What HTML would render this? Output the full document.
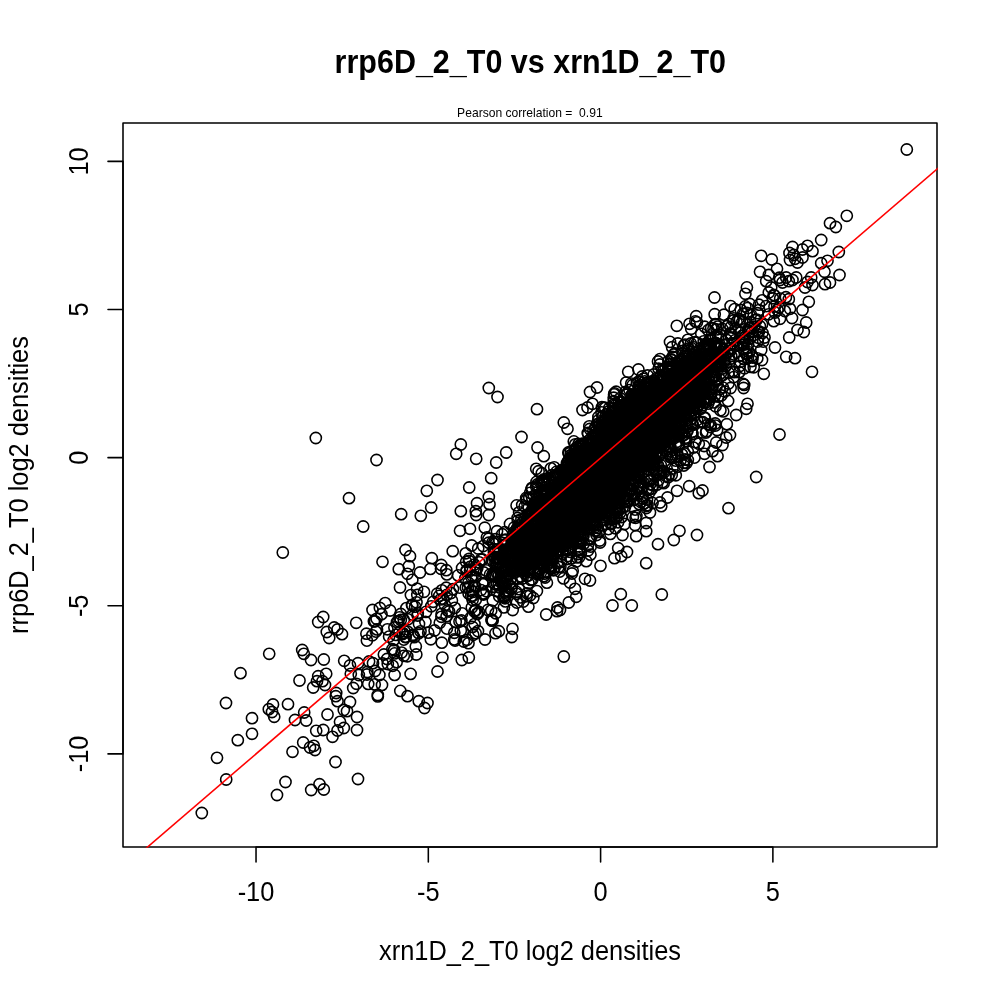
<!DOCTYPE html>
<html><head><meta charset="utf-8"><title>rrp6D_2_T0 vs xrn1D_2_T0</title>
<style>
html,body{margin:0;padding:0;background:#fff;overflow:hidden;}
svg{display:block;}
text{font-family:"Liberation Sans",Arial,Helvetica,sans-serif;fill:#000;}
</style></head><body>
<svg width="1000" height="1000" viewBox="0 0 1000 1000">
<rect width="1000" height="1000" fill="#fff"/>
<defs><clipPath id="clip"><rect x="122.2" y="122.2" width="815.6" height="725.6"/></clipPath></defs>
<g fill="none" stroke="#000" stroke-width="1.56" clip-path="url(#clip)"><circle cx="629.9" cy="475.2" r="5.6"/><circle cx="653.7" cy="374.5" r="5.6"/><circle cx="629.2" cy="420.5" r="5.6"/><circle cx="547.6" cy="498.9" r="5.6"/><circle cx="567.4" cy="485.5" r="5.6"/><circle cx="635.0" cy="406.3" r="5.6"/><circle cx="585.8" cy="465.6" r="5.6"/><circle cx="641.7" cy="453.8" r="5.6"/><circle cx="630.9" cy="458.1" r="5.6"/><circle cx="598.0" cy="500.9" r="5.6"/><circle cx="614.1" cy="474.0" r="5.6"/><circle cx="585.3" cy="469.3" r="5.6"/><circle cx="575.9" cy="500.2" r="5.6"/><circle cx="620.8" cy="449.5" r="5.6"/><circle cx="588.6" cy="481.4" r="5.6"/><circle cx="642.6" cy="402.6" r="5.6"/><circle cx="610.7" cy="449.0" r="5.6"/><circle cx="627.3" cy="404.6" r="5.6"/><circle cx="651.7" cy="397.1" r="5.6"/><circle cx="625.5" cy="457.6" r="5.6"/><circle cx="612.3" cy="476.5" r="5.6"/><circle cx="598.9" cy="480.7" r="5.6"/><circle cx="677.3" cy="389.1" r="5.6"/><circle cx="562.4" cy="517.3" r="5.6"/><circle cx="748.1" cy="344.2" r="5.6"/><circle cx="707.0" cy="349.6" r="5.6"/><circle cx="621.4" cy="451.6" r="5.6"/><circle cx="633.8" cy="400.7" r="5.6"/><circle cx="602.0" cy="473.2" r="5.6"/><circle cx="623.5" cy="414.7" r="5.6"/><circle cx="506.8" cy="571.4" r="5.6"/><circle cx="668.2" cy="433.7" r="5.6"/><circle cx="631.5" cy="450.1" r="5.6"/><circle cx="714.7" cy="314.2" r="5.6"/><circle cx="580.3" cy="468.0" r="5.6"/><circle cx="645.8" cy="409.4" r="5.6"/><circle cx="587.0" cy="478.8" r="5.6"/><circle cx="530.3" cy="551.4" r="5.6"/><circle cx="604.3" cy="431.2" r="5.6"/><circle cx="607.2" cy="461.7" r="5.6"/><circle cx="674.0" cy="393.7" r="5.6"/><circle cx="646.8" cy="432.4" r="5.6"/><circle cx="609.1" cy="462.1" r="5.6"/><circle cx="565.5" cy="499.5" r="5.6"/><circle cx="607.8" cy="449.3" r="5.6"/><circle cx="617.4" cy="438.0" r="5.6"/><circle cx="614.4" cy="452.6" r="5.6"/><circle cx="638.0" cy="422.1" r="5.6"/><circle cx="583.0" cy="513.8" r="5.6"/><circle cx="568.1" cy="499.3" r="5.6"/><circle cx="628.7" cy="455.1" r="5.6"/><circle cx="653.5" cy="422.4" r="5.6"/><circle cx="576.1" cy="459.8" r="5.6"/><circle cx="637.7" cy="438.9" r="5.6"/><circle cx="656.6" cy="426.9" r="5.6"/><circle cx="666.2" cy="393.6" r="5.6"/><circle cx="567.0" cy="522.8" r="5.6"/><circle cx="613.7" cy="483.6" r="5.6"/><circle cx="550.3" cy="509.3" r="5.6"/><circle cx="628.3" cy="439.7" r="5.6"/><circle cx="610.0" cy="474.5" r="5.6"/><circle cx="626.3" cy="462.7" r="5.6"/><circle cx="563.6" cy="527.4" r="5.6"/><circle cx="668.0" cy="413.7" r="5.6"/><circle cx="602.7" cy="416.3" r="5.6"/><circle cx="636.0" cy="447.5" r="5.6"/><circle cx="624.4" cy="463.3" r="5.6"/><circle cx="650.6" cy="417.8" r="5.6"/><circle cx="695.0" cy="352.7" r="5.6"/><circle cx="600.0" cy="512.1" r="5.6"/><circle cx="551.5" cy="535.2" r="5.6"/><circle cx="627.5" cy="432.2" r="5.6"/><circle cx="572.1" cy="507.8" r="5.6"/><circle cx="575.1" cy="485.5" r="5.6"/><circle cx="600.0" cy="479.1" r="5.6"/><circle cx="567.9" cy="501.5" r="5.6"/><circle cx="629.9" cy="458.5" r="5.6"/><circle cx="686.7" cy="390.5" r="5.6"/><circle cx="618.2" cy="449.2" r="5.6"/><circle cx="634.9" cy="437.6" r="5.6"/><circle cx="573.9" cy="460.4" r="5.6"/><circle cx="603.0" cy="464.2" r="5.6"/><circle cx="694.1" cy="390.6" r="5.6"/><circle cx="552.9" cy="535.1" r="5.6"/><circle cx="568.5" cy="527.1" r="5.6"/><circle cx="578.7" cy="488.8" r="5.6"/><circle cx="644.6" cy="417.9" r="5.6"/><circle cx="612.7" cy="444.7" r="5.6"/><circle cx="634.9" cy="474.9" r="5.6"/><circle cx="636.1" cy="466.6" r="5.6"/><circle cx="568.9" cy="482.9" r="5.6"/><circle cx="625.5" cy="391.9" r="5.6"/><circle cx="617.4" cy="433.2" r="5.6"/><circle cx="625.6" cy="428.3" r="5.6"/><circle cx="559.9" cy="518.2" r="5.6"/><circle cx="725.1" cy="355.3" r="5.6"/><circle cx="605.7" cy="456.2" r="5.6"/><circle cx="611.0" cy="474.7" r="5.6"/><circle cx="541.4" cy="554.5" r="5.6"/><circle cx="629.3" cy="436.3" r="5.6"/><circle cx="645.2" cy="446.5" r="5.6"/><circle cx="655.7" cy="434.2" r="5.6"/><circle cx="606.4" cy="510.4" r="5.6"/><circle cx="579.2" cy="479.5" r="5.6"/><circle cx="551.8" cy="507.0" r="5.6"/><circle cx="593.5" cy="475.2" r="5.6"/><circle cx="568.9" cy="518.1" r="5.6"/><circle cx="688.3" cy="395.4" r="5.6"/><circle cx="700.3" cy="376.9" r="5.6"/><circle cx="618.2" cy="449.8" r="5.6"/><circle cx="578.3" cy="499.4" r="5.6"/><circle cx="619.9" cy="461.8" r="5.6"/><circle cx="622.2" cy="456.2" r="5.6"/><circle cx="570.1" cy="519.0" r="5.6"/><circle cx="611.0" cy="480.8" r="5.6"/><circle cx="613.3" cy="453.8" r="5.6"/><circle cx="648.4" cy="434.1" r="5.6"/><circle cx="589.2" cy="479.3" r="5.6"/><circle cx="664.3" cy="394.8" r="5.6"/><circle cx="579.4" cy="506.2" r="5.6"/><circle cx="536.5" cy="525.9" r="5.6"/><circle cx="536.5" cy="525.3" r="5.6"/><circle cx="643.5" cy="429.0" r="5.6"/><circle cx="562.7" cy="470.1" r="5.6"/><circle cx="550.2" cy="524.8" r="5.6"/><circle cx="642.1" cy="395.1" r="5.6"/><circle cx="570.7" cy="477.9" r="5.6"/><circle cx="637.9" cy="432.0" r="5.6"/><circle cx="630.1" cy="423.3" r="5.6"/><circle cx="639.2" cy="432.8" r="5.6"/><circle cx="592.4" cy="443.5" r="5.6"/><circle cx="626.5" cy="432.1" r="5.6"/><circle cx="603.8" cy="429.1" r="5.6"/><circle cx="654.9" cy="428.1" r="5.6"/><circle cx="596.7" cy="485.1" r="5.6"/><circle cx="660.1" cy="359.1" r="5.6"/><circle cx="612.3" cy="453.9" r="5.6"/><circle cx="556.5" cy="519.9" r="5.6"/><circle cx="558.1" cy="530.8" r="5.6"/><circle cx="685.5" cy="378.7" r="5.6"/><circle cx="610.0" cy="441.2" r="5.6"/><circle cx="615.4" cy="431.8" r="5.6"/><circle cx="638.2" cy="428.3" r="5.6"/><circle cx="633.7" cy="451.7" r="5.6"/><circle cx="601.2" cy="461.3" r="5.6"/><circle cx="591.4" cy="483.9" r="5.6"/><circle cx="626.8" cy="474.0" r="5.6"/><circle cx="670.6" cy="388.3" r="5.6"/><circle cx="571.0" cy="513.0" r="5.6"/><circle cx="642.2" cy="439.9" r="5.6"/><circle cx="665.4" cy="393.6" r="5.6"/><circle cx="567.7" cy="503.7" r="5.6"/><circle cx="632.2" cy="450.8" r="5.6"/><circle cx="694.0" cy="400.5" r="5.6"/><circle cx="553.9" cy="478.0" r="5.6"/><circle cx="620.7" cy="479.8" r="5.6"/><circle cx="719.5" cy="344.5" r="5.6"/><circle cx="612.6" cy="457.4" r="5.6"/><circle cx="657.6" cy="431.8" r="5.6"/><circle cx="600.8" cy="472.5" r="5.6"/><circle cx="581.2" cy="489.9" r="5.6"/><circle cx="624.2" cy="436.7" r="5.6"/><circle cx="577.7" cy="486.0" r="5.6"/><circle cx="579.5" cy="462.9" r="5.6"/><circle cx="711.2" cy="347.7" r="5.6"/><circle cx="623.1" cy="465.3" r="5.6"/><circle cx="583.1" cy="460.0" r="5.6"/><circle cx="619.0" cy="445.9" r="5.6"/><circle cx="616.3" cy="485.7" r="5.6"/><circle cx="618.1" cy="422.3" r="5.6"/><circle cx="611.2" cy="473.4" r="5.6"/><circle cx="621.4" cy="454.0" r="5.6"/><circle cx="529.2" cy="531.7" r="5.6"/><circle cx="654.1" cy="401.1" r="5.6"/><circle cx="583.9" cy="480.1" r="5.6"/><circle cx="671.3" cy="366.7" r="5.6"/><circle cx="580.8" cy="506.5" r="5.6"/><circle cx="678.5" cy="399.2" r="5.6"/><circle cx="637.3" cy="437.3" r="5.6"/><circle cx="620.7" cy="413.3" r="5.6"/><circle cx="566.1" cy="470.7" r="5.6"/><circle cx="568.7" cy="523.8" r="5.6"/><circle cx="555.7" cy="491.5" r="5.6"/><circle cx="651.6" cy="421.6" r="5.6"/><circle cx="608.3" cy="511.9" r="5.6"/><circle cx="535.0" cy="515.5" r="5.6"/><circle cx="621.1" cy="483.3" r="5.6"/><circle cx="635.6" cy="471.9" r="5.6"/><circle cx="551.4" cy="502.0" r="5.6"/><circle cx="564.6" cy="490.5" r="5.6"/><circle cx="748.1" cy="330.2" r="5.6"/><circle cx="610.6" cy="480.7" r="5.6"/><circle cx="531.8" cy="535.3" r="5.6"/><circle cx="668.1" cy="417.0" r="5.6"/><circle cx="604.3" cy="470.2" r="5.6"/><circle cx="640.1" cy="439.9" r="5.6"/><circle cx="665.9" cy="408.0" r="5.6"/><circle cx="521.3" cy="568.8" r="5.6"/><circle cx="511.7" cy="569.8" r="5.6"/><circle cx="665.9" cy="395.0" r="5.6"/><circle cx="594.0" cy="505.7" r="5.6"/><circle cx="646.3" cy="414.4" r="5.6"/><circle cx="613.8" cy="453.7" r="5.6"/><circle cx="675.9" cy="411.9" r="5.6"/><circle cx="705.9" cy="383.6" r="5.6"/><circle cx="661.1" cy="426.5" r="5.6"/><circle cx="597.9" cy="480.1" r="5.6"/><circle cx="637.7" cy="447.7" r="5.6"/><circle cx="580.3" cy="471.9" r="5.6"/><circle cx="624.6" cy="463.3" r="5.6"/><circle cx="640.8" cy="424.2" r="5.6"/><circle cx="619.3" cy="462.1" r="5.6"/><circle cx="554.2" cy="503.9" r="5.6"/><circle cx="634.5" cy="423.1" r="5.6"/><circle cx="623.0" cy="467.4" r="5.6"/><circle cx="596.0" cy="483.5" r="5.6"/><circle cx="609.8" cy="457.7" r="5.6"/><circle cx="627.3" cy="425.5" r="5.6"/><circle cx="650.3" cy="418.9" r="5.6"/><circle cx="628.8" cy="428.7" r="5.6"/><circle cx="619.5" cy="456.3" r="5.6"/><circle cx="579.4" cy="494.7" r="5.6"/><circle cx="586.4" cy="506.8" r="5.6"/><circle cx="675.8" cy="427.1" r="5.6"/><circle cx="586.7" cy="501.0" r="5.6"/><circle cx="555.6" cy="501.2" r="5.6"/><circle cx="649.9" cy="412.9" r="5.6"/><circle cx="594.7" cy="483.4" r="5.6"/><circle cx="592.5" cy="456.9" r="5.6"/><circle cx="592.7" cy="467.0" r="5.6"/><circle cx="511.8" cy="587.1" r="5.6"/><circle cx="633.7" cy="421.2" r="5.6"/><circle cx="599.7" cy="470.2" r="5.6"/><circle cx="542.1" cy="533.2" r="5.6"/><circle cx="651.1" cy="431.5" r="5.6"/><circle cx="577.6" cy="485.9" r="5.6"/><circle cx="556.4" cy="498.5" r="5.6"/><circle cx="607.9" cy="474.3" r="5.6"/><circle cx="621.6" cy="442.0" r="5.6"/><circle cx="602.5" cy="495.4" r="5.6"/><circle cx="532.4" cy="544.1" r="5.6"/><circle cx="703.2" cy="353.8" r="5.6"/><circle cx="642.8" cy="409.2" r="5.6"/><circle cx="535.7" cy="541.9" r="5.6"/><circle cx="581.7" cy="470.1" r="5.6"/><circle cx="630.4" cy="446.6" r="5.6"/><circle cx="628.9" cy="441.2" r="5.6"/><circle cx="595.7" cy="486.3" r="5.6"/><circle cx="600.4" cy="471.9" r="5.6"/><circle cx="575.4" cy="497.8" r="5.6"/><circle cx="578.7" cy="500.1" r="5.6"/><circle cx="589.2" cy="456.3" r="5.6"/><circle cx="569.2" cy="459.8" r="5.6"/><circle cx="616.5" cy="470.4" r="5.6"/><circle cx="590.4" cy="474.8" r="5.6"/><circle cx="601.2" cy="476.7" r="5.6"/><circle cx="569.6" cy="493.1" r="5.6"/><circle cx="581.7" cy="495.0" r="5.6"/><circle cx="524.7" cy="506.5" r="5.6"/><circle cx="664.2" cy="413.5" r="5.6"/><circle cx="614.6" cy="435.4" r="5.6"/><circle cx="544.7" cy="501.7" r="5.6"/><circle cx="611.3" cy="465.6" r="5.6"/><circle cx="609.9" cy="432.2" r="5.6"/><circle cx="657.6" cy="412.9" r="5.6"/><circle cx="658.4" cy="420.7" r="5.6"/><circle cx="643.9" cy="442.6" r="5.6"/><circle cx="596.0" cy="465.7" r="5.6"/><circle cx="735.4" cy="328.5" r="5.6"/><circle cx="577.8" cy="492.1" r="5.6"/><circle cx="649.1" cy="446.6" r="5.6"/><circle cx="655.7" cy="448.5" r="5.6"/><circle cx="614.7" cy="427.5" r="5.6"/><circle cx="523.8" cy="569.1" r="5.6"/><circle cx="644.0" cy="450.7" r="5.6"/><circle cx="655.4" cy="410.6" r="5.6"/><circle cx="590.2" cy="494.3" r="5.6"/><circle cx="626.7" cy="450.0" r="5.6"/><circle cx="636.9" cy="441.4" r="5.6"/><circle cx="567.3" cy="509.9" r="5.6"/><circle cx="634.6" cy="420.8" r="5.6"/><circle cx="622.6" cy="433.3" r="5.6"/><circle cx="646.4" cy="414.5" r="5.6"/><circle cx="682.2" cy="360.2" r="5.6"/><circle cx="601.4" cy="485.5" r="5.6"/><circle cx="568.9" cy="498.4" r="5.6"/><circle cx="662.7" cy="377.6" r="5.6"/><circle cx="605.5" cy="466.3" r="5.6"/><circle cx="573.6" cy="460.3" r="5.6"/><circle cx="619.4" cy="441.3" r="5.6"/><circle cx="599.5" cy="497.2" r="5.6"/><circle cx="651.8" cy="427.5" r="5.6"/><circle cx="579.3" cy="482.1" r="5.6"/><circle cx="523.5" cy="538.7" r="5.6"/><circle cx="628.1" cy="436.3" r="5.6"/><circle cx="583.0" cy="480.0" r="5.6"/><circle cx="620.5" cy="472.1" r="5.6"/><circle cx="588.6" cy="479.6" r="5.6"/><circle cx="647.7" cy="414.9" r="5.6"/><circle cx="605.8" cy="459.2" r="5.6"/><circle cx="598.1" cy="445.9" r="5.6"/><circle cx="684.5" cy="395.8" r="5.6"/><circle cx="612.7" cy="419.7" r="5.6"/><circle cx="596.5" cy="448.8" r="5.6"/><circle cx="565.1" cy="486.2" r="5.6"/><circle cx="597.6" cy="480.2" r="5.6"/><circle cx="540.9" cy="517.9" r="5.6"/><circle cx="581.0" cy="459.9" r="5.6"/><circle cx="572.3" cy="477.6" r="5.6"/><circle cx="594.4" cy="435.5" r="5.6"/><circle cx="606.9" cy="495.4" r="5.6"/><circle cx="682.7" cy="399.3" r="5.6"/><circle cx="614.4" cy="501.0" r="5.6"/><circle cx="696.0" cy="377.3" r="5.6"/><circle cx="682.2" cy="380.3" r="5.6"/><circle cx="608.6" cy="462.8" r="5.6"/><circle cx="580.6" cy="466.8" r="5.6"/><circle cx="567.3" cy="478.2" r="5.6"/><circle cx="631.9" cy="467.4" r="5.6"/><circle cx="601.5" cy="467.6" r="5.6"/><circle cx="560.5" cy="506.5" r="5.6"/><circle cx="566.7" cy="538.7" r="5.6"/><circle cx="622.0" cy="430.3" r="5.6"/><circle cx="586.6" cy="492.1" r="5.6"/><circle cx="659.6" cy="443.5" r="5.6"/><circle cx="555.8" cy="516.8" r="5.6"/><circle cx="611.9" cy="450.0" r="5.6"/><circle cx="636.3" cy="437.1" r="5.6"/><circle cx="679.4" cy="386.3" r="5.6"/><circle cx="580.8" cy="481.7" r="5.6"/><circle cx="614.2" cy="474.0" r="5.6"/><circle cx="588.4" cy="467.9" r="5.6"/><circle cx="532.7" cy="562.8" r="5.6"/><circle cx="498.7" cy="584.5" r="5.6"/><circle cx="625.7" cy="472.5" r="5.6"/><circle cx="557.7" cy="491.5" r="5.6"/><circle cx="642.2" cy="376.5" r="5.6"/><circle cx="547.0" cy="531.8" r="5.6"/><circle cx="587.9" cy="457.6" r="5.6"/><circle cx="602.5" cy="469.6" r="5.6"/><circle cx="582.0" cy="500.3" r="5.6"/><circle cx="608.9" cy="469.6" r="5.6"/><circle cx="652.3" cy="430.3" r="5.6"/><circle cx="585.0" cy="490.8" r="5.6"/><circle cx="656.9" cy="429.5" r="5.6"/><circle cx="612.9" cy="467.3" r="5.6"/><circle cx="696.8" cy="382.3" r="5.6"/><circle cx="654.8" cy="392.9" r="5.6"/><circle cx="633.5" cy="422.3" r="5.6"/><circle cx="656.3" cy="386.0" r="5.6"/><circle cx="629.5" cy="390.1" r="5.6"/><circle cx="571.3" cy="541.5" r="5.6"/><circle cx="665.7" cy="450.1" r="5.6"/><circle cx="584.2" cy="473.4" r="5.6"/><circle cx="637.2" cy="424.4" r="5.6"/><circle cx="579.0" cy="503.5" r="5.6"/><circle cx="662.9" cy="409.9" r="5.6"/><circle cx="575.9" cy="523.3" r="5.6"/><circle cx="615.2" cy="456.8" r="5.6"/><circle cx="610.7" cy="475.9" r="5.6"/><circle cx="672.1" cy="347.2" r="5.6"/><circle cx="648.2" cy="422.6" r="5.6"/><circle cx="551.7" cy="503.4" r="5.6"/><circle cx="635.5" cy="394.3" r="5.6"/><circle cx="575.4" cy="487.7" r="5.6"/><circle cx="718.8" cy="358.8" r="5.6"/><circle cx="696.6" cy="373.4" r="5.6"/><circle cx="585.9" cy="500.4" r="5.6"/><circle cx="546.0" cy="495.8" r="5.6"/><circle cx="680.4" cy="416.8" r="5.6"/><circle cx="552.7" cy="537.2" r="5.6"/><circle cx="638.5" cy="407.9" r="5.6"/><circle cx="663.5" cy="426.2" r="5.6"/><circle cx="579.3" cy="516.4" r="5.6"/><circle cx="585.7" cy="491.1" r="5.6"/><circle cx="606.8" cy="468.8" r="5.6"/><circle cx="688.5" cy="374.4" r="5.6"/><circle cx="612.7" cy="454.2" r="5.6"/><circle cx="563.2" cy="496.5" r="5.6"/><circle cx="657.8" cy="388.7" r="5.6"/><circle cx="603.4" cy="487.4" r="5.6"/><circle cx="607.8" cy="448.3" r="5.6"/><circle cx="555.7" cy="475.6" r="5.6"/><circle cx="583.7" cy="474.7" r="5.6"/><circle cx="575.1" cy="482.0" r="5.6"/><circle cx="578.6" cy="489.7" r="5.6"/><circle cx="651.2" cy="422.7" r="5.6"/><circle cx="618.2" cy="468.7" r="5.6"/><circle cx="625.5" cy="468.0" r="5.6"/><circle cx="603.0" cy="447.2" r="5.6"/><circle cx="697.3" cy="371.6" r="5.6"/><circle cx="603.2" cy="454.2" r="5.6"/><circle cx="600.9" cy="481.2" r="5.6"/><circle cx="569.4" cy="492.4" r="5.6"/><circle cx="649.8" cy="407.2" r="5.6"/><circle cx="681.3" cy="388.9" r="5.6"/><circle cx="585.1" cy="471.7" r="5.6"/><circle cx="636.4" cy="463.1" r="5.6"/><circle cx="712.0" cy="356.8" r="5.6"/><circle cx="692.6" cy="406.9" r="5.6"/><circle cx="640.8" cy="437.9" r="5.6"/><circle cx="659.7" cy="404.3" r="5.6"/><circle cx="593.8" cy="453.4" r="5.6"/><circle cx="671.7" cy="374.1" r="5.6"/><circle cx="662.8" cy="410.9" r="5.6"/><circle cx="498.7" cy="576.0" r="5.6"/><circle cx="651.0" cy="412.6" r="5.6"/><circle cx="552.9" cy="492.7" r="5.6"/><circle cx="596.4" cy="458.0" r="5.6"/><circle cx="553.8" cy="508.7" r="5.6"/><circle cx="560.1" cy="513.5" r="5.6"/><circle cx="569.4" cy="516.3" r="5.6"/><circle cx="648.6" cy="432.3" r="5.6"/><circle cx="657.8" cy="408.4" r="5.6"/><circle cx="618.7" cy="440.3" r="5.6"/><circle cx="605.7" cy="508.4" r="5.6"/><circle cx="609.8" cy="453.4" r="5.6"/><circle cx="622.8" cy="450.7" r="5.6"/><circle cx="643.4" cy="413.0" r="5.6"/><circle cx="628.2" cy="444.6" r="5.6"/><circle cx="630.1" cy="419.9" r="5.6"/><circle cx="562.4" cy="514.9" r="5.6"/><circle cx="643.2" cy="439.4" r="5.6"/><circle cx="627.0" cy="429.1" r="5.6"/><circle cx="633.8" cy="441.4" r="5.6"/><circle cx="538.8" cy="539.3" r="5.6"/><circle cx="637.9" cy="474.5" r="5.6"/><circle cx="699.7" cy="388.1" r="5.6"/><circle cx="603.9" cy="420.5" r="5.6"/><circle cx="622.4" cy="444.2" r="5.6"/><circle cx="579.1" cy="488.0" r="5.6"/><circle cx="583.4" cy="502.6" r="5.6"/><circle cx="610.2" cy="458.7" r="5.6"/><circle cx="667.8" cy="406.4" r="5.6"/><circle cx="669.0" cy="389.0" r="5.6"/><circle cx="584.9" cy="471.7" r="5.6"/><circle cx="646.4" cy="439.8" r="5.6"/><circle cx="667.1" cy="420.9" r="5.6"/><circle cx="681.4" cy="399.7" r="5.6"/><circle cx="656.1" cy="397.4" r="5.6"/><circle cx="594.8" cy="486.6" r="5.6"/><circle cx="634.1" cy="429.7" r="5.6"/><circle cx="615.4" cy="433.4" r="5.6"/><circle cx="656.9" cy="436.1" r="5.6"/><circle cx="506.2" cy="590.6" r="5.6"/><circle cx="658.3" cy="430.3" r="5.6"/><circle cx="626.7" cy="456.1" r="5.6"/><circle cx="614.6" cy="426.5" r="5.6"/><circle cx="636.8" cy="448.3" r="5.6"/><circle cx="573.6" cy="488.9" r="5.6"/><circle cx="603.5" cy="454.7" r="5.6"/><circle cx="622.4" cy="434.2" r="5.6"/><circle cx="704.4" cy="387.2" r="5.6"/><circle cx="615.3" cy="453.2" r="5.6"/><circle cx="680.5" cy="406.3" r="5.6"/><circle cx="701.0" cy="391.1" r="5.6"/><circle cx="616.6" cy="480.6" r="5.6"/><circle cx="532.3" cy="546.5" r="5.6"/><circle cx="576.9" cy="498.0" r="5.6"/><circle cx="591.8" cy="440.6" r="5.6"/><circle cx="625.9" cy="415.7" r="5.6"/><circle cx="613.8" cy="495.4" r="5.6"/><circle cx="601.1" cy="475.7" r="5.6"/><circle cx="602.7" cy="455.1" r="5.6"/><circle cx="619.9" cy="430.2" r="5.6"/><circle cx="634.4" cy="396.8" r="5.6"/><circle cx="568.4" cy="497.9" r="5.6"/><circle cx="612.2" cy="442.5" r="5.6"/><circle cx="536.6" cy="522.0" r="5.6"/><circle cx="625.7" cy="425.5" r="5.6"/><circle cx="643.8" cy="442.0" r="5.6"/><circle cx="604.5" cy="492.3" r="5.6"/><circle cx="626.9" cy="411.2" r="5.6"/><circle cx="642.1" cy="450.6" r="5.6"/><circle cx="645.9" cy="422.3" r="5.6"/><circle cx="624.6" cy="462.0" r="5.6"/><circle cx="638.2" cy="429.0" r="5.6"/><circle cx="662.7" cy="416.8" r="5.6"/><circle cx="632.4" cy="415.8" r="5.6"/><circle cx="617.2" cy="466.9" r="5.6"/><circle cx="562.7" cy="516.3" r="5.6"/><circle cx="675.9" cy="399.1" r="5.6"/><circle cx="619.3" cy="468.3" r="5.6"/><circle cx="571.7" cy="512.1" r="5.6"/><circle cx="671.7" cy="394.1" r="5.6"/><circle cx="620.8" cy="437.4" r="5.6"/><circle cx="668.1" cy="370.1" r="5.6"/><circle cx="626.2" cy="460.4" r="5.6"/><circle cx="604.0" cy="441.3" r="5.6"/><circle cx="593.7" cy="464.8" r="5.6"/><circle cx="584.6" cy="468.1" r="5.6"/><circle cx="505.9" cy="544.2" r="5.6"/><circle cx="601.0" cy="458.2" r="5.6"/><circle cx="614.1" cy="444.6" r="5.6"/><circle cx="544.2" cy="490.2" r="5.6"/><circle cx="721.4" cy="351.6" r="5.6"/><circle cx="543.3" cy="521.6" r="5.6"/><circle cx="666.5" cy="406.2" r="5.6"/><circle cx="552.7" cy="499.5" r="5.6"/><circle cx="668.1" cy="369.5" r="5.6"/><circle cx="657.0" cy="443.6" r="5.6"/><circle cx="646.1" cy="397.6" r="5.6"/><circle cx="642.0" cy="414.6" r="5.6"/><circle cx="625.6" cy="403.1" r="5.6"/><circle cx="547.3" cy="519.2" r="5.6"/><circle cx="643.2" cy="448.9" r="5.6"/><circle cx="529.1" cy="516.1" r="5.6"/><circle cx="548.2" cy="522.5" r="5.6"/><circle cx="654.2" cy="407.4" r="5.6"/><circle cx="620.8" cy="434.1" r="5.6"/><circle cx="572.2" cy="461.5" r="5.6"/><circle cx="625.2" cy="457.4" r="5.6"/><circle cx="649.7" cy="461.6" r="5.6"/><circle cx="666.0" cy="383.4" r="5.6"/><circle cx="659.9" cy="418.8" r="5.6"/><circle cx="641.1" cy="434.6" r="5.6"/><circle cx="692.3" cy="379.6" r="5.6"/><circle cx="535.7" cy="549.2" r="5.6"/><circle cx="498.1" cy="562.3" r="5.6"/><circle cx="574.3" cy="494.5" r="5.6"/><circle cx="609.9" cy="453.3" r="5.6"/><circle cx="542.8" cy="567.1" r="5.6"/><circle cx="538.7" cy="552.8" r="5.6"/><circle cx="677.5" cy="417.4" r="5.6"/><circle cx="584.3" cy="458.3" r="5.6"/><circle cx="641.6" cy="408.3" r="5.6"/><circle cx="643.0" cy="437.3" r="5.6"/><circle cx="599.2" cy="469.6" r="5.6"/><circle cx="674.9" cy="399.6" r="5.6"/><circle cx="584.3" cy="522.9" r="5.6"/><circle cx="706.3" cy="399.4" r="5.6"/><circle cx="672.5" cy="382.2" r="5.6"/><circle cx="563.1" cy="514.6" r="5.6"/><circle cx="613.7" cy="472.5" r="5.6"/><circle cx="563.5" cy="522.9" r="5.6"/><circle cx="564.4" cy="491.6" r="5.6"/><circle cx="650.2" cy="418.0" r="5.6"/><circle cx="608.3" cy="460.3" r="5.6"/><circle cx="556.2" cy="512.8" r="5.6"/><circle cx="589.4" cy="481.9" r="5.6"/><circle cx="558.2" cy="531.8" r="5.6"/><circle cx="606.3" cy="458.6" r="5.6"/><circle cx="673.5" cy="374.7" r="5.6"/><circle cx="556.2" cy="525.0" r="5.6"/><circle cx="584.7" cy="482.5" r="5.6"/><circle cx="651.1" cy="422.7" r="5.6"/><circle cx="687.4" cy="385.4" r="5.6"/><circle cx="564.6" cy="491.8" r="5.6"/><circle cx="547.2" cy="526.8" r="5.6"/><circle cx="652.6" cy="442.1" r="5.6"/><circle cx="600.5" cy="452.4" r="5.6"/><circle cx="610.1" cy="485.8" r="5.6"/><circle cx="600.7" cy="482.9" r="5.6"/><circle cx="576.1" cy="497.9" r="5.6"/><circle cx="657.3" cy="406.3" r="5.6"/><circle cx="560.4" cy="514.9" r="5.6"/><circle cx="566.1" cy="493.9" r="5.6"/><circle cx="639.2" cy="418.9" r="5.6"/><circle cx="616.6" cy="462.1" r="5.6"/><circle cx="620.9" cy="465.6" r="5.6"/><circle cx="702.0" cy="375.2" r="5.6"/><circle cx="603.7" cy="481.4" r="5.6"/><circle cx="706.7" cy="368.9" r="5.6"/><circle cx="632.6" cy="395.2" r="5.6"/><circle cx="706.7" cy="367.4" r="5.6"/><circle cx="646.9" cy="441.7" r="5.6"/><circle cx="656.6" cy="392.8" r="5.6"/><circle cx="614.5" cy="442.9" r="5.6"/><circle cx="711.2" cy="340.7" r="5.6"/><circle cx="522.2" cy="571.6" r="5.6"/><circle cx="550.4" cy="522.6" r="5.6"/><circle cx="619.0" cy="458.7" r="5.6"/><circle cx="628.1" cy="427.6" r="5.6"/><circle cx="647.1" cy="449.9" r="5.6"/><circle cx="629.7" cy="419.8" r="5.6"/><circle cx="660.5" cy="424.7" r="5.6"/><circle cx="626.6" cy="409.1" r="5.6"/><circle cx="647.9" cy="428.6" r="5.6"/><circle cx="570.1" cy="479.8" r="5.6"/><circle cx="567.0" cy="490.9" r="5.6"/><circle cx="559.7" cy="521.8" r="5.6"/><circle cx="608.0" cy="484.9" r="5.6"/><circle cx="594.8" cy="474.1" r="5.6"/><circle cx="629.3" cy="438.1" r="5.6"/><circle cx="541.4" cy="546.6" r="5.6"/><circle cx="538.6" cy="547.5" r="5.6"/><circle cx="589.6" cy="511.7" r="5.6"/><circle cx="640.0" cy="431.0" r="5.6"/><circle cx="549.7" cy="496.2" r="5.6"/><circle cx="593.9" cy="470.8" r="5.6"/><circle cx="691.6" cy="395.4" r="5.6"/><circle cx="655.4" cy="421.9" r="5.6"/><circle cx="577.4" cy="482.8" r="5.6"/><circle cx="517.9" cy="520.7" r="5.6"/><circle cx="632.0" cy="461.7" r="5.6"/><circle cx="628.2" cy="429.5" r="5.6"/><circle cx="705.6" cy="368.9" r="5.6"/><circle cx="613.8" cy="465.8" r="5.6"/><circle cx="628.1" cy="424.1" r="5.6"/><circle cx="542.1" cy="520.0" r="5.6"/><circle cx="587.0" cy="494.5" r="5.6"/><circle cx="721.5" cy="362.4" r="5.6"/><circle cx="683.7" cy="345.5" r="5.6"/><circle cx="613.2" cy="472.2" r="5.6"/><circle cx="542.3" cy="534.3" r="5.6"/><circle cx="619.1" cy="401.8" r="5.6"/><circle cx="657.0" cy="417.1" r="5.6"/><circle cx="600.5" cy="460.2" r="5.6"/><circle cx="649.2" cy="409.0" r="5.6"/><circle cx="576.6" cy="483.4" r="5.6"/><circle cx="590.3" cy="480.6" r="5.6"/><circle cx="526.9" cy="499.3" r="5.6"/><circle cx="573.7" cy="513.0" r="5.6"/><circle cx="597.4" cy="511.2" r="5.6"/><circle cx="578.6" cy="443.8" r="5.6"/><circle cx="654.9" cy="426.8" r="5.6"/><circle cx="636.4" cy="453.8" r="5.6"/><circle cx="596.5" cy="449.6" r="5.6"/><circle cx="704.7" cy="346.0" r="5.6"/><circle cx="623.4" cy="434.9" r="5.6"/><circle cx="596.2" cy="468.1" r="5.6"/><circle cx="697.1" cy="386.2" r="5.6"/><circle cx="706.8" cy="348.2" r="5.6"/><circle cx="635.2" cy="427.0" r="5.6"/><circle cx="660.2" cy="428.6" r="5.6"/><circle cx="567.1" cy="508.0" r="5.6"/><circle cx="588.8" cy="486.5" r="5.6"/><circle cx="595.1" cy="484.3" r="5.6"/><circle cx="645.7" cy="458.4" r="5.6"/><circle cx="619.5" cy="486.4" r="5.6"/><circle cx="632.7" cy="439.4" r="5.6"/><circle cx="582.9" cy="479.5" r="5.6"/><circle cx="614.2" cy="463.7" r="5.6"/><circle cx="557.2" cy="490.4" r="5.6"/><circle cx="576.2" cy="527.5" r="5.6"/><circle cx="684.4" cy="390.6" r="5.6"/><circle cx="701.4" cy="357.5" r="5.6"/><circle cx="531.7" cy="540.7" r="5.6"/><circle cx="640.2" cy="453.1" r="5.6"/><circle cx="664.1" cy="390.8" r="5.6"/><circle cx="621.4" cy="445.0" r="5.6"/><circle cx="582.8" cy="490.7" r="5.6"/><circle cx="666.1" cy="374.7" r="5.6"/><circle cx="639.1" cy="460.3" r="5.6"/><circle cx="592.5" cy="490.4" r="5.6"/><circle cx="584.4" cy="491.0" r="5.6"/><circle cx="684.2" cy="371.7" r="5.6"/><circle cx="636.4" cy="448.8" r="5.6"/><circle cx="663.5" cy="407.5" r="5.6"/><circle cx="504.0" cy="597.0" r="5.6"/><circle cx="624.7" cy="445.8" r="5.6"/><circle cx="506.7" cy="576.1" r="5.6"/><circle cx="621.8" cy="475.7" r="5.6"/><circle cx="650.0" cy="422.4" r="5.6"/><circle cx="508.5" cy="574.0" r="5.6"/><circle cx="607.6" cy="471.3" r="5.6"/><circle cx="703.5" cy="373.5" r="5.6"/><circle cx="607.2" cy="458.4" r="5.6"/><circle cx="554.6" cy="516.7" r="5.6"/><circle cx="616.2" cy="472.8" r="5.6"/><circle cx="720.5" cy="356.5" r="5.6"/><circle cx="588.2" cy="510.6" r="5.6"/><circle cx="591.8" cy="497.1" r="5.6"/><circle cx="539.6" cy="540.0" r="5.6"/><circle cx="651.9" cy="411.1" r="5.6"/><circle cx="598.3" cy="443.2" r="5.6"/><circle cx="638.9" cy="387.0" r="5.6"/><circle cx="656.0" cy="418.1" r="5.6"/><circle cx="569.1" cy="536.5" r="5.6"/><circle cx="580.5" cy="499.2" r="5.6"/><circle cx="565.7" cy="474.3" r="5.6"/><circle cx="586.0" cy="467.0" r="5.6"/><circle cx="667.7" cy="396.7" r="5.6"/><circle cx="538.3" cy="528.9" r="5.6"/><circle cx="600.0" cy="458.5" r="5.6"/><circle cx="684.3" cy="410.4" r="5.6"/><circle cx="653.8" cy="440.0" r="5.6"/><circle cx="636.4" cy="431.2" r="5.6"/><circle cx="570.7" cy="511.8" r="5.6"/><circle cx="749.7" cy="331.5" r="5.6"/><circle cx="559.4" cy="505.8" r="5.6"/><circle cx="561.0" cy="526.0" r="5.6"/><circle cx="589.4" cy="471.4" r="5.6"/><circle cx="661.6" cy="413.4" r="5.6"/><circle cx="597.2" cy="468.2" r="5.6"/><circle cx="640.8" cy="418.6" r="5.6"/><circle cx="649.2" cy="424.7" r="5.6"/><circle cx="544.1" cy="519.9" r="5.6"/><circle cx="697.3" cy="384.2" r="5.6"/><circle cx="640.2" cy="453.0" r="5.6"/><circle cx="585.2" cy="497.7" r="5.6"/><circle cx="644.1" cy="420.4" r="5.6"/><circle cx="712.5" cy="366.9" r="5.6"/><circle cx="639.3" cy="424.9" r="5.6"/><circle cx="598.3" cy="424.6" r="5.6"/><circle cx="641.6" cy="434.2" r="5.6"/><circle cx="656.5" cy="407.3" r="5.6"/><circle cx="497.3" cy="573.8" r="5.6"/><circle cx="713.7" cy="344.3" r="5.6"/><circle cx="557.6" cy="510.8" r="5.6"/><circle cx="696.8" cy="387.4" r="5.6"/><circle cx="690.6" cy="381.1" r="5.6"/><circle cx="599.0" cy="468.8" r="5.6"/><circle cx="584.1" cy="487.2" r="5.6"/><circle cx="619.3" cy="451.8" r="5.6"/><circle cx="670.3" cy="403.4" r="5.6"/><circle cx="599.6" cy="462.6" r="5.6"/><circle cx="612.5" cy="469.5" r="5.6"/><circle cx="639.2" cy="418.7" r="5.6"/><circle cx="660.1" cy="406.3" r="5.6"/><circle cx="699.2" cy="387.0" r="5.6"/><circle cx="632.1" cy="458.5" r="5.6"/><circle cx="664.8" cy="400.0" r="5.6"/><circle cx="652.2" cy="417.7" r="5.6"/><circle cx="657.4" cy="400.7" r="5.6"/><circle cx="581.8" cy="489.4" r="5.6"/><circle cx="563.6" cy="507.0" r="5.6"/><circle cx="661.6" cy="435.5" r="5.6"/><circle cx="658.8" cy="432.2" r="5.6"/><circle cx="676.2" cy="388.5" r="5.6"/><circle cx="611.4" cy="465.1" r="5.6"/><circle cx="626.4" cy="447.9" r="5.6"/><circle cx="641.6" cy="419.7" r="5.6"/><circle cx="670.2" cy="418.5" r="5.6"/><circle cx="635.0" cy="452.2" r="5.6"/><circle cx="626.1" cy="469.5" r="5.6"/><circle cx="668.0" cy="401.3" r="5.6"/><circle cx="583.4" cy="489.0" r="5.6"/><circle cx="699.7" cy="400.6" r="5.6"/><circle cx="603.7" cy="421.9" r="5.6"/><circle cx="581.2" cy="475.9" r="5.6"/><circle cx="639.1" cy="412.1" r="5.6"/><circle cx="558.5" cy="506.8" r="5.6"/><circle cx="660.2" cy="390.2" r="5.6"/><circle cx="640.9" cy="447.3" r="5.6"/><circle cx="671.8" cy="421.5" r="5.6"/><circle cx="606.1" cy="471.4" r="5.6"/><circle cx="547.8" cy="534.8" r="5.6"/><circle cx="631.6" cy="434.8" r="5.6"/><circle cx="672.2" cy="383.8" r="5.6"/><circle cx="590.3" cy="488.3" r="5.6"/><circle cx="672.6" cy="399.8" r="5.6"/><circle cx="596.9" cy="481.0" r="5.6"/><circle cx="643.3" cy="428.8" r="5.6"/><circle cx="593.5" cy="456.1" r="5.6"/><circle cx="603.1" cy="455.4" r="5.6"/><circle cx="685.6" cy="368.7" r="5.6"/><circle cx="605.9" cy="418.9" r="5.6"/><circle cx="603.5" cy="462.5" r="5.6"/><circle cx="584.7" cy="477.4" r="5.6"/><circle cx="634.3" cy="427.3" r="5.6"/><circle cx="620.3" cy="457.1" r="5.6"/><circle cx="570.8" cy="491.0" r="5.6"/><circle cx="570.7" cy="524.2" r="5.6"/><circle cx="650.6" cy="442.1" r="5.6"/><circle cx="602.5" cy="466.6" r="5.6"/><circle cx="695.5" cy="376.9" r="5.6"/><circle cx="663.0" cy="410.4" r="5.6"/><circle cx="522.7" cy="532.6" r="5.6"/><circle cx="566.8" cy="491.1" r="5.6"/><circle cx="659.3" cy="398.0" r="5.6"/><circle cx="574.6" cy="494.1" r="5.6"/><circle cx="687.2" cy="392.6" r="5.6"/><circle cx="616.3" cy="453.4" r="5.6"/><circle cx="701.5" cy="396.2" r="5.6"/><circle cx="594.2" cy="487.3" r="5.6"/><circle cx="502.2" cy="571.9" r="5.6"/><circle cx="626.0" cy="469.6" r="5.6"/><circle cx="720.1" cy="366.0" r="5.6"/><circle cx="599.2" cy="485.3" r="5.6"/><circle cx="686.8" cy="409.2" r="5.6"/><circle cx="597.6" cy="466.4" r="5.6"/><circle cx="649.4" cy="429.7" r="5.6"/><circle cx="646.5" cy="403.7" r="5.6"/><circle cx="659.0" cy="425.7" r="5.6"/><circle cx="536.0" cy="509.4" r="5.6"/><circle cx="662.7" cy="420.2" r="5.6"/><circle cx="607.8" cy="465.7" r="5.6"/><circle cx="533.6" cy="562.1" r="5.6"/><circle cx="673.6" cy="429.3" r="5.6"/><circle cx="625.9" cy="429.7" r="5.6"/><circle cx="610.9" cy="468.6" r="5.6"/><circle cx="544.3" cy="539.1" r="5.6"/><circle cx="523.9" cy="537.7" r="5.6"/><circle cx="578.0" cy="522.3" r="5.6"/><circle cx="671.6" cy="392.1" r="5.6"/><circle cx="523.5" cy="541.7" r="5.6"/><circle cx="677.0" cy="392.2" r="5.6"/><circle cx="605.9" cy="485.2" r="5.6"/><circle cx="577.8" cy="519.4" r="5.6"/><circle cx="607.6" cy="456.1" r="5.6"/><circle cx="743.0" cy="313.7" r="5.6"/><circle cx="523.9" cy="533.0" r="5.6"/><circle cx="656.8" cy="398.3" r="5.6"/><circle cx="595.5" cy="471.8" r="5.6"/><circle cx="607.8" cy="473.7" r="5.6"/><circle cx="665.3" cy="384.5" r="5.6"/><circle cx="639.4" cy="421.1" r="5.6"/><circle cx="526.4" cy="516.3" r="5.6"/><circle cx="676.5" cy="405.9" r="5.6"/><circle cx="614.6" cy="453.0" r="5.6"/><circle cx="588.3" cy="462.3" r="5.6"/><circle cx="628.0" cy="460.1" r="5.6"/><circle cx="614.6" cy="443.3" r="5.6"/><circle cx="602.6" cy="470.0" r="5.6"/><circle cx="565.9" cy="528.9" r="5.6"/><circle cx="616.1" cy="490.8" r="5.6"/><circle cx="646.0" cy="414.3" r="5.6"/><circle cx="622.7" cy="473.4" r="5.6"/><circle cx="618.5" cy="434.5" r="5.6"/><circle cx="642.7" cy="426.2" r="5.6"/><circle cx="644.5" cy="434.1" r="5.6"/><circle cx="593.8" cy="461.6" r="5.6"/><circle cx="663.5" cy="397.9" r="5.6"/><circle cx="599.1" cy="473.8" r="5.6"/><circle cx="596.9" cy="489.5" r="5.6"/><circle cx="653.1" cy="447.3" r="5.6"/><circle cx="601.7" cy="464.7" r="5.6"/><circle cx="614.5" cy="472.4" r="5.6"/><circle cx="604.4" cy="492.2" r="5.6"/><circle cx="548.1" cy="519.2" r="5.6"/><circle cx="592.3" cy="498.4" r="5.6"/><circle cx="676.3" cy="363.2" r="5.6"/><circle cx="639.1" cy="475.9" r="5.6"/><circle cx="532.4" cy="519.5" r="5.6"/><circle cx="624.4" cy="459.1" r="5.6"/><circle cx="565.1" cy="549.6" r="5.6"/><circle cx="626.3" cy="426.3" r="5.6"/><circle cx="608.5" cy="483.1" r="5.6"/><circle cx="550.9" cy="468.3" r="5.6"/><circle cx="548.1" cy="550.9" r="5.6"/><circle cx="618.2" cy="463.0" r="5.6"/><circle cx="575.2" cy="474.1" r="5.6"/><circle cx="642.3" cy="442.9" r="5.6"/><circle cx="677.8" cy="343.5" r="5.6"/><circle cx="555.1" cy="505.9" r="5.6"/><circle cx="688.3" cy="405.3" r="5.6"/><circle cx="612.9" cy="456.5" r="5.6"/><circle cx="721.2" cy="369.2" r="5.6"/><circle cx="588.5" cy="458.2" r="5.6"/><circle cx="578.8" cy="466.9" r="5.6"/><circle cx="568.8" cy="487.9" r="5.6"/><circle cx="550.0" cy="540.2" r="5.6"/><circle cx="592.1" cy="478.5" r="5.6"/><circle cx="598.4" cy="443.6" r="5.6"/><circle cx="615.8" cy="467.9" r="5.6"/><circle cx="551.0" cy="541.7" r="5.6"/><circle cx="690.4" cy="398.0" r="5.6"/><circle cx="632.2" cy="418.1" r="5.6"/><circle cx="614.5" cy="484.0" r="5.6"/><circle cx="592.7" cy="498.8" r="5.6"/><circle cx="584.3" cy="512.9" r="5.6"/><circle cx="576.3" cy="479.4" r="5.6"/><circle cx="638.4" cy="446.8" r="5.6"/><circle cx="578.7" cy="478.1" r="5.6"/><circle cx="540.5" cy="514.9" r="5.6"/><circle cx="611.4" cy="463.1" r="5.6"/><circle cx="688.1" cy="351.3" r="5.6"/><circle cx="544.4" cy="536.4" r="5.6"/><circle cx="547.8" cy="501.7" r="5.6"/><circle cx="662.8" cy="418.8" r="5.6"/><circle cx="663.8" cy="417.1" r="5.6"/><circle cx="624.0" cy="461.0" r="5.6"/><circle cx="611.1" cy="434.9" r="5.6"/><circle cx="600.3" cy="453.6" r="5.6"/><circle cx="571.1" cy="484.5" r="5.6"/><circle cx="633.0" cy="427.7" r="5.6"/><circle cx="681.9" cy="393.5" r="5.6"/><circle cx="545.0" cy="499.5" r="5.6"/><circle cx="623.3" cy="430.1" r="5.6"/><circle cx="624.2" cy="442.4" r="5.6"/><circle cx="605.3" cy="407.9" r="5.6"/><circle cx="623.4" cy="442.0" r="5.6"/><circle cx="700.2" cy="388.3" r="5.6"/><circle cx="676.0" cy="405.9" r="5.6"/><circle cx="571.0" cy="479.2" r="5.6"/><circle cx="651.5" cy="391.7" r="5.6"/><circle cx="723.9" cy="314.7" r="5.6"/><circle cx="595.4" cy="451.0" r="5.6"/><circle cx="583.0" cy="497.6" r="5.6"/><circle cx="595.1" cy="473.1" r="5.6"/><circle cx="587.5" cy="452.1" r="5.6"/><circle cx="717.9" cy="357.4" r="5.6"/><circle cx="603.1" cy="443.2" r="5.6"/><circle cx="610.2" cy="428.0" r="5.6"/><circle cx="504.4" cy="540.2" r="5.6"/><circle cx="648.8" cy="391.7" r="5.6"/><circle cx="666.2" cy="399.2" r="5.6"/><circle cx="669.8" cy="383.8" r="5.6"/><circle cx="582.7" cy="534.1" r="5.6"/><circle cx="656.4" cy="393.8" r="5.6"/><circle cx="653.8" cy="392.6" r="5.6"/><circle cx="668.1" cy="406.0" r="5.6"/><circle cx="702.7" cy="347.5" r="5.6"/><circle cx="605.2" cy="436.5" r="5.6"/><circle cx="533.4" cy="527.3" r="5.6"/><circle cx="616.4" cy="445.3" r="5.6"/><circle cx="567.7" cy="512.0" r="5.6"/><circle cx="543.9" cy="525.5" r="5.6"/><circle cx="702.1" cy="375.4" r="5.6"/><circle cx="628.9" cy="444.6" r="5.6"/><circle cx="552.8" cy="533.2" r="5.6"/><circle cx="619.6" cy="430.4" r="5.6"/><circle cx="651.5" cy="408.8" r="5.6"/><circle cx="682.3" cy="401.1" r="5.6"/><circle cx="613.4" cy="455.7" r="5.6"/><circle cx="682.1" cy="382.4" r="5.6"/><circle cx="553.3" cy="507.1" r="5.6"/><circle cx="605.8" cy="473.2" r="5.6"/><circle cx="634.8" cy="437.2" r="5.6"/><circle cx="561.8" cy="499.1" r="5.6"/><circle cx="547.4" cy="526.7" r="5.6"/><circle cx="633.2" cy="451.8" r="5.6"/><circle cx="521.4" cy="555.3" r="5.6"/><circle cx="605.5" cy="449.2" r="5.6"/><circle cx="545.8" cy="522.3" r="5.6"/><circle cx="621.4" cy="443.8" r="5.6"/><circle cx="576.7" cy="479.5" r="5.6"/><circle cx="626.0" cy="445.3" r="5.6"/><circle cx="615.5" cy="448.1" r="5.6"/><circle cx="591.2" cy="495.2" r="5.6"/><circle cx="654.9" cy="443.3" r="5.6"/><circle cx="572.6" cy="475.4" r="5.6"/><circle cx="687.8" cy="404.0" r="5.6"/><circle cx="617.1" cy="473.0" r="5.6"/><circle cx="631.3" cy="439.0" r="5.6"/><circle cx="576.3" cy="477.8" r="5.6"/><circle cx="521.3" cy="552.6" r="5.6"/><circle cx="573.5" cy="499.8" r="5.6"/><circle cx="610.7" cy="461.1" r="5.6"/><circle cx="685.1" cy="401.5" r="5.6"/><circle cx="608.9" cy="439.0" r="5.6"/><circle cx="652.3" cy="385.7" r="5.6"/><circle cx="637.7" cy="430.1" r="5.6"/><circle cx="577.5" cy="493.7" r="5.6"/><circle cx="566.5" cy="493.9" r="5.6"/><circle cx="569.0" cy="496.2" r="5.6"/><circle cx="609.8" cy="471.8" r="5.6"/><circle cx="507.5" cy="560.9" r="5.6"/><circle cx="573.6" cy="490.1" r="5.6"/><circle cx="595.9" cy="461.1" r="5.6"/><circle cx="588.1" cy="514.4" r="5.6"/><circle cx="645.9" cy="435.8" r="5.6"/><circle cx="651.5" cy="420.8" r="5.6"/><circle cx="614.0" cy="468.5" r="5.6"/><circle cx="519.8" cy="530.6" r="5.6"/><circle cx="662.4" cy="403.3" r="5.6"/><circle cx="567.1" cy="526.8" r="5.6"/><circle cx="588.0" cy="462.0" r="5.6"/><circle cx="652.7" cy="437.5" r="5.6"/><circle cx="641.1" cy="427.2" r="5.6"/><circle cx="580.9" cy="484.7" r="5.6"/><circle cx="654.6" cy="405.3" r="5.6"/><circle cx="671.9" cy="408.7" r="5.6"/><circle cx="613.4" cy="468.1" r="5.6"/><circle cx="569.5" cy="493.7" r="5.6"/><circle cx="625.4" cy="460.5" r="5.6"/><circle cx="632.2" cy="451.7" r="5.6"/><circle cx="670.0" cy="391.0" r="5.6"/><circle cx="580.9" cy="528.5" r="5.6"/><circle cx="549.5" cy="497.0" r="5.6"/><circle cx="562.7" cy="526.2" r="5.6"/><circle cx="656.3" cy="397.8" r="5.6"/><circle cx="660.4" cy="415.9" r="5.6"/><circle cx="580.2" cy="498.9" r="5.6"/><circle cx="596.6" cy="504.2" r="5.6"/><circle cx="499.7" cy="551.6" r="5.6"/><circle cx="551.3" cy="551.0" r="5.6"/><circle cx="650.7" cy="437.5" r="5.6"/><circle cx="562.1" cy="520.4" r="5.6"/><circle cx="656.7" cy="455.3" r="5.6"/><circle cx="599.1" cy="458.0" r="5.6"/><circle cx="667.3" cy="383.8" r="5.6"/><circle cx="564.9" cy="499.2" r="5.6"/><circle cx="624.7" cy="457.9" r="5.6"/><circle cx="654.4" cy="384.9" r="5.6"/><circle cx="562.3" cy="504.2" r="5.6"/><circle cx="503.0" cy="560.6" r="5.6"/><circle cx="660.2" cy="406.4" r="5.6"/><circle cx="641.5" cy="438.7" r="5.6"/><circle cx="630.4" cy="438.7" r="5.6"/><circle cx="623.3" cy="483.8" r="5.6"/><circle cx="630.6" cy="438.6" r="5.6"/><circle cx="629.6" cy="463.1" r="5.6"/><circle cx="733.5" cy="318.4" r="5.6"/><circle cx="616.5" cy="452.4" r="5.6"/><circle cx="592.8" cy="467.5" r="5.6"/><circle cx="598.9" cy="482.4" r="5.6"/><circle cx="622.4" cy="432.1" r="5.6"/><circle cx="570.8" cy="498.0" r="5.6"/><circle cx="611.3" cy="462.3" r="5.6"/><circle cx="651.8" cy="411.4" r="5.6"/><circle cx="741.3" cy="344.6" r="5.6"/><circle cx="556.9" cy="476.4" r="5.6"/><circle cx="527.2" cy="564.8" r="5.6"/><circle cx="674.3" cy="396.6" r="5.6"/><circle cx="598.0" cy="458.7" r="5.6"/><circle cx="578.1" cy="463.3" r="5.6"/><circle cx="657.5" cy="434.4" r="5.6"/><circle cx="577.3" cy="523.6" r="5.6"/><circle cx="540.6" cy="538.9" r="5.6"/><circle cx="709.0" cy="344.1" r="5.6"/><circle cx="679.8" cy="398.2" r="5.6"/><circle cx="696.0" cy="374.8" r="5.6"/><circle cx="611.1" cy="464.3" r="5.6"/><circle cx="596.1" cy="473.0" r="5.6"/><circle cx="628.4" cy="449.2" r="5.6"/><circle cx="665.1" cy="391.9" r="5.6"/><circle cx="607.2" cy="477.6" r="5.6"/><circle cx="609.7" cy="418.2" r="5.6"/><circle cx="634.7" cy="456.0" r="5.6"/><circle cx="599.8" cy="470.8" r="5.6"/><circle cx="580.4" cy="485.4" r="5.6"/><circle cx="609.1" cy="465.8" r="5.6"/><circle cx="567.5" cy="515.1" r="5.6"/><circle cx="580.1" cy="457.8" r="5.6"/><circle cx="566.3" cy="524.3" r="5.6"/><circle cx="583.8" cy="543.7" r="5.6"/><circle cx="573.3" cy="470.1" r="5.6"/><circle cx="513.2" cy="561.1" r="5.6"/><circle cx="600.1" cy="453.6" r="5.6"/><circle cx="635.9" cy="411.6" r="5.6"/><circle cx="648.9" cy="398.3" r="5.6"/><circle cx="683.0" cy="395.3" r="5.6"/><circle cx="680.8" cy="412.2" r="5.6"/><circle cx="588.1" cy="481.8" r="5.6"/><circle cx="590.4" cy="459.3" r="5.6"/><circle cx="597.0" cy="443.4" r="5.6"/><circle cx="607.3" cy="502.9" r="5.6"/><circle cx="627.0" cy="428.5" r="5.6"/><circle cx="639.0" cy="394.3" r="5.6"/><circle cx="583.3" cy="443.7" r="5.6"/><circle cx="552.0" cy="475.2" r="5.6"/><circle cx="565.4" cy="513.2" r="5.6"/><circle cx="656.3" cy="432.0" r="5.6"/><circle cx="674.5" cy="396.3" r="5.6"/><circle cx="563.2" cy="498.1" r="5.6"/><circle cx="569.8" cy="504.9" r="5.6"/><circle cx="620.8" cy="457.5" r="5.6"/><circle cx="653.4" cy="405.7" r="5.6"/><circle cx="718.1" cy="355.6" r="5.6"/><circle cx="640.1" cy="426.1" r="5.6"/><circle cx="568.0" cy="469.9" r="5.6"/><circle cx="622.5" cy="435.3" r="5.6"/><circle cx="637.7" cy="450.3" r="5.6"/><circle cx="687.8" cy="339.8" r="5.6"/><circle cx="565.3" cy="497.2" r="5.6"/><circle cx="534.3" cy="509.0" r="5.6"/><circle cx="603.2" cy="475.9" r="5.6"/><circle cx="544.6" cy="547.0" r="5.6"/><circle cx="706.6" cy="343.6" r="5.6"/><circle cx="587.1" cy="496.3" r="5.6"/><circle cx="656.7" cy="418.9" r="5.6"/><circle cx="643.0" cy="435.6" r="5.6"/><circle cx="636.7" cy="419.6" r="5.6"/><circle cx="554.2" cy="505.1" r="5.6"/><circle cx="612.7" cy="468.4" r="5.6"/><circle cx="606.3" cy="480.7" r="5.6"/><circle cx="542.2" cy="541.8" r="5.6"/><circle cx="620.2" cy="398.2" r="5.6"/><circle cx="644.9" cy="409.6" r="5.6"/><circle cx="573.0" cy="508.0" r="5.6"/><circle cx="638.0" cy="430.9" r="5.6"/><circle cx="691.6" cy="383.0" r="5.6"/><circle cx="621.6" cy="449.9" r="5.6"/><circle cx="598.2" cy="463.3" r="5.6"/><circle cx="669.5" cy="405.8" r="5.6"/><circle cx="643.6" cy="451.3" r="5.6"/><circle cx="625.2" cy="442.4" r="5.6"/><circle cx="544.3" cy="484.5" r="5.6"/><circle cx="582.2" cy="466.7" r="5.6"/><circle cx="523.0" cy="526.5" r="5.6"/><circle cx="659.1" cy="405.3" r="5.6"/><circle cx="594.8" cy="471.0" r="5.6"/><circle cx="654.8" cy="414.9" r="5.6"/><circle cx="624.7" cy="428.9" r="5.6"/><circle cx="654.1" cy="407.2" r="5.6"/><circle cx="619.2" cy="454.8" r="5.6"/><circle cx="590.2" cy="485.3" r="5.6"/><circle cx="698.4" cy="376.9" r="5.6"/><circle cx="600.2" cy="470.4" r="5.6"/><circle cx="607.2" cy="451.9" r="5.6"/><circle cx="632.8" cy="453.0" r="5.6"/><circle cx="649.4" cy="399.6" r="5.6"/><circle cx="641.1" cy="402.3" r="5.6"/><circle cx="630.9" cy="435.1" r="5.6"/><circle cx="610.8" cy="420.3" r="5.6"/><circle cx="649.1" cy="437.7" r="5.6"/><circle cx="601.6" cy="512.1" r="5.6"/><circle cx="536.9" cy="543.4" r="5.6"/><circle cx="567.3" cy="503.2" r="5.6"/><circle cx="676.9" cy="420.2" r="5.6"/><circle cx="655.5" cy="390.4" r="5.6"/><circle cx="604.5" cy="487.1" r="5.6"/><circle cx="594.5" cy="522.7" r="5.6"/><circle cx="510.0" cy="523.9" r="5.6"/><circle cx="657.4" cy="431.6" r="5.6"/><circle cx="632.9" cy="438.2" r="5.6"/><circle cx="547.8" cy="511.3" r="5.6"/><circle cx="602.0" cy="499.3" r="5.6"/><circle cx="573.1" cy="501.1" r="5.6"/><circle cx="590.2" cy="521.7" r="5.6"/><circle cx="617.4" cy="456.8" r="5.6"/><circle cx="660.3" cy="408.9" r="5.6"/><circle cx="585.2" cy="495.9" r="5.6"/><circle cx="631.7" cy="437.6" r="5.6"/><circle cx="644.4" cy="448.0" r="5.6"/><circle cx="626.6" cy="474.4" r="5.6"/><circle cx="614.1" cy="448.5" r="5.6"/><circle cx="647.5" cy="413.1" r="5.6"/><circle cx="567.5" cy="499.6" r="5.6"/><circle cx="605.8" cy="482.1" r="5.6"/><circle cx="587.9" cy="500.0" r="5.6"/><circle cx="595.1" cy="473.0" r="5.6"/><circle cx="613.3" cy="456.8" r="5.6"/><circle cx="664.5" cy="423.4" r="5.6"/><circle cx="616.9" cy="484.1" r="5.6"/><circle cx="650.9" cy="412.7" r="5.6"/><circle cx="617.3" cy="426.7" r="5.6"/><circle cx="569.7" cy="471.8" r="5.6"/><circle cx="597.0" cy="476.1" r="5.6"/><circle cx="544.5" cy="543.4" r="5.6"/><circle cx="603.2" cy="470.8" r="5.6"/><circle cx="530.8" cy="579.9" r="5.6"/><circle cx="591.1" cy="482.6" r="5.6"/><circle cx="604.4" cy="484.4" r="5.6"/><circle cx="564.0" cy="520.3" r="5.6"/><circle cx="580.1" cy="513.4" r="5.6"/><circle cx="625.9" cy="425.6" r="5.6"/><circle cx="634.9" cy="471.9" r="5.6"/><circle cx="629.3" cy="443.6" r="5.6"/><circle cx="622.5" cy="469.8" r="5.6"/><circle cx="625.4" cy="462.6" r="5.6"/><circle cx="524.0" cy="534.8" r="5.6"/><circle cx="646.8" cy="423.3" r="5.6"/><circle cx="613.2" cy="471.8" r="5.6"/><circle cx="594.5" cy="460.8" r="5.6"/><circle cx="526.5" cy="547.2" r="5.6"/><circle cx="532.6" cy="532.4" r="5.6"/><circle cx="720.9" cy="352.0" r="5.6"/><circle cx="524.4" cy="554.0" r="5.6"/><circle cx="583.9" cy="485.9" r="5.6"/><circle cx="570.3" cy="502.2" r="5.6"/><circle cx="650.8" cy="419.4" r="5.6"/><circle cx="513.6" cy="567.8" r="5.6"/><circle cx="567.7" cy="481.1" r="5.6"/><circle cx="573.5" cy="482.4" r="5.6"/><circle cx="543.3" cy="532.7" r="5.6"/><circle cx="642.4" cy="410.3" r="5.6"/><circle cx="597.0" cy="480.4" r="5.6"/><circle cx="511.8" cy="571.1" r="5.6"/><circle cx="589.0" cy="479.0" r="5.6"/><circle cx="549.5" cy="522.8" r="5.6"/><circle cx="657.1" cy="426.8" r="5.6"/><circle cx="627.0" cy="442.4" r="5.6"/><circle cx="695.7" cy="378.4" r="5.6"/><circle cx="688.1" cy="400.4" r="5.6"/><circle cx="544.5" cy="535.0" r="5.6"/><circle cx="636.3" cy="398.1" r="5.6"/><circle cx="656.8" cy="417.7" r="5.6"/><circle cx="668.4" cy="400.2" r="5.6"/><circle cx="570.4" cy="522.4" r="5.6"/><circle cx="614.3" cy="434.6" r="5.6"/><circle cx="599.7" cy="478.8" r="5.6"/><circle cx="553.6" cy="531.5" r="5.6"/><circle cx="704.1" cy="378.8" r="5.6"/><circle cx="658.4" cy="397.6" r="5.6"/><circle cx="613.4" cy="469.2" r="5.6"/><circle cx="557.3" cy="541.1" r="5.6"/><circle cx="513.1" cy="534.8" r="5.6"/><circle cx="604.3" cy="472.7" r="5.6"/><circle cx="649.5" cy="459.3" r="5.6"/><circle cx="637.6" cy="423.8" r="5.6"/><circle cx="583.9" cy="489.9" r="5.6"/><circle cx="603.3" cy="478.3" r="5.6"/><circle cx="604.8" cy="491.2" r="5.6"/><circle cx="645.4" cy="413.6" r="5.6"/><circle cx="689.6" cy="369.9" r="5.6"/><circle cx="647.7" cy="433.5" r="5.6"/><circle cx="673.9" cy="390.0" r="5.6"/><circle cx="531.5" cy="512.9" r="5.6"/><circle cx="574.9" cy="474.1" r="5.6"/><circle cx="560.0" cy="500.8" r="5.6"/><circle cx="629.4" cy="463.3" r="5.6"/><circle cx="646.0" cy="422.3" r="5.6"/><circle cx="605.8" cy="475.9" r="5.6"/><circle cx="683.4" cy="373.1" r="5.6"/><circle cx="555.7" cy="489.3" r="5.6"/><circle cx="587.2" cy="484.5" r="5.6"/><circle cx="627.8" cy="418.6" r="5.6"/><circle cx="635.3" cy="395.0" r="5.6"/><circle cx="596.8" cy="470.4" r="5.6"/><circle cx="583.4" cy="480.3" r="5.6"/><circle cx="646.9" cy="428.4" r="5.6"/><circle cx="589.7" cy="459.1" r="5.6"/><circle cx="582.6" cy="496.6" r="5.6"/><circle cx="609.7" cy="487.6" r="5.6"/><circle cx="672.3" cy="369.1" r="5.6"/><circle cx="627.8" cy="454.1" r="5.6"/><circle cx="645.0" cy="399.6" r="5.6"/><circle cx="706.1" cy="357.9" r="5.6"/><circle cx="669.7" cy="394.5" r="5.6"/><circle cx="629.6" cy="408.8" r="5.6"/><circle cx="625.6" cy="449.1" r="5.6"/><circle cx="571.4" cy="470.1" r="5.6"/><circle cx="590.2" cy="442.1" r="5.6"/><circle cx="686.2" cy="399.7" r="5.6"/><circle cx="638.6" cy="381.6" r="5.6"/><circle cx="585.4" cy="472.8" r="5.6"/><circle cx="585.8" cy="457.5" r="5.6"/><circle cx="632.9" cy="461.3" r="5.6"/><circle cx="632.4" cy="454.9" r="5.6"/><circle cx="696.4" cy="366.3" r="5.6"/><circle cx="554.0" cy="548.7" r="5.6"/><circle cx="630.2" cy="454.4" r="5.6"/><circle cx="546.2" cy="529.6" r="5.6"/><circle cx="649.8" cy="423.3" r="5.6"/><circle cx="585.1" cy="499.6" r="5.6"/><circle cx="664.5" cy="436.5" r="5.6"/><circle cx="694.8" cy="387.0" r="5.6"/><circle cx="661.5" cy="417.9" r="5.6"/><circle cx="554.3" cy="547.8" r="5.6"/><circle cx="580.1" cy="471.2" r="5.6"/><circle cx="623.7" cy="429.9" r="5.6"/><circle cx="620.7" cy="459.9" r="5.6"/><circle cx="609.3" cy="461.4" r="5.6"/><circle cx="601.5" cy="412.4" r="5.6"/><circle cx="605.7" cy="489.0" r="5.6"/><circle cx="621.3" cy="413.7" r="5.6"/><circle cx="517.9" cy="557.4" r="5.6"/><circle cx="545.6" cy="539.1" r="5.6"/><circle cx="582.1" cy="524.7" r="5.6"/><circle cx="577.5" cy="474.2" r="5.6"/><circle cx="639.9" cy="448.7" r="5.6"/><circle cx="550.9" cy="517.4" r="5.6"/><circle cx="594.9" cy="474.6" r="5.6"/><circle cx="598.5" cy="491.7" r="5.6"/><circle cx="508.9" cy="574.6" r="5.6"/><circle cx="647.4" cy="453.6" r="5.6"/><circle cx="704.7" cy="326.7" r="5.6"/><circle cx="689.3" cy="394.1" r="5.6"/><circle cx="650.3" cy="409.6" r="5.6"/><circle cx="607.1" cy="459.7" r="5.6"/><circle cx="654.7" cy="409.8" r="5.6"/><circle cx="668.2" cy="367.6" r="5.6"/><circle cx="588.4" cy="505.3" r="5.6"/><circle cx="636.1" cy="449.3" r="5.6"/><circle cx="603.9" cy="488.8" r="5.6"/><circle cx="570.3" cy="465.6" r="5.6"/><circle cx="582.5" cy="507.7" r="5.6"/><circle cx="557.2" cy="516.7" r="5.6"/><circle cx="614.7" cy="425.9" r="5.6"/><circle cx="614.5" cy="470.7" r="5.6"/><circle cx="612.6" cy="455.0" r="5.6"/><circle cx="617.6" cy="457.0" r="5.6"/><circle cx="693.2" cy="406.4" r="5.6"/><circle cx="621.5" cy="435.6" r="5.6"/><circle cx="550.5" cy="514.9" r="5.6"/><circle cx="648.5" cy="442.9" r="5.6"/><circle cx="597.6" cy="473.4" r="5.6"/><circle cx="699.6" cy="387.5" r="5.6"/><circle cx="666.0" cy="387.2" r="5.6"/><circle cx="677.9" cy="381.0" r="5.6"/><circle cx="641.0" cy="445.0" r="5.6"/><circle cx="685.3" cy="425.8" r="5.6"/><circle cx="731.5" cy="337.7" r="5.6"/><circle cx="568.5" cy="479.3" r="5.6"/><circle cx="650.7" cy="414.3" r="5.6"/><circle cx="649.2" cy="404.5" r="5.6"/><circle cx="637.0" cy="431.5" r="5.6"/><circle cx="621.8" cy="462.0" r="5.6"/><circle cx="564.4" cy="515.3" r="5.6"/><circle cx="699.3" cy="370.9" r="5.6"/><circle cx="573.1" cy="472.2" r="5.6"/><circle cx="575.6" cy="483.9" r="5.6"/><circle cx="515.2" cy="547.3" r="5.6"/><circle cx="572.3" cy="472.7" r="5.6"/><circle cx="538.0" cy="528.0" r="5.6"/><circle cx="551.9" cy="505.0" r="5.6"/><circle cx="573.2" cy="466.8" r="5.6"/><circle cx="612.6" cy="469.6" r="5.6"/><circle cx="629.7" cy="453.5" r="5.6"/><circle cx="582.6" cy="469.0" r="5.6"/><circle cx="631.8" cy="447.2" r="5.6"/><circle cx="600.9" cy="493.4" r="5.6"/><circle cx="597.2" cy="473.9" r="5.6"/><circle cx="528.7" cy="507.7" r="5.6"/><circle cx="671.0" cy="417.9" r="5.6"/><circle cx="613.8" cy="474.2" r="5.6"/><circle cx="583.7" cy="479.6" r="5.6"/><circle cx="664.2" cy="401.6" r="5.6"/><circle cx="684.1" cy="393.4" r="5.6"/><circle cx="674.8" cy="395.3" r="5.6"/><circle cx="650.4" cy="437.2" r="5.6"/><circle cx="682.7" cy="351.0" r="5.6"/><circle cx="508.7" cy="552.6" r="5.6"/><circle cx="638.5" cy="453.6" r="5.6"/><circle cx="607.2" cy="425.0" r="5.6"/><circle cx="611.6" cy="434.6" r="5.6"/><circle cx="629.6" cy="439.5" r="5.6"/><circle cx="591.5" cy="464.3" r="5.6"/><circle cx="628.2" cy="422.8" r="5.6"/><circle cx="630.7" cy="447.5" r="5.6"/><circle cx="741.1" cy="332.3" r="5.6"/><circle cx="610.9" cy="441.0" r="5.6"/><circle cx="636.5" cy="449.1" r="5.6"/><circle cx="586.4" cy="499.1" r="5.6"/><circle cx="620.3" cy="468.8" r="5.6"/><circle cx="635.3" cy="433.5" r="5.6"/><circle cx="561.3" cy="523.7" r="5.6"/><circle cx="589.2" cy="480.3" r="5.6"/><circle cx="685.9" cy="386.4" r="5.6"/><circle cx="710.3" cy="345.8" r="5.6"/><circle cx="549.7" cy="562.4" r="5.6"/><circle cx="657.9" cy="386.8" r="5.6"/><circle cx="562.7" cy="472.5" r="5.6"/><circle cx="675.0" cy="382.6" r="5.6"/><circle cx="550.6" cy="556.8" r="5.6"/><circle cx="617.5" cy="444.9" r="5.6"/><circle cx="526.7" cy="538.4" r="5.6"/><circle cx="600.7" cy="514.7" r="5.6"/><circle cx="587.8" cy="500.8" r="5.6"/><circle cx="624.7" cy="441.3" r="5.6"/><circle cx="619.5" cy="502.8" r="5.6"/><circle cx="575.9" cy="476.3" r="5.6"/><circle cx="537.6" cy="536.5" r="5.6"/><circle cx="662.6" cy="376.8" r="5.6"/><circle cx="589.7" cy="472.3" r="5.6"/><circle cx="569.9" cy="514.7" r="5.6"/><circle cx="535.7" cy="520.5" r="5.6"/><circle cx="591.7" cy="499.4" r="5.6"/><circle cx="608.8" cy="482.0" r="5.6"/><circle cx="567.6" cy="473.7" r="5.6"/><circle cx="551.8" cy="506.1" r="5.6"/><circle cx="529.4" cy="541.7" r="5.6"/><circle cx="588.5" cy="489.0" r="5.6"/><circle cx="586.4" cy="456.4" r="5.6"/><circle cx="551.8" cy="533.7" r="5.6"/><circle cx="617.8" cy="446.0" r="5.6"/><circle cx="554.8" cy="506.0" r="5.6"/><circle cx="574.3" cy="502.5" r="5.6"/><circle cx="639.0" cy="390.3" r="5.6"/><circle cx="633.9" cy="405.1" r="5.6"/><circle cx="641.8" cy="443.0" r="5.6"/><circle cx="598.3" cy="478.2" r="5.6"/><circle cx="654.3" cy="416.0" r="5.6"/><circle cx="579.3" cy="495.8" r="5.6"/><circle cx="645.9" cy="429.6" r="5.6"/><circle cx="729.9" cy="333.8" r="5.6"/><circle cx="744.1" cy="359.2" r="5.6"/><circle cx="648.8" cy="449.9" r="5.6"/><circle cx="623.2" cy="427.9" r="5.6"/><circle cx="651.6" cy="382.2" r="5.6"/><circle cx="656.0" cy="434.2" r="5.6"/><circle cx="615.3" cy="462.1" r="5.6"/><circle cx="561.9" cy="512.6" r="5.6"/><circle cx="542.9" cy="546.8" r="5.6"/><circle cx="519.0" cy="525.4" r="5.6"/><circle cx="673.7" cy="354.5" r="5.6"/><circle cx="602.2" cy="476.3" r="5.6"/><circle cx="639.7" cy="425.2" r="5.6"/><circle cx="626.5" cy="449.0" r="5.6"/><circle cx="545.7" cy="517.7" r="5.6"/><circle cx="597.4" cy="509.0" r="5.6"/><circle cx="678.5" cy="361.3" r="5.6"/><circle cx="555.8" cy="508.2" r="5.6"/><circle cx="534.4" cy="525.6" r="5.6"/><circle cx="544.5" cy="521.7" r="5.6"/><circle cx="650.8" cy="382.6" r="5.6"/><circle cx="517.1" cy="569.3" r="5.6"/><circle cx="674.1" cy="415.4" r="5.6"/><circle cx="660.9" cy="427.4" r="5.6"/><circle cx="613.0" cy="442.0" r="5.6"/><circle cx="561.1" cy="477.1" r="5.6"/><circle cx="537.2" cy="499.3" r="5.6"/><circle cx="599.4" cy="444.0" r="5.6"/><circle cx="516.5" cy="591.9" r="5.6"/><circle cx="647.8" cy="395.8" r="5.6"/><circle cx="635.9" cy="411.0" r="5.6"/><circle cx="608.7" cy="454.9" r="5.6"/><circle cx="745.5" cy="340.8" r="5.6"/><circle cx="707.5" cy="383.6" r="5.6"/><circle cx="667.4" cy="393.6" r="5.6"/><circle cx="676.7" cy="395.0" r="5.6"/><circle cx="583.1" cy="514.1" r="5.6"/><circle cx="617.5" cy="444.5" r="5.6"/><circle cx="650.8" cy="442.8" r="5.6"/><circle cx="518.3" cy="555.9" r="5.6"/><circle cx="677.5" cy="412.6" r="5.6"/><circle cx="654.6" cy="408.2" r="5.6"/><circle cx="624.8" cy="454.9" r="5.6"/><circle cx="611.5" cy="460.1" r="5.6"/><circle cx="607.8" cy="469.5" r="5.6"/><circle cx="604.2" cy="452.4" r="5.6"/><circle cx="626.0" cy="427.2" r="5.6"/><circle cx="632.0" cy="415.2" r="5.6"/><circle cx="655.3" cy="419.6" r="5.6"/><circle cx="591.3" cy="477.9" r="5.6"/><circle cx="650.1" cy="424.3" r="5.6"/><circle cx="665.8" cy="408.0" r="5.6"/><circle cx="583.0" cy="485.5" r="5.6"/><circle cx="615.0" cy="481.7" r="5.6"/><circle cx="640.3" cy="453.3" r="5.6"/><circle cx="639.5" cy="427.0" r="5.6"/><circle cx="528.4" cy="583.0" r="5.6"/><circle cx="623.0" cy="466.1" r="5.6"/><circle cx="650.3" cy="410.0" r="5.6"/><circle cx="552.6" cy="513.6" r="5.6"/><circle cx="666.6" cy="392.5" r="5.6"/><circle cx="597.1" cy="482.5" r="5.6"/><circle cx="673.5" cy="393.6" r="5.6"/><circle cx="647.1" cy="438.9" r="5.6"/><circle cx="679.3" cy="381.6" r="5.6"/><circle cx="616.1" cy="445.3" r="5.6"/><circle cx="667.9" cy="413.3" r="5.6"/><circle cx="595.7" cy="501.7" r="5.6"/><circle cx="625.6" cy="466.6" r="5.6"/><circle cx="523.1" cy="540.1" r="5.6"/><circle cx="618.1" cy="447.1" r="5.6"/><circle cx="661.4" cy="413.0" r="5.6"/><circle cx="580.3" cy="499.1" r="5.6"/><circle cx="645.6" cy="434.7" r="5.6"/><circle cx="583.3" cy="503.7" r="5.6"/><circle cx="671.9" cy="429.4" r="5.6"/><circle cx="581.2" cy="469.0" r="5.6"/><circle cx="540.6" cy="515.5" r="5.6"/><circle cx="638.9" cy="415.4" r="5.6"/><circle cx="527.8" cy="559.2" r="5.6"/><circle cx="602.7" cy="434.2" r="5.6"/><circle cx="648.0" cy="421.0" r="5.6"/><circle cx="619.6" cy="439.6" r="5.6"/><circle cx="720.8" cy="365.4" r="5.6"/><circle cx="653.7" cy="431.5" r="5.6"/><circle cx="640.2" cy="424.3" r="5.6"/><circle cx="592.6" cy="475.3" r="5.6"/><circle cx="559.6" cy="515.6" r="5.6"/><circle cx="659.7" cy="398.1" r="5.6"/><circle cx="654.9" cy="440.0" r="5.6"/><circle cx="592.3" cy="485.8" r="5.6"/><circle cx="578.4" cy="470.8" r="5.6"/><circle cx="599.7" cy="461.7" r="5.6"/><circle cx="517.1" cy="528.2" r="5.6"/><circle cx="650.5" cy="427.0" r="5.6"/><circle cx="570.3" cy="485.6" r="5.6"/><circle cx="614.8" cy="438.6" r="5.6"/><circle cx="604.4" cy="479.3" r="5.6"/><circle cx="531.7" cy="533.9" r="5.6"/><circle cx="666.8" cy="387.0" r="5.6"/><circle cx="658.3" cy="394.3" r="5.6"/><circle cx="558.0" cy="493.3" r="5.6"/><circle cx="633.9" cy="480.3" r="5.6"/><circle cx="663.2" cy="403.0" r="5.6"/><circle cx="614.5" cy="439.2" r="5.6"/><circle cx="645.2" cy="451.9" r="5.6"/><circle cx="685.1" cy="383.7" r="5.6"/><circle cx="690.1" cy="370.9" r="5.6"/><circle cx="673.2" cy="377.3" r="5.6"/><circle cx="616.1" cy="456.6" r="5.6"/><circle cx="624.0" cy="446.6" r="5.6"/><circle cx="611.3" cy="444.2" r="5.6"/><circle cx="608.5" cy="466.5" r="5.6"/><circle cx="574.9" cy="475.3" r="5.6"/><circle cx="640.8" cy="421.3" r="5.6"/><circle cx="642.1" cy="420.9" r="5.6"/><circle cx="571.5" cy="506.4" r="5.6"/><circle cx="558.4" cy="507.5" r="5.6"/><circle cx="675.2" cy="398.8" r="5.6"/><circle cx="682.7" cy="366.4" r="5.6"/><circle cx="658.5" cy="425.7" r="5.6"/><circle cx="713.5" cy="377.3" r="5.6"/><circle cx="654.8" cy="429.7" r="5.6"/><circle cx="652.0" cy="391.9" r="5.6"/><circle cx="629.1" cy="429.8" r="5.6"/><circle cx="568.4" cy="487.3" r="5.6"/><circle cx="639.4" cy="439.3" r="5.6"/><circle cx="593.2" cy="459.9" r="5.6"/><circle cx="549.4" cy="511.2" r="5.6"/><circle cx="720.9" cy="373.2" r="5.6"/><circle cx="680.2" cy="397.6" r="5.6"/><circle cx="554.7" cy="506.7" r="5.6"/><circle cx="632.9" cy="427.9" r="5.6"/><circle cx="625.0" cy="463.5" r="5.6"/><circle cx="716.0" cy="379.7" r="5.6"/><circle cx="578.9" cy="483.5" r="5.6"/><circle cx="552.5" cy="488.8" r="5.6"/><circle cx="604.0" cy="472.1" r="5.6"/><circle cx="583.2" cy="475.3" r="5.6"/><circle cx="576.8" cy="465.3" r="5.6"/><circle cx="589.9" cy="494.3" r="5.6"/><circle cx="651.5" cy="423.4" r="5.6"/><circle cx="559.2" cy="495.5" r="5.6"/><circle cx="620.6" cy="439.9" r="5.6"/><circle cx="561.8" cy="511.6" r="5.6"/><circle cx="530.3" cy="534.6" r="5.6"/><circle cx="616.0" cy="452.1" r="5.6"/><circle cx="612.6" cy="490.7" r="5.6"/><circle cx="628.1" cy="453.6" r="5.6"/><circle cx="581.7" cy="454.6" r="5.6"/><circle cx="620.5" cy="444.0" r="5.6"/><circle cx="592.1" cy="489.5" r="5.6"/><circle cx="628.2" cy="449.9" r="5.6"/><circle cx="574.0" cy="479.0" r="5.6"/><circle cx="689.4" cy="373.4" r="5.6"/><circle cx="659.5" cy="412.5" r="5.6"/><circle cx="596.2" cy="461.1" r="5.6"/><circle cx="671.8" cy="403.0" r="5.6"/><circle cx="580.3" cy="468.6" r="5.6"/><circle cx="530.6" cy="519.9" r="5.6"/><circle cx="668.9" cy="405.1" r="5.6"/><circle cx="647.3" cy="393.8" r="5.6"/><circle cx="582.5" cy="503.5" r="5.6"/><circle cx="645.1" cy="407.3" r="5.6"/><circle cx="694.0" cy="347.4" r="5.6"/><circle cx="583.4" cy="493.7" r="5.6"/><circle cx="616.7" cy="470.2" r="5.6"/><circle cx="681.8" cy="411.6" r="5.6"/><circle cx="654.0" cy="435.7" r="5.6"/><circle cx="677.8" cy="401.1" r="5.6"/><circle cx="571.8" cy="515.5" r="5.6"/><circle cx="600.8" cy="480.7" r="5.6"/><circle cx="597.9" cy="441.7" r="5.6"/><circle cx="608.2" cy="477.0" r="5.6"/><circle cx="604.7" cy="460.3" r="5.6"/><circle cx="608.9" cy="442.2" r="5.6"/><circle cx="663.5" cy="410.9" r="5.6"/><circle cx="569.4" cy="509.4" r="5.6"/><circle cx="576.7" cy="475.3" r="5.6"/><circle cx="677.1" cy="369.3" r="5.6"/><circle cx="681.9" cy="400.4" r="5.6"/><circle cx="545.5" cy="538.4" r="5.6"/><circle cx="548.4" cy="479.8" r="5.6"/><circle cx="547.8" cy="516.2" r="5.6"/><circle cx="639.3" cy="396.7" r="5.6"/><circle cx="560.8" cy="516.4" r="5.6"/><circle cx="686.0" cy="382.9" r="5.6"/><circle cx="639.6" cy="447.8" r="5.6"/><circle cx="681.5" cy="404.3" r="5.6"/><circle cx="630.6" cy="443.8" r="5.6"/><circle cx="624.5" cy="464.8" r="5.6"/><circle cx="673.3" cy="376.1" r="5.6"/><circle cx="600.0" cy="431.7" r="5.6"/><circle cx="662.3" cy="408.7" r="5.6"/><circle cx="632.6" cy="439.1" r="5.6"/><circle cx="617.4" cy="441.5" r="5.6"/><circle cx="594.7" cy="492.9" r="5.6"/><circle cx="542.0" cy="538.8" r="5.6"/><circle cx="622.5" cy="428.6" r="5.6"/><circle cx="631.8" cy="458.5" r="5.6"/><circle cx="667.3" cy="373.9" r="5.6"/><circle cx="549.4" cy="511.2" r="5.6"/><circle cx="550.4" cy="549.1" r="5.6"/><circle cx="543.2" cy="491.9" r="5.6"/><circle cx="620.5" cy="442.2" r="5.6"/><circle cx="593.0" cy="501.7" r="5.6"/><circle cx="608.1" cy="474.2" r="5.6"/><circle cx="640.1" cy="441.4" r="5.6"/><circle cx="571.2" cy="558.4" r="5.6"/><circle cx="587.8" cy="448.4" r="5.6"/><circle cx="572.3" cy="501.4" r="5.6"/><circle cx="626.1" cy="418.4" r="5.6"/><circle cx="550.3" cy="526.4" r="5.6"/><circle cx="560.4" cy="511.3" r="5.6"/><circle cx="600.0" cy="475.6" r="5.6"/><circle cx="633.5" cy="434.5" r="5.6"/><circle cx="603.7" cy="447.3" r="5.6"/><circle cx="558.9" cy="521.6" r="5.6"/><circle cx="680.1" cy="396.0" r="5.6"/><circle cx="740.4" cy="361.8" r="5.6"/><circle cx="659.9" cy="444.7" r="5.6"/><circle cx="577.1" cy="467.9" r="5.6"/><circle cx="615.6" cy="459.2" r="5.6"/><circle cx="646.5" cy="456.1" r="5.6"/><circle cx="595.5" cy="463.8" r="5.6"/><circle cx="643.5" cy="419.5" r="5.6"/><circle cx="643.4" cy="426.3" r="5.6"/><circle cx="630.6" cy="451.8" r="5.6"/><circle cx="616.9" cy="465.9" r="5.6"/><circle cx="589.8" cy="485.5" r="5.6"/><circle cx="613.7" cy="397.7" r="5.6"/><circle cx="599.6" cy="482.1" r="5.6"/><circle cx="636.5" cy="448.8" r="5.6"/><circle cx="563.0" cy="489.0" r="5.6"/><circle cx="629.9" cy="413.1" r="5.6"/><circle cx="623.4" cy="439.1" r="5.6"/><circle cx="524.3" cy="551.7" r="5.6"/><circle cx="502.6" cy="567.3" r="5.6"/><circle cx="588.9" cy="491.3" r="5.6"/><circle cx="565.0" cy="519.2" r="5.6"/><circle cx="662.7" cy="397.3" r="5.6"/><circle cx="505.7" cy="539.7" r="5.6"/><circle cx="583.5" cy="489.9" r="5.6"/><circle cx="578.2" cy="475.0" r="5.6"/><circle cx="613.2" cy="445.3" r="5.6"/><circle cx="578.9" cy="491.9" r="5.6"/><circle cx="555.9" cy="486.7" r="5.6"/><circle cx="550.4" cy="497.2" r="5.6"/><circle cx="563.1" cy="523.5" r="5.6"/><circle cx="579.6" cy="470.2" r="5.6"/><circle cx="585.7" cy="476.0" r="5.6"/><circle cx="566.9" cy="488.7" r="5.6"/><circle cx="655.5" cy="442.3" r="5.6"/><circle cx="552.7" cy="540.2" r="5.6"/><circle cx="717.1" cy="366.8" r="5.6"/><circle cx="627.7" cy="425.5" r="5.6"/><circle cx="631.1" cy="420.3" r="5.6"/><circle cx="638.8" cy="458.1" r="5.6"/><circle cx="593.4" cy="458.1" r="5.6"/><circle cx="670.6" cy="387.2" r="5.6"/><circle cx="653.0" cy="419.5" r="5.6"/><circle cx="695.4" cy="321.4" r="5.6"/><circle cx="590.2" cy="503.1" r="5.6"/><circle cx="677.9" cy="406.9" r="5.6"/><circle cx="574.8" cy="501.5" r="5.6"/><circle cx="619.0" cy="443.2" r="5.6"/><circle cx="609.5" cy="494.1" r="5.6"/><circle cx="677.1" cy="413.8" r="5.6"/><circle cx="663.4" cy="402.1" r="5.6"/><circle cx="630.3" cy="469.3" r="5.6"/><circle cx="638.0" cy="438.8" r="5.6"/><circle cx="544.5" cy="501.5" r="5.6"/><circle cx="739.0" cy="356.0" r="5.6"/><circle cx="597.5" cy="494.7" r="5.6"/><circle cx="696.3" cy="366.3" r="5.6"/><circle cx="586.2" cy="455.9" r="5.6"/><circle cx="532.7" cy="510.5" r="5.6"/><circle cx="549.2" cy="536.5" r="5.6"/><circle cx="533.8" cy="506.1" r="5.6"/><circle cx="565.0" cy="487.4" r="5.6"/><circle cx="624.7" cy="456.5" r="5.6"/><circle cx="555.2" cy="513.9" r="5.6"/><circle cx="647.6" cy="417.4" r="5.6"/><circle cx="589.5" cy="496.6" r="5.6"/><circle cx="633.8" cy="424.6" r="5.6"/><circle cx="648.7" cy="425.2" r="5.6"/><circle cx="611.0" cy="445.3" r="5.6"/><circle cx="605.8" cy="452.9" r="5.6"/><circle cx="625.5" cy="446.0" r="5.6"/><circle cx="631.2" cy="436.4" r="5.6"/><circle cx="618.5" cy="423.7" r="5.6"/><circle cx="516.5" cy="542.1" r="5.6"/><circle cx="668.4" cy="406.3" r="5.6"/><circle cx="571.4" cy="483.5" r="5.6"/><circle cx="527.9" cy="553.5" r="5.6"/><circle cx="634.0" cy="424.6" r="5.6"/><circle cx="646.4" cy="398.2" r="5.6"/><circle cx="685.8" cy="353.9" r="5.6"/><circle cx="629.3" cy="441.2" r="5.6"/><circle cx="632.3" cy="430.1" r="5.6"/><circle cx="627.3" cy="426.4" r="5.6"/><circle cx="663.7" cy="446.2" r="5.6"/><circle cx="597.3" cy="508.7" r="5.6"/><circle cx="669.0" cy="410.1" r="5.6"/><circle cx="584.2" cy="489.2" r="5.6"/><circle cx="574.1" cy="463.4" r="5.6"/><circle cx="648.5" cy="384.7" r="5.6"/><circle cx="512.5" cy="550.3" r="5.6"/><circle cx="644.3" cy="424.2" r="5.6"/><circle cx="604.8" cy="473.2" r="5.6"/><circle cx="577.4" cy="487.1" r="5.6"/><circle cx="675.0" cy="411.2" r="5.6"/><circle cx="638.8" cy="433.8" r="5.6"/><circle cx="602.2" cy="459.1" r="5.6"/><circle cx="561.2" cy="525.4" r="5.6"/><circle cx="655.0" cy="420.0" r="5.6"/><circle cx="623.6" cy="456.4" r="5.6"/><circle cx="592.9" cy="476.1" r="5.6"/><circle cx="694.3" cy="370.8" r="5.6"/><circle cx="678.8" cy="376.4" r="5.6"/><circle cx="563.4" cy="491.4" r="5.6"/><circle cx="635.4" cy="447.7" r="5.6"/><circle cx="551.7" cy="512.1" r="5.6"/><circle cx="509.3" cy="550.1" r="5.6"/><circle cx="540.1" cy="519.5" r="5.6"/><circle cx="583.1" cy="475.6" r="5.6"/><circle cx="529.1" cy="546.1" r="5.6"/><circle cx="636.7" cy="431.8" r="5.6"/><circle cx="659.8" cy="440.7" r="5.6"/><circle cx="542.7" cy="512.8" r="5.6"/><circle cx="676.8" cy="385.0" r="5.6"/><circle cx="606.8" cy="460.2" r="5.6"/><circle cx="677.7" cy="373.0" r="5.6"/><circle cx="588.3" cy="488.4" r="5.6"/><circle cx="519.6" cy="548.7" r="5.6"/><circle cx="624.6" cy="420.6" r="5.6"/><circle cx="651.5" cy="395.7" r="5.6"/><circle cx="518.1" cy="535.3" r="5.6"/><circle cx="615.2" cy="458.4" r="5.6"/><circle cx="598.1" cy="444.6" r="5.6"/><circle cx="550.2" cy="501.2" r="5.6"/><circle cx="543.8" cy="549.8" r="5.6"/><circle cx="652.7" cy="456.5" r="5.6"/><circle cx="647.0" cy="421.3" r="5.6"/><circle cx="594.3" cy="435.1" r="5.6"/><circle cx="552.5" cy="498.9" r="5.6"/><circle cx="642.9" cy="472.5" r="5.6"/><circle cx="610.5" cy="474.5" r="5.6"/><circle cx="534.7" cy="538.4" r="5.6"/><circle cx="619.0" cy="476.6" r="5.6"/><circle cx="544.0" cy="491.4" r="5.6"/><circle cx="597.9" cy="467.4" r="5.6"/><circle cx="580.7" cy="485.9" r="5.6"/><circle cx="622.2" cy="430.3" r="5.6"/><circle cx="554.6" cy="507.7" r="5.6"/><circle cx="548.6" cy="539.3" r="5.6"/><circle cx="645.2" cy="431.7" r="5.6"/><circle cx="587.5" cy="478.4" r="5.6"/><circle cx="607.4" cy="455.2" r="5.6"/><circle cx="552.6" cy="528.0" r="5.6"/><circle cx="593.8" cy="449.1" r="5.6"/><circle cx="621.7" cy="402.5" r="5.6"/><circle cx="573.4" cy="493.3" r="5.6"/><circle cx="582.7" cy="483.7" r="5.6"/><circle cx="656.6" cy="411.3" r="5.6"/><circle cx="704.5" cy="354.7" r="5.6"/><circle cx="656.6" cy="407.2" r="5.6"/><circle cx="583.4" cy="535.3" r="5.6"/><circle cx="576.1" cy="447.9" r="5.6"/><circle cx="597.4" cy="463.6" r="5.6"/><circle cx="566.9" cy="559.1" r="5.6"/><circle cx="610.4" cy="491.6" r="5.6"/><circle cx="577.4" cy="526.8" r="5.6"/><circle cx="633.5" cy="395.8" r="5.6"/><circle cx="630.8" cy="453.8" r="5.6"/><circle cx="577.6" cy="494.5" r="5.6"/><circle cx="589.3" cy="468.8" r="5.6"/><circle cx="649.4" cy="441.2" r="5.6"/><circle cx="632.5" cy="435.3" r="5.6"/><circle cx="606.6" cy="477.4" r="5.6"/><circle cx="607.3" cy="460.6" r="5.6"/><circle cx="698.7" cy="373.8" r="5.6"/><circle cx="646.2" cy="402.5" r="5.6"/><circle cx="619.6" cy="474.7" r="5.6"/><circle cx="527.4" cy="520.2" r="5.6"/><circle cx="644.6" cy="415.2" r="5.6"/><circle cx="668.4" cy="385.1" r="5.6"/><circle cx="681.2" cy="395.8" r="5.6"/><circle cx="555.2" cy="523.4" r="5.6"/><circle cx="656.4" cy="414.1" r="5.6"/><circle cx="578.5" cy="498.1" r="5.6"/><circle cx="597.6" cy="459.0" r="5.6"/><circle cx="507.5" cy="581.8" r="5.6"/><circle cx="616.7" cy="437.0" r="5.6"/><circle cx="536.9" cy="524.7" r="5.6"/><circle cx="546.0" cy="550.5" r="5.6"/><circle cx="635.7" cy="418.8" r="5.6"/><circle cx="629.0" cy="419.2" r="5.6"/><circle cx="687.1" cy="383.9" r="5.6"/><circle cx="613.0" cy="478.2" r="5.6"/><circle cx="569.7" cy="526.7" r="5.6"/><circle cx="552.0" cy="523.3" r="5.6"/><circle cx="611.5" cy="454.2" r="5.6"/><circle cx="683.5" cy="388.1" r="5.6"/><circle cx="605.7" cy="465.9" r="5.6"/><circle cx="681.7" cy="411.1" r="5.6"/><circle cx="623.2" cy="457.3" r="5.6"/><circle cx="544.5" cy="539.0" r="5.6"/><circle cx="641.5" cy="448.3" r="5.6"/><circle cx="605.3" cy="476.5" r="5.6"/><circle cx="626.4" cy="394.8" r="5.6"/><circle cx="637.7" cy="467.0" r="5.6"/><circle cx="558.6" cy="507.7" r="5.6"/><circle cx="663.2" cy="407.0" r="5.6"/><circle cx="613.1" cy="482.1" r="5.6"/><circle cx="663.0" cy="376.3" r="5.6"/><circle cx="637.3" cy="440.2" r="5.6"/><circle cx="642.0" cy="440.6" r="5.6"/><circle cx="586.2" cy="491.4" r="5.6"/><circle cx="590.8" cy="475.9" r="5.6"/><circle cx="618.6" cy="454.3" r="5.6"/><circle cx="614.5" cy="485.7" r="5.6"/><circle cx="682.0" cy="372.2" r="5.6"/><circle cx="575.6" cy="492.9" r="5.6"/><circle cx="628.6" cy="414.5" r="5.6"/><circle cx="604.3" cy="440.2" r="5.6"/><circle cx="616.4" cy="467.2" r="5.6"/><circle cx="578.6" cy="510.1" r="5.6"/><circle cx="640.7" cy="409.3" r="5.6"/><circle cx="558.4" cy="519.8" r="5.6"/><circle cx="641.1" cy="444.2" r="5.6"/><circle cx="662.0" cy="423.1" r="5.6"/><circle cx="717.9" cy="363.6" r="5.6"/><circle cx="680.1" cy="413.3" r="5.6"/><circle cx="525.8" cy="558.8" r="5.6"/><circle cx="570.5" cy="488.6" r="5.6"/><circle cx="585.2" cy="457.6" r="5.6"/><circle cx="581.9" cy="505.1" r="5.6"/><circle cx="690.4" cy="366.9" r="5.6"/><circle cx="654.1" cy="408.0" r="5.6"/><circle cx="561.7" cy="511.5" r="5.6"/><circle cx="680.8" cy="360.1" r="5.6"/><circle cx="669.7" cy="370.3" r="5.6"/><circle cx="628.6" cy="428.6" r="5.6"/><circle cx="539.8" cy="554.5" r="5.6"/><circle cx="668.3" cy="420.5" r="5.6"/><circle cx="565.7" cy="475.4" r="5.6"/><circle cx="596.7" cy="473.6" r="5.6"/><circle cx="683.9" cy="378.6" r="5.6"/><circle cx="575.1" cy="454.0" r="5.6"/><circle cx="551.4" cy="495.6" r="5.6"/><circle cx="627.1" cy="437.6" r="5.6"/><circle cx="631.8" cy="412.8" r="5.6"/><circle cx="610.3" cy="439.2" r="5.6"/><circle cx="600.0" cy="467.9" r="5.6"/><circle cx="581.0" cy="513.0" r="5.6"/><circle cx="619.4" cy="415.9" r="5.6"/><circle cx="580.1" cy="508.5" r="5.6"/><circle cx="613.3" cy="457.9" r="5.6"/><circle cx="623.1" cy="430.6" r="5.6"/><circle cx="600.5" cy="447.4" r="5.6"/><circle cx="614.6" cy="430.3" r="5.6"/><circle cx="705.3" cy="376.4" r="5.6"/><circle cx="601.6" cy="470.0" r="5.6"/><circle cx="661.0" cy="409.8" r="5.6"/><circle cx="621.0" cy="481.6" r="5.6"/><circle cx="683.2" cy="403.1" r="5.6"/><circle cx="563.6" cy="528.0" r="5.6"/><circle cx="597.8" cy="485.2" r="5.6"/><circle cx="548.2" cy="517.1" r="5.6"/><circle cx="627.5" cy="450.9" r="5.6"/><circle cx="647.6" cy="428.9" r="5.6"/><circle cx="705.7" cy="382.3" r="5.6"/><circle cx="585.1" cy="496.2" r="5.6"/><circle cx="649.4" cy="436.8" r="5.6"/><circle cx="627.0" cy="441.6" r="5.6"/><circle cx="614.1" cy="437.0" r="5.6"/><circle cx="675.6" cy="413.0" r="5.6"/><circle cx="633.7" cy="449.9" r="5.6"/><circle cx="583.8" cy="488.1" r="5.6"/><circle cx="560.0" cy="524.2" r="5.6"/><circle cx="655.5" cy="408.3" r="5.6"/><circle cx="504.7" cy="532.2" r="5.6"/><circle cx="647.8" cy="421.8" r="5.6"/><circle cx="614.0" cy="435.4" r="5.6"/><circle cx="601.1" cy="429.5" r="5.6"/><circle cx="568.4" cy="471.5" r="5.6"/><circle cx="625.3" cy="468.0" r="5.6"/><circle cx="664.2" cy="402.3" r="5.6"/><circle cx="618.2" cy="445.8" r="5.6"/><circle cx="596.7" cy="475.9" r="5.6"/><circle cx="574.5" cy="489.7" r="5.6"/><circle cx="645.1" cy="431.2" r="5.6"/><circle cx="541.6" cy="555.7" r="5.6"/><circle cx="614.1" cy="487.5" r="5.6"/><circle cx="549.9" cy="557.9" r="5.6"/><circle cx="517.8" cy="539.3" r="5.6"/><circle cx="510.5" cy="578.8" r="5.6"/><circle cx="566.9" cy="483.4" r="5.6"/><circle cx="514.4" cy="563.0" r="5.6"/><circle cx="579.6" cy="482.9" r="5.6"/><circle cx="582.1" cy="443.9" r="5.6"/><circle cx="594.8" cy="499.0" r="5.6"/><circle cx="571.3" cy="487.1" r="5.6"/><circle cx="622.5" cy="450.7" r="5.6"/><circle cx="589.3" cy="479.8" r="5.6"/><circle cx="631.1" cy="439.5" r="5.6"/><circle cx="572.8" cy="481.0" r="5.6"/><circle cx="609.7" cy="457.6" r="5.6"/><circle cx="687.3" cy="369.4" r="5.6"/><circle cx="620.1" cy="474.0" r="5.6"/><circle cx="647.5" cy="399.1" r="5.6"/><circle cx="624.1" cy="447.1" r="5.6"/><circle cx="664.2" cy="426.6" r="5.6"/><circle cx="549.4" cy="514.2" r="5.6"/><circle cx="711.0" cy="339.6" r="5.6"/><circle cx="560.4" cy="499.0" r="5.6"/><circle cx="648.3" cy="416.3" r="5.6"/><circle cx="579.6" cy="477.4" r="5.6"/><circle cx="562.2" cy="487.1" r="5.6"/><circle cx="604.4" cy="476.7" r="5.6"/><circle cx="539.0" cy="515.4" r="5.6"/><circle cx="567.2" cy="513.1" r="5.6"/><circle cx="528.6" cy="515.0" r="5.6"/><circle cx="668.0" cy="413.8" r="5.6"/><circle cx="578.4" cy="462.0" r="5.6"/><circle cx="595.1" cy="476.3" r="5.6"/><circle cx="592.0" cy="482.0" r="5.6"/><circle cx="608.5" cy="474.2" r="5.6"/><circle cx="596.2" cy="504.1" r="5.6"/><circle cx="630.3" cy="461.9" r="5.6"/><circle cx="640.2" cy="402.8" r="5.6"/><circle cx="587.4" cy="496.0" r="5.6"/><circle cx="695.3" cy="372.1" r="5.6"/><circle cx="588.9" cy="487.8" r="5.6"/><circle cx="681.5" cy="407.3" r="5.6"/><circle cx="582.9" cy="522.3" r="5.6"/><circle cx="680.4" cy="388.2" r="5.6"/><circle cx="590.9" cy="467.6" r="5.6"/><circle cx="630.3" cy="461.2" r="5.6"/><circle cx="644.5" cy="460.5" r="5.6"/><circle cx="570.9" cy="451.4" r="5.6"/><circle cx="545.7" cy="534.2" r="5.6"/><circle cx="635.2" cy="455.1" r="5.6"/><circle cx="625.1" cy="454.8" r="5.6"/><circle cx="614.2" cy="451.9" r="5.6"/><circle cx="544.0" cy="507.5" r="5.6"/><circle cx="644.3" cy="387.4" r="5.6"/><circle cx="621.1" cy="443.1" r="5.6"/><circle cx="677.7" cy="409.3" r="5.6"/><circle cx="550.2" cy="513.2" r="5.6"/><circle cx="542.5" cy="499.8" r="5.6"/><circle cx="548.7" cy="528.8" r="5.6"/><circle cx="582.2" cy="468.8" r="5.6"/><circle cx="548.3" cy="544.8" r="5.6"/><circle cx="656.5" cy="403.9" r="5.6"/><circle cx="565.4" cy="493.3" r="5.6"/><circle cx="544.6" cy="493.7" r="5.6"/><circle cx="608.6" cy="469.8" r="5.6"/><circle cx="635.7" cy="429.2" r="5.6"/><circle cx="613.9" cy="420.4" r="5.6"/><circle cx="609.2" cy="438.1" r="5.6"/><circle cx="640.6" cy="436.6" r="5.6"/><circle cx="639.1" cy="442.5" r="5.6"/><circle cx="619.2" cy="454.4" r="5.6"/><circle cx="617.6" cy="455.3" r="5.6"/><circle cx="574.4" cy="504.0" r="5.6"/><circle cx="596.8" cy="452.5" r="5.6"/><circle cx="600.3" cy="464.8" r="5.6"/><circle cx="656.8" cy="377.9" r="5.6"/><circle cx="640.4" cy="440.9" r="5.6"/><circle cx="613.9" cy="435.0" r="5.6"/><circle cx="570.5" cy="483.2" r="5.6"/><circle cx="508.9" cy="550.6" r="5.6"/><circle cx="602.2" cy="467.4" r="5.6"/><circle cx="573.4" cy="468.4" r="5.6"/><circle cx="562.7" cy="533.9" r="5.6"/><circle cx="619.7" cy="475.0" r="5.6"/><circle cx="691.4" cy="373.1" r="5.6"/><circle cx="614.5" cy="393.3" r="5.6"/><circle cx="643.3" cy="403.9" r="5.6"/><circle cx="601.2" cy="487.0" r="5.6"/><circle cx="604.6" cy="427.6" r="5.6"/><circle cx="601.8" cy="452.5" r="5.6"/><circle cx="595.2" cy="489.5" r="5.6"/><circle cx="512.3" cy="583.8" r="5.6"/><circle cx="570.3" cy="496.7" r="5.6"/><circle cx="593.1" cy="482.2" r="5.6"/><circle cx="585.3" cy="466.4" r="5.6"/><circle cx="675.7" cy="412.9" r="5.6"/><circle cx="599.8" cy="458.4" r="5.6"/><circle cx="678.9" cy="370.8" r="5.6"/><circle cx="622.1" cy="458.1" r="5.6"/><circle cx="612.6" cy="477.8" r="5.6"/><circle cx="540.8" cy="501.4" r="5.6"/><circle cx="674.3" cy="408.0" r="5.6"/><circle cx="640.8" cy="413.1" r="5.6"/><circle cx="591.4" cy="437.7" r="5.6"/><circle cx="617.5" cy="448.1" r="5.6"/><circle cx="592.9" cy="458.8" r="5.6"/><circle cx="550.4" cy="506.6" r="5.6"/><circle cx="661.0" cy="406.7" r="5.6"/><circle cx="627.2" cy="423.1" r="5.6"/><circle cx="595.8" cy="435.7" r="5.6"/><circle cx="643.1" cy="418.0" r="5.6"/><circle cx="605.8" cy="443.4" r="5.6"/><circle cx="609.2" cy="463.7" r="5.6"/><circle cx="695.8" cy="372.5" r="5.6"/><circle cx="652.4" cy="405.3" r="5.6"/><circle cx="583.9" cy="478.7" r="5.6"/><circle cx="558.5" cy="503.1" r="5.6"/><circle cx="623.4" cy="461.2" r="5.6"/><circle cx="568.2" cy="486.6" r="5.6"/><circle cx="617.5" cy="440.2" r="5.6"/><circle cx="633.9" cy="408.8" r="5.6"/><circle cx="579.8" cy="499.5" r="5.6"/><circle cx="590.7" cy="487.3" r="5.6"/><circle cx="604.3" cy="454.2" r="5.6"/><circle cx="643.9" cy="424.1" r="5.6"/><circle cx="569.5" cy="495.2" r="5.6"/><circle cx="615.3" cy="451.2" r="5.6"/><circle cx="654.6" cy="432.7" r="5.6"/><circle cx="628.4" cy="442.7" r="5.6"/><circle cx="674.8" cy="409.5" r="5.6"/><circle cx="669.0" cy="394.7" r="5.6"/><circle cx="533.4" cy="547.8" r="5.6"/><circle cx="521.1" cy="528.3" r="5.6"/><circle cx="688.6" cy="397.1" r="5.6"/><circle cx="618.1" cy="433.2" r="5.6"/><circle cx="706.0" cy="368.4" r="5.6"/><circle cx="668.0" cy="399.7" r="5.6"/><circle cx="545.3" cy="538.7" r="5.6"/><circle cx="636.0" cy="442.5" r="5.6"/><circle cx="651.2" cy="457.0" r="5.6"/><circle cx="612.5" cy="451.5" r="5.6"/><circle cx="590.3" cy="463.3" r="5.6"/><circle cx="626.7" cy="447.8" r="5.6"/><circle cx="611.6" cy="494.3" r="5.6"/><circle cx="592.3" cy="490.4" r="5.6"/><circle cx="541.6" cy="499.9" r="5.6"/><circle cx="655.9" cy="398.9" r="5.6"/><circle cx="682.3" cy="393.8" r="5.6"/><circle cx="615.7" cy="483.5" r="5.6"/><circle cx="624.7" cy="420.0" r="5.6"/><circle cx="540.4" cy="512.5" r="5.6"/><circle cx="650.3" cy="442.5" r="5.6"/><circle cx="642.0" cy="423.6" r="5.6"/><circle cx="582.5" cy="475.5" r="5.6"/><circle cx="555.1" cy="493.1" r="5.6"/><circle cx="628.8" cy="443.4" r="5.6"/><circle cx="597.5" cy="472.0" r="5.6"/><circle cx="577.0" cy="459.3" r="5.6"/><circle cx="596.7" cy="453.8" r="5.6"/><circle cx="704.1" cy="390.7" r="5.6"/><circle cx="680.9" cy="394.0" r="5.6"/><circle cx="675.3" cy="383.9" r="5.6"/><circle cx="597.7" cy="480.4" r="5.6"/><circle cx="598.6" cy="487.8" r="5.6"/><circle cx="627.7" cy="451.6" r="5.6"/><circle cx="600.1" cy="477.8" r="5.6"/><circle cx="542.3" cy="530.1" r="5.6"/><circle cx="584.8" cy="495.7" r="5.6"/><circle cx="609.7" cy="498.8" r="5.6"/><circle cx="609.2" cy="432.4" r="5.6"/><circle cx="667.7" cy="403.0" r="5.6"/><circle cx="669.1" cy="398.0" r="5.6"/><circle cx="681.0" cy="396.8" r="5.6"/><circle cx="518.8" cy="589.2" r="5.6"/><circle cx="636.7" cy="437.6" r="5.6"/><circle cx="537.2" cy="532.3" r="5.6"/><circle cx="600.6" cy="461.7" r="5.6"/><circle cx="610.6" cy="434.3" r="5.6"/><circle cx="617.5" cy="456.0" r="5.6"/><circle cx="641.3" cy="394.5" r="5.6"/><circle cx="655.7" cy="427.3" r="5.6"/><circle cx="653.8" cy="406.6" r="5.6"/><circle cx="562.8" cy="550.4" r="5.6"/><circle cx="558.2" cy="476.1" r="5.6"/><circle cx="641.0" cy="428.2" r="5.6"/><circle cx="619.7" cy="466.0" r="5.6"/><circle cx="630.6" cy="444.1" r="5.6"/><circle cx="577.1" cy="492.5" r="5.6"/><circle cx="613.8" cy="408.5" r="5.6"/><circle cx="639.0" cy="428.0" r="5.6"/><circle cx="608.5" cy="468.5" r="5.6"/><circle cx="514.2" cy="527.5" r="5.6"/><circle cx="584.3" cy="490.6" r="5.6"/><circle cx="633.4" cy="441.4" r="5.6"/><circle cx="681.3" cy="372.9" r="5.6"/><circle cx="622.6" cy="452.4" r="5.6"/><circle cx="627.2" cy="441.8" r="5.6"/><circle cx="641.8" cy="416.2" r="5.6"/><circle cx="605.1" cy="479.0" r="5.6"/><circle cx="647.2" cy="410.1" r="5.6"/><circle cx="666.4" cy="397.1" r="5.6"/><circle cx="575.5" cy="500.0" r="5.6"/><circle cx="595.0" cy="478.2" r="5.6"/><circle cx="560.2" cy="506.9" r="5.6"/><circle cx="611.8" cy="478.7" r="5.6"/><circle cx="650.6" cy="430.4" r="5.6"/><circle cx="574.9" cy="486.2" r="5.6"/><circle cx="628.3" cy="427.2" r="5.6"/><circle cx="561.5" cy="523.1" r="5.6"/><circle cx="511.7" cy="545.3" r="5.6"/><circle cx="584.5" cy="487.4" r="5.6"/><circle cx="631.8" cy="453.2" r="5.6"/><circle cx="622.1" cy="440.6" r="5.6"/><circle cx="644.7" cy="440.3" r="5.6"/><circle cx="631.8" cy="394.6" r="5.6"/><circle cx="677.4" cy="397.4" r="5.6"/><circle cx="530.7" cy="534.1" r="5.6"/><circle cx="608.8" cy="486.0" r="5.6"/><circle cx="618.5" cy="457.8" r="5.6"/><circle cx="622.7" cy="442.7" r="5.6"/><circle cx="549.6" cy="485.7" r="5.6"/><circle cx="574.2" cy="500.0" r="5.6"/><circle cx="554.0" cy="488.4" r="5.6"/><circle cx="571.5" cy="527.8" r="5.6"/><circle cx="620.3" cy="454.3" r="5.6"/><circle cx="599.9" cy="461.3" r="5.6"/><circle cx="649.7" cy="419.9" r="5.6"/><circle cx="515.9" cy="553.3" r="5.6"/><circle cx="624.5" cy="431.7" r="5.6"/><circle cx="559.1" cy="546.1" r="5.6"/><circle cx="690.6" cy="394.8" r="5.6"/><circle cx="671.2" cy="359.3" r="5.6"/><circle cx="585.2" cy="452.0" r="5.6"/><circle cx="715.6" cy="342.9" r="5.6"/><circle cx="527.6" cy="570.7" r="5.6"/><circle cx="673.0" cy="382.8" r="5.6"/><circle cx="573.7" cy="525.0" r="5.6"/><circle cx="564.9" cy="489.1" r="5.6"/><circle cx="619.4" cy="448.5" r="5.6"/><circle cx="622.4" cy="464.9" r="5.6"/><circle cx="708.2" cy="330.2" r="5.6"/><circle cx="562.8" cy="497.4" r="5.6"/><circle cx="673.7" cy="386.4" r="5.6"/><circle cx="633.6" cy="434.3" r="5.6"/><circle cx="619.9" cy="469.4" r="5.6"/><circle cx="578.4" cy="507.6" r="5.6"/><circle cx="537.3" cy="524.9" r="5.6"/><circle cx="656.0" cy="401.2" r="5.6"/><circle cx="593.7" cy="450.2" r="5.6"/><circle cx="574.5" cy="474.3" r="5.6"/><circle cx="696.8" cy="376.6" r="5.6"/><circle cx="544.5" cy="555.0" r="5.6"/><circle cx="623.7" cy="440.5" r="5.6"/><circle cx="560.3" cy="515.9" r="5.6"/><circle cx="595.8" cy="481.8" r="5.6"/><circle cx="633.2" cy="425.1" r="5.6"/><circle cx="650.1" cy="412.3" r="5.6"/><circle cx="679.2" cy="367.7" r="5.6"/><circle cx="608.0" cy="459.3" r="5.6"/><circle cx="649.0" cy="406.5" r="5.6"/><circle cx="643.2" cy="391.1" r="5.6"/><circle cx="580.9" cy="454.7" r="5.6"/><circle cx="622.0" cy="457.1" r="5.6"/><circle cx="605.2" cy="467.4" r="5.6"/><circle cx="527.1" cy="564.1" r="5.6"/><circle cx="604.6" cy="469.0" r="5.6"/><circle cx="592.7" cy="515.1" r="5.6"/><circle cx="664.6" cy="437.6" r="5.6"/><circle cx="651.8" cy="414.9" r="5.6"/><circle cx="602.2" cy="451.4" r="5.6"/><circle cx="555.6" cy="490.6" r="5.6"/><circle cx="651.1" cy="424.3" r="5.6"/><circle cx="567.0" cy="501.3" r="5.6"/><circle cx="647.7" cy="406.5" r="5.6"/><circle cx="561.4" cy="470.2" r="5.6"/><circle cx="549.0" cy="542.2" r="5.6"/><circle cx="559.6" cy="537.0" r="5.6"/><circle cx="590.6" cy="486.4" r="5.6"/><circle cx="618.3" cy="493.0" r="5.6"/><circle cx="511.4" cy="559.0" r="5.6"/><circle cx="570.8" cy="493.9" r="5.6"/><circle cx="638.2" cy="438.8" r="5.6"/><circle cx="633.0" cy="447.9" r="5.6"/><circle cx="658.5" cy="421.8" r="5.6"/><circle cx="605.1" cy="464.0" r="5.6"/><circle cx="602.4" cy="459.1" r="5.6"/><circle cx="605.2" cy="473.2" r="5.6"/><circle cx="597.3" cy="474.8" r="5.6"/><circle cx="658.0" cy="409.8" r="5.6"/><circle cx="520.1" cy="527.6" r="5.6"/><circle cx="630.8" cy="445.7" r="5.6"/><circle cx="568.1" cy="501.5" r="5.6"/><circle cx="647.6" cy="375.5" r="5.6"/><circle cx="719.4" cy="362.5" r="5.6"/><circle cx="670.8" cy="414.7" r="5.6"/><circle cx="603.9" cy="459.4" r="5.6"/><circle cx="684.3" cy="357.1" r="5.6"/><circle cx="677.5" cy="400.2" r="5.6"/><circle cx="630.7" cy="421.7" r="5.6"/><circle cx="666.1" cy="405.4" r="5.6"/><circle cx="627.1" cy="433.4" r="5.6"/><circle cx="619.4" cy="488.4" r="5.6"/><circle cx="599.9" cy="456.1" r="5.6"/><circle cx="559.4" cy="472.3" r="5.6"/><circle cx="706.6" cy="350.3" r="5.6"/><circle cx="620.5" cy="457.9" r="5.6"/><circle cx="632.9" cy="413.9" r="5.6"/><circle cx="565.2" cy="514.6" r="5.6"/><circle cx="632.5" cy="445.0" r="5.6"/><circle cx="667.7" cy="394.7" r="5.6"/><circle cx="641.7" cy="417.7" r="5.6"/><circle cx="688.8" cy="384.0" r="5.6"/><circle cx="622.3" cy="415.9" r="5.6"/><circle cx="622.3" cy="439.7" r="5.6"/><circle cx="587.1" cy="510.5" r="5.6"/><circle cx="564.2" cy="470.1" r="5.6"/><circle cx="669.6" cy="385.9" r="5.6"/><circle cx="536.4" cy="542.2" r="5.6"/><circle cx="603.6" cy="494.6" r="5.6"/><circle cx="525.4" cy="531.8" r="5.6"/><circle cx="590.7" cy="458.6" r="5.6"/><circle cx="539.6" cy="497.4" r="5.6"/><circle cx="652.9" cy="399.6" r="5.6"/><circle cx="674.4" cy="409.7" r="5.6"/><circle cx="635.2" cy="452.9" r="5.6"/><circle cx="708.8" cy="353.4" r="5.6"/><circle cx="645.9" cy="400.0" r="5.6"/><circle cx="605.6" cy="465.7" r="5.6"/><circle cx="598.8" cy="459.3" r="5.6"/><circle cx="746.9" cy="287.4" r="5.6"/><circle cx="635.5" cy="448.6" r="5.6"/><circle cx="569.3" cy="500.6" r="5.6"/><circle cx="568.4" cy="452.4" r="5.6"/><circle cx="703.8" cy="359.1" r="5.6"/><circle cx="519.5" cy="541.0" r="5.6"/><circle cx="590.2" cy="482.8" r="5.6"/><circle cx="694.9" cy="393.1" r="5.6"/><circle cx="693.4" cy="401.4" r="5.6"/><circle cx="582.3" cy="506.3" r="5.6"/><circle cx="662.6" cy="400.9" r="5.6"/><circle cx="583.7" cy="468.1" r="5.6"/><circle cx="625.7" cy="457.6" r="5.6"/><circle cx="595.0" cy="469.4" r="5.6"/><circle cx="648.9" cy="418.7" r="5.6"/><circle cx="652.6" cy="433.5" r="5.6"/><circle cx="559.7" cy="515.9" r="5.6"/><circle cx="747.6" cy="308.1" r="5.6"/><circle cx="658.4" cy="414.2" r="5.6"/><circle cx="673.0" cy="410.9" r="5.6"/><circle cx="596.2" cy="460.4" r="5.6"/><circle cx="615.9" cy="460.0" r="5.6"/><circle cx="519.5" cy="557.2" r="5.6"/><circle cx="619.9" cy="451.4" r="5.6"/><circle cx="630.8" cy="433.2" r="5.6"/><circle cx="615.4" cy="474.8" r="5.6"/><circle cx="619.0" cy="423.2" r="5.6"/><circle cx="566.9" cy="502.8" r="5.6"/><circle cx="539.7" cy="541.5" r="5.6"/><circle cx="578.8" cy="483.9" r="5.6"/><circle cx="668.4" cy="361.1" r="5.6"/><circle cx="656.0" cy="423.5" r="5.6"/><circle cx="646.0" cy="413.1" r="5.6"/><circle cx="609.6" cy="450.4" r="5.6"/><circle cx="634.2" cy="450.5" r="5.6"/><circle cx="630.4" cy="447.9" r="5.6"/><circle cx="659.0" cy="413.3" r="5.6"/><circle cx="659.9" cy="420.7" r="5.6"/><circle cx="655.0" cy="425.6" r="5.6"/><circle cx="565.2" cy="491.2" r="5.6"/><circle cx="616.9" cy="432.2" r="5.6"/><circle cx="635.2" cy="464.4" r="5.6"/><circle cx="658.4" cy="417.2" r="5.6"/><circle cx="663.4" cy="371.0" r="5.6"/><circle cx="585.3" cy="493.1" r="5.6"/><circle cx="641.7" cy="430.3" r="5.6"/><circle cx="605.0" cy="472.0" r="5.6"/><circle cx="555.4" cy="492.1" r="5.6"/><circle cx="617.2" cy="430.7" r="5.6"/><circle cx="633.6" cy="425.5" r="5.6"/><circle cx="604.6" cy="445.6" r="5.6"/><circle cx="646.1" cy="400.2" r="5.6"/><circle cx="615.8" cy="444.4" r="5.6"/><circle cx="591.5" cy="478.5" r="5.6"/><circle cx="629.0" cy="458.6" r="5.6"/><circle cx="617.2" cy="473.8" r="5.6"/><circle cx="650.2" cy="444.7" r="5.6"/><circle cx="521.6" cy="537.4" r="5.6"/><circle cx="534.9" cy="540.3" r="5.6"/><circle cx="644.0" cy="419.0" r="5.6"/><circle cx="592.6" cy="469.2" r="5.6"/><circle cx="597.2" cy="424.1" r="5.6"/><circle cx="599.3" cy="473.4" r="5.6"/><circle cx="670.2" cy="412.3" r="5.6"/><circle cx="750.8" cy="314.4" r="5.6"/><circle cx="599.8" cy="474.8" r="5.6"/><circle cx="513.1" cy="550.0" r="5.6"/><circle cx="612.5" cy="470.2" r="5.6"/><circle cx="546.5" cy="492.3" r="5.6"/><circle cx="567.1" cy="492.6" r="5.6"/><circle cx="726.7" cy="340.0" r="5.6"/><circle cx="547.9" cy="514.8" r="5.6"/><circle cx="687.9" cy="390.1" r="5.6"/><circle cx="637.6" cy="453.4" r="5.6"/><circle cx="549.9" cy="535.3" r="5.6"/><circle cx="572.6" cy="503.0" r="5.6"/><circle cx="671.2" cy="378.4" r="5.6"/><circle cx="527.7" cy="519.0" r="5.6"/><circle cx="644.6" cy="451.3" r="5.6"/><circle cx="626.7" cy="419.3" r="5.6"/><circle cx="548.5" cy="477.9" r="5.6"/><circle cx="556.1" cy="518.8" r="5.6"/><circle cx="575.2" cy="485.1" r="5.6"/><circle cx="544.7" cy="510.7" r="5.6"/><circle cx="575.5" cy="480.0" r="5.6"/><circle cx="620.6" cy="464.3" r="5.6"/><circle cx="677.8" cy="397.0" r="5.6"/><circle cx="566.4" cy="496.7" r="5.6"/><circle cx="575.4" cy="501.7" r="5.6"/><circle cx="638.0" cy="444.1" r="5.6"/><circle cx="571.0" cy="491.2" r="5.6"/><circle cx="557.3" cy="489.3" r="5.6"/><circle cx="606.3" cy="513.1" r="5.6"/><circle cx="697.3" cy="384.0" r="5.6"/><circle cx="527.5" cy="542.3" r="5.6"/><circle cx="590.5" cy="470.1" r="5.6"/><circle cx="608.6" cy="471.5" r="5.6"/><circle cx="616.9" cy="478.5" r="5.6"/><circle cx="583.1" cy="472.0" r="5.6"/><circle cx="595.2" cy="470.1" r="5.6"/><circle cx="568.4" cy="499.1" r="5.6"/><circle cx="609.0" cy="455.6" r="5.6"/><circle cx="616.0" cy="458.5" r="5.6"/><circle cx="586.7" cy="451.1" r="5.6"/><circle cx="606.4" cy="456.4" r="5.6"/><circle cx="594.4" cy="500.4" r="5.6"/><circle cx="580.2" cy="472.9" r="5.6"/><circle cx="596.0" cy="495.0" r="5.6"/><circle cx="624.4" cy="446.5" r="5.6"/><circle cx="509.6" cy="556.9" r="5.6"/><circle cx="653.5" cy="443.5" r="5.6"/><circle cx="638.7" cy="451.3" r="5.6"/><circle cx="539.6" cy="509.4" r="5.6"/><circle cx="533.2" cy="536.7" r="5.6"/><circle cx="629.3" cy="411.1" r="5.6"/><circle cx="619.6" cy="485.4" r="5.6"/><circle cx="548.8" cy="502.7" r="5.6"/><circle cx="563.3" cy="509.9" r="5.6"/><circle cx="687.2" cy="370.3" r="5.6"/><circle cx="640.4" cy="429.6" r="5.6"/><circle cx="624.0" cy="465.2" r="5.6"/><circle cx="643.6" cy="446.9" r="5.6"/><circle cx="605.0" cy="442.8" r="5.6"/><circle cx="575.9" cy="525.3" r="5.6"/><circle cx="598.1" cy="500.1" r="5.6"/><circle cx="605.7" cy="442.2" r="5.6"/><circle cx="553.9" cy="488.2" r="5.6"/><circle cx="535.5" cy="535.4" r="5.6"/><circle cx="591.0" cy="507.2" r="5.6"/><circle cx="564.9" cy="473.5" r="5.6"/><circle cx="619.8" cy="476.8" r="5.6"/><circle cx="591.2" cy="464.0" r="5.6"/><circle cx="620.1" cy="423.1" r="5.6"/><circle cx="588.2" cy="509.4" r="5.6"/><circle cx="636.1" cy="457.1" r="5.6"/><circle cx="530.5" cy="552.3" r="5.6"/><circle cx="614.5" cy="466.3" r="5.6"/><circle cx="628.1" cy="411.7" r="5.6"/><circle cx="642.5" cy="435.9" r="5.6"/><circle cx="645.5" cy="413.9" r="5.6"/><circle cx="644.9" cy="387.5" r="5.6"/><circle cx="528.8" cy="569.8" r="5.6"/><circle cx="603.3" cy="493.7" r="5.6"/><circle cx="593.3" cy="491.0" r="5.6"/><circle cx="627.7" cy="454.2" r="5.6"/><circle cx="587.7" cy="473.4" r="5.6"/><circle cx="656.6" cy="431.2" r="5.6"/><circle cx="689.7" cy="375.1" r="5.6"/><circle cx="697.6" cy="363.5" r="5.6"/><circle cx="597.7" cy="481.8" r="5.6"/><circle cx="611.5" cy="459.6" r="5.6"/><circle cx="625.4" cy="449.0" r="5.6"/><circle cx="534.4" cy="559.7" r="5.6"/><circle cx="551.0" cy="498.1" r="5.6"/><circle cx="563.6" cy="476.3" r="5.6"/><circle cx="578.0" cy="470.6" r="5.6"/><circle cx="568.7" cy="509.9" r="5.6"/><circle cx="579.2" cy="502.2" r="5.6"/><circle cx="641.6" cy="427.5" r="5.6"/><circle cx="650.7" cy="437.1" r="5.6"/><circle cx="673.1" cy="401.9" r="5.6"/><circle cx="589.0" cy="493.3" r="5.6"/><circle cx="646.6" cy="423.6" r="5.6"/><circle cx="675.7" cy="414.4" r="5.6"/><circle cx="695.8" cy="361.5" r="5.6"/><circle cx="640.6" cy="434.6" r="5.6"/><circle cx="609.4" cy="479.2" r="5.6"/><circle cx="561.4" cy="486.2" r="5.6"/><circle cx="630.9" cy="443.3" r="5.6"/><circle cx="576.0" cy="502.1" r="5.6"/><circle cx="600.5" cy="482.2" r="5.6"/><circle cx="669.6" cy="391.3" r="5.6"/><circle cx="553.1" cy="537.5" r="5.6"/><circle cx="531.1" cy="519.8" r="5.6"/><circle cx="590.1" cy="455.3" r="5.6"/><circle cx="600.8" cy="452.2" r="5.6"/><circle cx="590.8" cy="479.8" r="5.6"/><circle cx="561.7" cy="526.4" r="5.6"/><circle cx="561.0" cy="495.9" r="5.6"/><circle cx="564.5" cy="508.5" r="5.6"/><circle cx="620.6" cy="470.8" r="5.6"/><circle cx="597.0" cy="446.9" r="5.6"/><circle cx="604.8" cy="475.6" r="5.6"/><circle cx="644.8" cy="425.5" r="5.6"/><circle cx="571.6" cy="494.4" r="5.6"/><circle cx="640.4" cy="392.4" r="5.6"/><circle cx="592.4" cy="479.2" r="5.6"/><circle cx="542.2" cy="554.7" r="5.6"/><circle cx="618.5" cy="463.1" r="5.6"/><circle cx="620.7" cy="461.5" r="5.6"/><circle cx="673.5" cy="429.1" r="5.6"/><circle cx="615.5" cy="434.2" r="5.6"/><circle cx="587.8" cy="432.9" r="5.6"/><circle cx="544.7" cy="504.9" r="5.6"/><circle cx="617.1" cy="467.2" r="5.6"/><circle cx="583.5" cy="471.0" r="5.6"/><circle cx="557.6" cy="534.4" r="5.6"/><circle cx="606.6" cy="438.1" r="5.6"/><circle cx="559.9" cy="523.1" r="5.6"/><circle cx="608.0" cy="475.8" r="5.6"/><circle cx="665.1" cy="393.6" r="5.6"/><circle cx="596.3" cy="465.1" r="5.6"/><circle cx="557.8" cy="497.3" r="5.6"/><circle cx="691.5" cy="365.2" r="5.6"/><circle cx="637.4" cy="408.7" r="5.6"/><circle cx="640.2" cy="430.6" r="5.6"/><circle cx="668.3" cy="420.4" r="5.6"/><circle cx="628.2" cy="470.5" r="5.6"/><circle cx="572.4" cy="490.3" r="5.6"/><circle cx="623.6" cy="405.1" r="5.6"/><circle cx="547.9" cy="499.8" r="5.6"/><circle cx="622.1" cy="444.0" r="5.6"/><circle cx="559.6" cy="491.0" r="5.6"/><circle cx="579.6" cy="465.4" r="5.6"/><circle cx="572.0" cy="512.4" r="5.6"/><circle cx="671.7" cy="377.4" r="5.6"/><circle cx="677.2" cy="382.2" r="5.6"/><circle cx="633.8" cy="447.0" r="5.6"/><circle cx="668.1" cy="412.1" r="5.6"/><circle cx="630.7" cy="450.8" r="5.6"/><circle cx="573.4" cy="483.7" r="5.6"/><circle cx="658.0" cy="361.5" r="5.6"/><circle cx="528.5" cy="563.5" r="5.6"/><circle cx="603.3" cy="474.1" r="5.6"/><circle cx="630.1" cy="467.9" r="5.6"/><circle cx="633.7" cy="444.5" r="5.6"/><circle cx="607.8" cy="491.0" r="5.6"/><circle cx="597.6" cy="456.0" r="5.6"/><circle cx="677.4" cy="393.6" r="5.6"/><circle cx="634.1" cy="447.0" r="5.6"/><circle cx="601.8" cy="471.1" r="5.6"/><circle cx="563.6" cy="484.1" r="5.6"/><circle cx="620.6" cy="439.8" r="5.6"/><circle cx="646.3" cy="441.1" r="5.6"/><circle cx="574.8" cy="497.4" r="5.6"/><circle cx="623.6" cy="485.4" r="5.6"/><circle cx="590.3" cy="486.7" r="5.6"/><circle cx="594.1" cy="507.4" r="5.6"/><circle cx="572.5" cy="511.7" r="5.6"/><circle cx="687.2" cy="372.1" r="5.6"/><circle cx="662.8" cy="417.6" r="5.6"/><circle cx="723.9" cy="361.9" r="5.6"/><circle cx="625.0" cy="446.7" r="5.6"/><circle cx="577.2" cy="495.9" r="5.6"/><circle cx="645.2" cy="429.2" r="5.6"/><circle cx="601.2" cy="496.1" r="5.6"/><circle cx="573.6" cy="471.9" r="5.6"/><circle cx="657.4" cy="402.1" r="5.6"/><circle cx="564.1" cy="511.9" r="5.6"/><circle cx="709.4" cy="384.8" r="5.6"/><circle cx="603.2" cy="433.2" r="5.6"/><circle cx="547.7" cy="514.2" r="5.6"/><circle cx="553.1" cy="556.9" r="5.6"/><circle cx="579.3" cy="482.6" r="5.6"/><circle cx="625.1" cy="468.9" r="5.6"/><circle cx="574.4" cy="489.2" r="5.6"/><circle cx="673.5" cy="438.6" r="5.6"/><circle cx="643.8" cy="436.6" r="5.6"/><circle cx="570.5" cy="520.3" r="5.6"/><circle cx="676.6" cy="383.7" r="5.6"/><circle cx="581.2" cy="472.9" r="5.6"/><circle cx="558.6" cy="519.2" r="5.6"/><circle cx="675.2" cy="372.2" r="5.6"/><circle cx="531.9" cy="524.7" r="5.6"/><circle cx="573.9" cy="469.2" r="5.6"/><circle cx="594.7" cy="499.6" r="5.6"/><circle cx="681.7" cy="398.1" r="5.6"/><circle cx="601.7" cy="502.7" r="5.6"/><circle cx="650.8" cy="428.2" r="5.6"/><circle cx="678.7" cy="383.3" r="5.6"/><circle cx="631.1" cy="431.4" r="5.6"/><circle cx="611.9" cy="437.9" r="5.6"/><circle cx="630.3" cy="419.9" r="5.6"/><circle cx="592.0" cy="488.9" r="5.6"/><circle cx="694.2" cy="370.2" r="5.6"/><circle cx="531.2" cy="528.5" r="5.6"/><circle cx="620.1" cy="419.9" r="5.6"/><circle cx="685.3" cy="391.5" r="5.6"/><circle cx="666.7" cy="421.1" r="5.6"/><circle cx="616.3" cy="460.0" r="5.6"/><circle cx="648.8" cy="436.6" r="5.6"/><circle cx="621.9" cy="447.1" r="5.6"/><circle cx="651.3" cy="414.1" r="5.6"/><circle cx="575.3" cy="444.3" r="5.6"/><circle cx="594.9" cy="477.5" r="5.6"/><circle cx="573.3" cy="488.9" r="5.6"/><circle cx="587.5" cy="519.4" r="5.6"/><circle cx="645.7" cy="410.3" r="5.6"/><circle cx="673.6" cy="402.3" r="5.6"/><circle cx="597.4" cy="483.8" r="5.6"/><circle cx="663.8" cy="434.3" r="5.6"/><circle cx="556.2" cy="504.5" r="5.6"/><circle cx="628.5" cy="475.5" r="5.6"/><circle cx="615.2" cy="455.7" r="5.6"/><circle cx="592.3" cy="470.5" r="5.6"/><circle cx="554.0" cy="528.3" r="5.6"/><circle cx="688.9" cy="348.5" r="5.6"/><circle cx="545.4" cy="517.2" r="5.6"/><circle cx="611.6" cy="484.2" r="5.6"/><circle cx="587.0" cy="450.4" r="5.6"/><circle cx="532.0" cy="487.8" r="5.6"/><circle cx="663.1" cy="433.0" r="5.6"/><circle cx="617.6" cy="452.9" r="5.6"/><circle cx="664.9" cy="398.0" r="5.6"/><circle cx="605.3" cy="463.0" r="5.6"/><circle cx="632.8" cy="416.7" r="5.6"/><circle cx="519.4" cy="542.6" r="5.6"/><circle cx="557.4" cy="504.2" r="5.6"/><circle cx="623.9" cy="429.6" r="5.6"/><circle cx="575.5" cy="518.8" r="5.6"/><circle cx="551.0" cy="519.3" r="5.6"/><circle cx="609.5" cy="504.2" r="5.6"/><circle cx="594.6" cy="493.3" r="5.6"/><circle cx="516.0" cy="571.7" r="5.6"/><circle cx="601.0" cy="477.7" r="5.6"/><circle cx="550.0" cy="505.0" r="5.6"/><circle cx="602.1" cy="477.9" r="5.6"/><circle cx="730.7" cy="333.5" r="5.6"/><circle cx="648.1" cy="432.3" r="5.6"/><circle cx="664.8" cy="441.7" r="5.6"/><circle cx="716.4" cy="372.3" r="5.6"/><circle cx="590.0" cy="494.3" r="5.6"/><circle cx="678.2" cy="399.5" r="5.6"/><circle cx="598.0" cy="457.0" r="5.6"/><circle cx="541.1" cy="526.6" r="5.6"/><circle cx="582.9" cy="480.2" r="5.6"/><circle cx="586.7" cy="510.0" r="5.6"/><circle cx="702.9" cy="353.5" r="5.6"/><circle cx="593.9" cy="442.9" r="5.6"/><circle cx="629.6" cy="444.1" r="5.6"/><circle cx="624.5" cy="429.8" r="5.6"/><circle cx="595.1" cy="474.3" r="5.6"/><circle cx="690.8" cy="383.7" r="5.6"/><circle cx="680.8" cy="392.3" r="5.6"/><circle cx="594.5" cy="463.2" r="5.6"/><circle cx="614.2" cy="477.9" r="5.6"/><circle cx="650.4" cy="413.9" r="5.6"/><circle cx="599.6" cy="480.8" r="5.6"/><circle cx="679.8" cy="369.7" r="5.6"/><circle cx="602.6" cy="478.7" r="5.6"/><circle cx="655.5" cy="417.9" r="5.6"/><circle cx="650.1" cy="437.8" r="5.6"/><circle cx="619.7" cy="441.2" r="5.6"/><circle cx="587.3" cy="456.7" r="5.6"/><circle cx="572.2" cy="543.7" r="5.6"/><circle cx="586.4" cy="475.7" r="5.6"/><circle cx="616.7" cy="457.9" r="5.6"/><circle cx="550.5" cy="516.3" r="5.6"/><circle cx="568.1" cy="509.1" r="5.6"/><circle cx="664.3" cy="420.4" r="5.6"/><circle cx="591.0" cy="454.5" r="5.6"/><circle cx="561.2" cy="506.4" r="5.6"/><circle cx="529.3" cy="558.6" r="5.6"/><circle cx="627.4" cy="457.3" r="5.6"/><circle cx="640.7" cy="454.9" r="5.6"/><circle cx="648.1" cy="403.8" r="5.6"/><circle cx="706.4" cy="356.2" r="5.6"/><circle cx="613.9" cy="492.1" r="5.6"/><circle cx="585.6" cy="500.9" r="5.6"/><circle cx="656.5" cy="416.7" r="5.6"/><circle cx="602.7" cy="464.2" r="5.6"/><circle cx="557.9" cy="514.0" r="5.6"/><circle cx="586.7" cy="498.6" r="5.6"/><circle cx="609.8" cy="458.4" r="5.6"/><circle cx="702.6" cy="370.5" r="5.6"/><circle cx="674.3" cy="409.0" r="5.6"/><circle cx="614.4" cy="445.5" r="5.6"/><circle cx="614.4" cy="473.8" r="5.6"/><circle cx="613.6" cy="486.1" r="5.6"/><circle cx="633.9" cy="454.1" r="5.6"/><circle cx="574.9" cy="460.0" r="5.6"/><circle cx="564.4" cy="516.7" r="5.6"/><circle cx="673.6" cy="402.1" r="5.6"/><circle cx="641.6" cy="446.8" r="5.6"/><circle cx="558.0" cy="506.1" r="5.6"/><circle cx="589.2" cy="505.0" r="5.6"/><circle cx="618.4" cy="477.5" r="5.6"/><circle cx="583.0" cy="502.9" r="5.6"/><circle cx="599.9" cy="507.7" r="5.6"/><circle cx="612.1" cy="485.5" r="5.6"/><circle cx="639.3" cy="411.4" r="5.6"/><circle cx="640.1" cy="422.9" r="5.6"/><circle cx="619.1" cy="442.1" r="5.6"/><circle cx="680.3" cy="399.4" r="5.6"/><circle cx="602.8" cy="461.7" r="5.6"/><circle cx="520.6" cy="576.4" r="5.6"/><circle cx="613.9" cy="452.7" r="5.6"/><circle cx="593.3" cy="473.9" r="5.6"/><circle cx="504.9" cy="583.3" r="5.6"/><circle cx="680.0" cy="402.4" r="5.6"/><circle cx="608.2" cy="476.5" r="5.6"/><circle cx="562.4" cy="480.3" r="5.6"/><circle cx="629.6" cy="457.7" r="5.6"/><circle cx="667.2" cy="422.9" r="5.6"/><circle cx="494.2" cy="549.2" r="5.6"/><circle cx="554.8" cy="500.3" r="5.6"/><circle cx="590.8" cy="498.6" r="5.6"/><circle cx="517.3" cy="535.4" r="5.6"/><circle cx="578.7" cy="479.5" r="5.6"/><circle cx="564.9" cy="484.9" r="5.6"/><circle cx="644.8" cy="437.9" r="5.6"/><circle cx="571.3" cy="490.8" r="5.6"/><circle cx="696.6" cy="381.6" r="5.6"/><circle cx="603.6" cy="431.9" r="5.6"/><circle cx="609.1" cy="488.6" r="5.6"/><circle cx="571.9" cy="516.9" r="5.6"/><circle cx="634.3" cy="439.3" r="5.6"/><circle cx="599.9" cy="483.2" r="5.6"/><circle cx="583.3" cy="492.9" r="5.6"/><circle cx="581.6" cy="467.6" r="5.6"/><circle cx="537.3" cy="529.9" r="5.6"/><circle cx="628.1" cy="436.8" r="5.6"/><circle cx="571.5" cy="461.4" r="5.6"/><circle cx="611.4" cy="480.8" r="5.6"/><circle cx="601.8" cy="425.9" r="5.6"/><circle cx="582.0" cy="509.3" r="5.6"/><circle cx="636.3" cy="444.0" r="5.6"/><circle cx="681.1" cy="379.0" r="5.6"/><circle cx="557.7" cy="488.7" r="5.6"/><circle cx="585.7" cy="482.4" r="5.6"/><circle cx="586.3" cy="443.6" r="5.6"/><circle cx="619.1" cy="508.2" r="5.6"/><circle cx="574.3" cy="482.6" r="5.6"/><circle cx="559.0" cy="489.3" r="5.6"/><circle cx="626.7" cy="404.5" r="5.6"/><circle cx="638.1" cy="410.6" r="5.6"/><circle cx="680.6" cy="375.4" r="5.6"/><circle cx="616.1" cy="425.7" r="5.6"/><circle cx="625.0" cy="458.4" r="5.6"/><circle cx="606.4" cy="479.7" r="5.6"/><circle cx="553.7" cy="513.1" r="5.6"/><circle cx="640.4" cy="434.5" r="5.6"/><circle cx="682.2" cy="419.3" r="5.6"/><circle cx="575.4" cy="494.5" r="5.6"/><circle cx="597.5" cy="460.6" r="5.6"/><circle cx="728.9" cy="324.0" r="5.6"/><circle cx="594.2" cy="456.1" r="5.6"/><circle cx="588.6" cy="483.0" r="5.6"/><circle cx="708.8" cy="365.1" r="5.6"/><circle cx="596.3" cy="488.5" r="5.6"/><circle cx="681.2" cy="388.0" r="5.6"/><circle cx="612.2" cy="500.9" r="5.6"/><circle cx="655.2" cy="398.3" r="5.6"/><circle cx="529.8" cy="545.7" r="5.6"/><circle cx="529.4" cy="532.7" r="5.6"/><circle cx="608.0" cy="454.0" r="5.6"/><circle cx="566.2" cy="486.1" r="5.6"/><circle cx="650.1" cy="414.4" r="5.6"/><circle cx="648.6" cy="382.0" r="5.6"/><circle cx="617.6" cy="471.3" r="5.6"/><circle cx="630.1" cy="456.3" r="5.6"/><circle cx="564.1" cy="509.3" r="5.6"/><circle cx="590.8" cy="479.1" r="5.6"/><circle cx="595.3" cy="479.2" r="5.6"/><circle cx="695.8" cy="375.1" r="5.6"/><circle cx="638.9" cy="448.5" r="5.6"/><circle cx="589.3" cy="426.3" r="5.6"/><circle cx="573.8" cy="476.8" r="5.6"/><circle cx="592.1" cy="492.3" r="5.6"/><circle cx="685.6" cy="389.0" r="5.6"/><circle cx="636.0" cy="433.1" r="5.6"/><circle cx="659.2" cy="428.5" r="5.6"/><circle cx="622.0" cy="435.1" r="5.6"/><circle cx="599.0" cy="502.7" r="5.6"/><circle cx="624.2" cy="426.2" r="5.6"/><circle cx="630.7" cy="440.2" r="5.6"/><circle cx="609.9" cy="465.1" r="5.6"/><circle cx="609.9" cy="434.8" r="5.6"/><circle cx="686.9" cy="402.0" r="5.6"/><circle cx="707.5" cy="344.0" r="5.6"/><circle cx="549.6" cy="521.8" r="5.6"/><circle cx="584.0" cy="466.9" r="5.6"/><circle cx="538.8" cy="523.4" r="5.6"/><circle cx="708.0" cy="356.3" r="5.6"/><circle cx="648.4" cy="417.2" r="5.6"/><circle cx="638.2" cy="407.9" r="5.6"/><circle cx="591.4" cy="494.7" r="5.6"/><circle cx="618.1" cy="456.3" r="5.6"/><circle cx="582.3" cy="468.8" r="5.6"/><circle cx="544.0" cy="513.7" r="5.6"/><circle cx="614.5" cy="453.4" r="5.6"/><circle cx="625.4" cy="455.9" r="5.6"/><circle cx="608.3" cy="466.8" r="5.6"/><circle cx="626.4" cy="472.4" r="5.6"/><circle cx="580.6" cy="485.2" r="5.6"/><circle cx="576.1" cy="473.5" r="5.6"/><circle cx="568.5" cy="501.1" r="5.6"/><circle cx="655.0" cy="407.3" r="5.6"/><circle cx="594.6" cy="471.4" r="5.6"/><circle cx="630.1" cy="430.7" r="5.6"/><circle cx="617.6" cy="436.2" r="5.6"/><circle cx="633.8" cy="460.2" r="5.6"/><circle cx="639.7" cy="445.9" r="5.6"/><circle cx="639.2" cy="418.2" r="5.6"/><circle cx="595.9" cy="496.0" r="5.6"/><circle cx="707.9" cy="346.0" r="5.6"/><circle cx="666.2" cy="420.4" r="5.6"/><circle cx="627.8" cy="429.6" r="5.6"/><circle cx="651.0" cy="404.7" r="5.6"/><circle cx="513.5" cy="565.9" r="5.6"/><circle cx="682.7" cy="390.6" r="5.6"/><circle cx="613.0" cy="494.7" r="5.6"/><circle cx="566.2" cy="481.2" r="5.6"/><circle cx="656.0" cy="425.6" r="5.6"/><circle cx="619.5" cy="475.9" r="5.6"/><circle cx="648.2" cy="396.6" r="5.6"/><circle cx="679.6" cy="400.4" r="5.6"/><circle cx="609.1" cy="443.9" r="5.6"/><circle cx="637.3" cy="437.2" r="5.6"/><circle cx="632.6" cy="438.4" r="5.6"/><circle cx="620.8" cy="448.4" r="5.6"/><circle cx="646.7" cy="464.6" r="5.6"/><circle cx="553.1" cy="520.2" r="5.6"/><circle cx="674.3" cy="381.4" r="5.6"/><circle cx="643.2" cy="458.5" r="5.6"/><circle cx="581.6" cy="485.5" r="5.6"/><circle cx="518.5" cy="548.2" r="5.6"/><circle cx="573.8" cy="522.1" r="5.6"/><circle cx="644.6" cy="456.4" r="5.6"/><circle cx="597.4" cy="462.5" r="5.6"/><circle cx="557.9" cy="512.9" r="5.6"/><circle cx="532.5" cy="512.1" r="5.6"/><circle cx="632.7" cy="442.1" r="5.6"/><circle cx="609.2" cy="461.3" r="5.6"/><circle cx="585.6" cy="476.4" r="5.6"/><circle cx="633.5" cy="418.4" r="5.6"/><circle cx="632.0" cy="426.6" r="5.6"/><circle cx="669.2" cy="366.9" r="5.6"/><circle cx="628.3" cy="426.3" r="5.6"/><circle cx="582.0" cy="462.4" r="5.6"/><circle cx="627.9" cy="432.8" r="5.6"/><circle cx="539.0" cy="535.9" r="5.6"/><circle cx="638.9" cy="430.7" r="5.6"/><circle cx="562.3" cy="486.1" r="5.6"/><circle cx="618.0" cy="493.3" r="5.6"/><circle cx="612.0" cy="427.4" r="5.6"/><circle cx="573.7" cy="515.3" r="5.6"/><circle cx="657.0" cy="412.7" r="5.6"/><circle cx="541.5" cy="563.1" r="5.6"/><circle cx="686.9" cy="376.6" r="5.6"/><circle cx="583.2" cy="470.1" r="5.6"/><circle cx="660.6" cy="410.4" r="5.6"/><circle cx="548.3" cy="533.0" r="5.6"/><circle cx="569.7" cy="499.4" r="5.6"/><circle cx="649.3" cy="429.8" r="5.6"/><circle cx="659.4" cy="415.9" r="5.6"/><circle cx="603.4" cy="454.2" r="5.6"/><circle cx="608.6" cy="455.8" r="5.6"/><circle cx="703.7" cy="341.3" r="5.6"/><circle cx="694.4" cy="374.9" r="5.6"/><circle cx="639.4" cy="428.5" r="5.6"/><circle cx="541.3" cy="540.7" r="5.6"/><circle cx="577.4" cy="495.4" r="5.6"/><circle cx="655.7" cy="407.2" r="5.6"/><circle cx="602.3" cy="498.6" r="5.6"/><circle cx="589.6" cy="457.5" r="5.6"/><circle cx="584.7" cy="490.5" r="5.6"/><circle cx="634.5" cy="413.4" r="5.6"/><circle cx="516.0" cy="540.3" r="5.6"/><circle cx="540.2" cy="503.8" r="5.6"/><circle cx="588.0" cy="498.5" r="5.6"/><circle cx="550.2" cy="501.9" r="5.6"/><circle cx="711.5" cy="359.4" r="5.6"/><circle cx="594.2" cy="515.2" r="5.6"/><circle cx="637.5" cy="457.6" r="5.6"/><circle cx="666.6" cy="398.2" r="5.6"/><circle cx="564.5" cy="517.2" r="5.6"/><circle cx="676.8" cy="396.1" r="5.6"/><circle cx="641.8" cy="464.0" r="5.6"/><circle cx="580.5" cy="464.7" r="5.6"/><circle cx="559.3" cy="499.5" r="5.6"/><circle cx="643.3" cy="408.9" r="5.6"/><circle cx="600.5" cy="479.5" r="5.6"/><circle cx="629.9" cy="441.1" r="5.6"/><circle cx="644.4" cy="425.5" r="5.6"/><circle cx="552.8" cy="499.7" r="5.6"/><circle cx="660.7" cy="403.5" r="5.6"/><circle cx="660.6" cy="425.0" r="5.6"/><circle cx="601.9" cy="407.2" r="5.6"/><circle cx="671.4" cy="378.2" r="5.6"/><circle cx="730.6" cy="306.1" r="5.6"/><circle cx="609.5" cy="455.9" r="5.6"/><circle cx="648.2" cy="414.9" r="5.6"/><circle cx="607.6" cy="479.4" r="5.6"/><circle cx="665.0" cy="425.7" r="5.6"/><circle cx="612.5" cy="458.0" r="5.6"/><circle cx="615.7" cy="475.2" r="5.6"/><circle cx="612.1" cy="428.7" r="5.6"/><circle cx="598.5" cy="455.7" r="5.6"/><circle cx="627.1" cy="440.0" r="5.6"/><circle cx="564.6" cy="479.5" r="5.6"/><circle cx="651.4" cy="420.8" r="5.6"/><circle cx="648.3" cy="452.7" r="5.6"/><circle cx="620.6" cy="429.0" r="5.6"/><circle cx="592.0" cy="447.7" r="5.6"/><circle cx="661.9" cy="409.8" r="5.6"/><circle cx="684.9" cy="393.5" r="5.6"/><circle cx="624.6" cy="465.2" r="5.6"/><circle cx="638.1" cy="395.3" r="5.6"/><circle cx="609.0" cy="480.1" r="5.6"/><circle cx="612.3" cy="431.1" r="5.6"/><circle cx="638.4" cy="457.9" r="5.6"/><circle cx="544.6" cy="541.7" r="5.6"/><circle cx="620.4" cy="457.3" r="5.6"/><circle cx="604.7" cy="451.0" r="5.6"/><circle cx="598.9" cy="449.3" r="5.6"/><circle cx="563.8" cy="494.3" r="5.6"/><circle cx="677.4" cy="413.3" r="5.6"/><circle cx="659.7" cy="436.6" r="5.6"/><circle cx="620.8" cy="438.4" r="5.6"/><circle cx="571.3" cy="476.5" r="5.6"/><circle cx="582.3" cy="493.6" r="5.6"/><circle cx="576.5" cy="511.7" r="5.6"/><circle cx="721.1" cy="347.3" r="5.6"/><circle cx="588.0" cy="515.6" r="5.6"/><circle cx="633.5" cy="462.1" r="5.6"/><circle cx="578.7" cy="509.7" r="5.6"/><circle cx="646.4" cy="455.0" r="5.6"/><circle cx="638.1" cy="452.1" r="5.6"/><circle cx="662.4" cy="402.5" r="5.6"/><circle cx="533.1" cy="519.1" r="5.6"/><circle cx="599.9" cy="465.6" r="5.6"/><circle cx="678.0" cy="402.7" r="5.6"/><circle cx="615.7" cy="449.2" r="5.6"/><circle cx="644.8" cy="442.2" r="5.6"/><circle cx="587.0" cy="481.6" r="5.6"/><circle cx="517.8" cy="538.3" r="5.6"/><circle cx="622.2" cy="423.7" r="5.6"/><circle cx="662.5" cy="404.8" r="5.6"/><circle cx="643.7" cy="441.4" r="5.6"/><circle cx="645.5" cy="411.5" r="5.6"/><circle cx="573.5" cy="492.0" r="5.6"/><circle cx="663.7" cy="389.8" r="5.6"/><circle cx="571.8" cy="504.1" r="5.6"/><circle cx="552.5" cy="538.2" r="5.6"/><circle cx="600.5" cy="477.2" r="5.6"/><circle cx="596.5" cy="472.4" r="5.6"/><circle cx="655.1" cy="416.2" r="5.6"/><circle cx="647.1" cy="455.9" r="5.6"/><circle cx="660.3" cy="385.6" r="5.6"/><circle cx="654.2" cy="423.3" r="5.6"/><circle cx="625.2" cy="454.8" r="5.6"/><circle cx="713.9" cy="375.1" r="5.6"/><circle cx="670.7" cy="413.4" r="5.6"/><circle cx="626.1" cy="426.4" r="5.6"/><circle cx="588.1" cy="434.1" r="5.6"/><circle cx="626.2" cy="454.7" r="5.6"/><circle cx="661.3" cy="384.9" r="5.6"/><circle cx="625.5" cy="458.7" r="5.6"/><circle cx="702.4" cy="359.3" r="5.6"/><circle cx="640.8" cy="432.6" r="5.6"/><circle cx="619.4" cy="415.6" r="5.6"/><circle cx="613.3" cy="479.0" r="5.6"/><circle cx="581.2" cy="525.7" r="5.6"/><circle cx="571.0" cy="491.7" r="5.6"/><circle cx="726.9" cy="326.2" r="5.6"/><circle cx="570.6" cy="498.3" r="5.6"/><circle cx="583.3" cy="503.1" r="5.6"/><circle cx="578.8" cy="490.7" r="5.6"/><circle cx="539.6" cy="515.4" r="5.6"/><circle cx="590.7" cy="498.5" r="5.6"/><circle cx="575.9" cy="483.8" r="5.6"/><circle cx="668.5" cy="395.5" r="5.6"/><circle cx="616.0" cy="419.8" r="5.6"/><circle cx="582.6" cy="479.3" r="5.6"/><circle cx="641.7" cy="400.4" r="5.6"/><circle cx="584.5" cy="504.0" r="5.6"/><circle cx="649.2" cy="415.8" r="5.6"/><circle cx="619.2" cy="429.8" r="5.6"/><circle cx="577.0" cy="484.7" r="5.6"/><circle cx="654.3" cy="386.7" r="5.6"/><circle cx="646.5" cy="383.2" r="5.6"/><circle cx="701.4" cy="380.6" r="5.6"/><circle cx="652.1" cy="396.3" r="5.6"/><circle cx="577.1" cy="506.8" r="5.6"/><circle cx="679.0" cy="390.7" r="5.6"/><circle cx="577.1" cy="475.4" r="5.6"/><circle cx="532.1" cy="515.8" r="5.6"/><circle cx="618.0" cy="443.2" r="5.6"/><circle cx="583.5" cy="476.0" r="5.6"/><circle cx="627.8" cy="461.9" r="5.6"/><circle cx="664.8" cy="416.1" r="5.6"/><circle cx="663.8" cy="392.5" r="5.6"/><circle cx="578.9" cy="485.2" r="5.6"/><circle cx="593.7" cy="474.4" r="5.6"/><circle cx="598.4" cy="498.5" r="5.6"/><circle cx="614.9" cy="438.7" r="5.6"/><circle cx="605.0" cy="491.4" r="5.6"/><circle cx="648.1" cy="388.6" r="5.6"/><circle cx="602.5" cy="425.3" r="5.6"/><circle cx="656.9" cy="428.9" r="5.6"/><circle cx="688.2" cy="385.7" r="5.6"/><circle cx="575.6" cy="485.6" r="5.6"/><circle cx="594.8" cy="503.6" r="5.6"/><circle cx="693.7" cy="358.7" r="5.6"/><circle cx="678.7" cy="425.3" r="5.6"/><circle cx="586.0" cy="481.8" r="5.6"/><circle cx="588.8" cy="488.7" r="5.6"/><circle cx="597.4" cy="457.0" r="5.6"/><circle cx="581.8" cy="504.9" r="5.6"/><circle cx="683.8" cy="392.8" r="5.6"/><circle cx="618.9" cy="406.7" r="5.6"/><circle cx="638.0" cy="435.2" r="5.6"/><circle cx="496.9" cy="558.3" r="5.6"/><circle cx="541.6" cy="549.9" r="5.6"/><circle cx="594.6" cy="483.8" r="5.6"/><circle cx="655.5" cy="425.1" r="5.6"/><circle cx="586.0" cy="491.9" r="5.6"/><circle cx="554.8" cy="504.2" r="5.6"/><circle cx="572.8" cy="495.0" r="5.6"/><circle cx="656.0" cy="413.0" r="5.6"/><circle cx="617.4" cy="429.9" r="5.6"/><circle cx="553.9" cy="502.9" r="5.6"/><circle cx="585.5" cy="478.9" r="5.6"/><circle cx="593.5" cy="470.6" r="5.6"/><circle cx="634.8" cy="410.4" r="5.6"/><circle cx="583.4" cy="493.8" r="5.6"/><circle cx="513.8" cy="567.7" r="5.6"/><circle cx="693.8" cy="363.4" r="5.6"/><circle cx="598.5" cy="449.7" r="5.6"/><circle cx="658.9" cy="397.8" r="5.6"/><circle cx="671.7" cy="390.2" r="5.6"/><circle cx="605.3" cy="452.8" r="5.6"/><circle cx="687.7" cy="355.3" r="5.6"/><circle cx="614.8" cy="474.4" r="5.6"/><circle cx="496.9" cy="583.3" r="5.6"/><circle cx="615.9" cy="451.2" r="5.6"/><circle cx="637.5" cy="422.0" r="5.6"/><circle cx="652.5" cy="394.3" r="5.6"/><circle cx="638.7" cy="430.0" r="5.6"/><circle cx="684.4" cy="384.5" r="5.6"/><circle cx="601.2" cy="469.8" r="5.6"/><circle cx="617.0" cy="436.8" r="5.6"/><circle cx="503.4" cy="545.7" r="5.6"/><circle cx="610.0" cy="443.8" r="5.6"/><circle cx="629.1" cy="418.7" r="5.6"/><circle cx="639.0" cy="403.3" r="5.6"/><circle cx="670.8" cy="402.5" r="5.6"/><circle cx="573.3" cy="472.4" r="5.6"/><circle cx="685.7" cy="415.7" r="5.6"/><circle cx="595.3" cy="482.3" r="5.6"/><circle cx="576.4" cy="484.2" r="5.6"/><circle cx="596.1" cy="446.2" r="5.6"/><circle cx="633.6" cy="431.0" r="5.6"/><circle cx="589.0" cy="468.0" r="5.6"/><circle cx="682.9" cy="393.5" r="5.6"/><circle cx="575.2" cy="464.4" r="5.6"/><circle cx="565.4" cy="514.8" r="5.6"/><circle cx="518.8" cy="565.6" r="5.6"/><circle cx="611.6" cy="471.9" r="5.6"/><circle cx="596.3" cy="495.8" r="5.6"/><circle cx="567.2" cy="479.4" r="5.6"/><circle cx="615.8" cy="420.0" r="5.6"/><circle cx="596.7" cy="453.0" r="5.6"/><circle cx="585.2" cy="483.0" r="5.6"/><circle cx="742.9" cy="342.9" r="5.6"/><circle cx="528.5" cy="528.5" r="5.6"/><circle cx="635.9" cy="421.0" r="5.6"/><circle cx="665.1" cy="438.1" r="5.6"/><circle cx="607.1" cy="442.4" r="5.6"/><circle cx="641.1" cy="439.6" r="5.6"/><circle cx="609.9" cy="469.0" r="5.6"/><circle cx="534.2" cy="507.2" r="5.6"/><circle cx="629.5" cy="418.8" r="5.6"/><circle cx="600.9" cy="472.3" r="5.6"/><circle cx="669.0" cy="408.8" r="5.6"/><circle cx="583.3" cy="449.6" r="5.6"/><circle cx="617.2" cy="478.2" r="5.6"/><circle cx="621.7" cy="452.2" r="5.6"/><circle cx="666.0" cy="428.8" r="5.6"/><circle cx="574.9" cy="473.8" r="5.6"/><circle cx="557.4" cy="543.7" r="5.6"/><circle cx="501.1" cy="556.5" r="5.6"/><circle cx="639.6" cy="409.6" r="5.6"/><circle cx="645.4" cy="461.1" r="5.6"/><circle cx="614.0" cy="450.6" r="5.6"/><circle cx="549.7" cy="509.3" r="5.6"/><circle cx="617.4" cy="439.8" r="5.6"/><circle cx="644.8" cy="424.3" r="5.6"/><circle cx="696.8" cy="363.2" r="5.6"/><circle cx="648.6" cy="437.0" r="5.6"/><circle cx="620.9" cy="413.5" r="5.6"/><circle cx="556.3" cy="506.9" r="5.6"/><circle cx="640.0" cy="434.5" r="5.6"/><circle cx="742.4" cy="336.1" r="5.6"/><circle cx="647.8" cy="415.3" r="5.6"/><circle cx="638.5" cy="431.8" r="5.6"/><circle cx="591.7" cy="449.3" r="5.6"/><circle cx="668.0" cy="412.5" r="5.6"/><circle cx="620.7" cy="455.4" r="5.6"/><circle cx="567.0" cy="483.0" r="5.6"/><circle cx="661.8" cy="399.6" r="5.6"/><circle cx="653.5" cy="398.8" r="5.6"/><circle cx="618.0" cy="440.9" r="5.6"/><circle cx="630.0" cy="452.2" r="5.6"/><circle cx="653.3" cy="442.8" r="5.6"/><circle cx="619.7" cy="434.3" r="5.6"/><circle cx="601.7" cy="458.8" r="5.6"/><circle cx="643.5" cy="407.9" r="5.6"/><circle cx="539.6" cy="539.3" r="5.6"/><circle cx="651.0" cy="403.8" r="5.6"/><circle cx="699.1" cy="364.3" r="5.6"/><circle cx="632.3" cy="443.3" r="5.6"/><circle cx="608.5" cy="452.6" r="5.6"/><circle cx="592.8" cy="506.4" r="5.6"/><circle cx="537.9" cy="487.5" r="5.6"/><circle cx="666.4" cy="421.6" r="5.6"/><circle cx="631.2" cy="456.7" r="5.6"/><circle cx="579.1" cy="458.3" r="5.6"/><circle cx="713.9" cy="353.4" r="5.6"/><circle cx="687.5" cy="363.2" r="5.6"/><circle cx="709.7" cy="368.4" r="5.6"/><circle cx="632.2" cy="447.4" r="5.6"/><circle cx="552.2" cy="489.7" r="5.6"/><circle cx="681.6" cy="389.2" r="5.6"/><circle cx="591.4" cy="466.2" r="5.6"/><circle cx="586.9" cy="478.4" r="5.6"/><circle cx="541.8" cy="473.2" r="5.6"/><circle cx="579.6" cy="472.6" r="5.6"/><circle cx="581.0" cy="444.9" r="5.6"/><circle cx="674.3" cy="374.9" r="5.6"/><circle cx="623.3" cy="462.4" r="5.6"/><circle cx="638.1" cy="419.1" r="5.6"/><circle cx="604.7" cy="450.2" r="5.6"/><circle cx="566.9" cy="463.3" r="5.6"/><circle cx="633.7" cy="411.6" r="5.6"/><circle cx="639.5" cy="416.9" r="5.6"/><circle cx="583.8" cy="495.7" r="5.6"/><circle cx="647.5" cy="418.5" r="5.6"/><circle cx="627.0" cy="420.5" r="5.6"/><circle cx="579.7" cy="494.0" r="5.6"/><circle cx="647.0" cy="427.7" r="5.6"/><circle cx="685.7" cy="398.0" r="5.6"/><circle cx="534.3" cy="547.2" r="5.6"/><circle cx="687.2" cy="383.0" r="5.6"/><circle cx="581.3" cy="491.3" r="5.6"/><circle cx="662.9" cy="406.1" r="5.6"/><circle cx="588.9" cy="472.3" r="5.6"/><circle cx="637.8" cy="441.1" r="5.6"/><circle cx="726.0" cy="366.1" r="5.6"/><circle cx="646.8" cy="427.5" r="5.6"/><circle cx="649.3" cy="410.4" r="5.6"/><circle cx="592.7" cy="489.7" r="5.6"/><circle cx="601.6" cy="458.2" r="5.6"/><circle cx="588.1" cy="512.3" r="5.6"/><circle cx="686.6" cy="379.5" r="5.6"/><circle cx="590.7" cy="498.9" r="5.6"/><circle cx="709.9" cy="365.4" r="5.6"/><circle cx="702.3" cy="372.3" r="5.6"/><circle cx="584.2" cy="456.4" r="5.6"/><circle cx="650.8" cy="432.3" r="5.6"/><circle cx="620.1" cy="433.7" r="5.6"/><circle cx="602.6" cy="462.1" r="5.6"/><circle cx="730.6" cy="327.2" r="5.6"/><circle cx="553.0" cy="518.4" r="5.6"/><circle cx="629.1" cy="418.1" r="5.6"/><circle cx="602.1" cy="494.2" r="5.6"/><circle cx="673.7" cy="385.8" r="5.6"/><circle cx="495.4" cy="562.7" r="5.6"/><circle cx="609.0" cy="458.1" r="5.6"/><circle cx="583.2" cy="461.2" r="5.6"/><circle cx="577.0" cy="500.6" r="5.6"/><circle cx="642.8" cy="404.6" r="5.6"/><circle cx="511.0" cy="550.5" r="5.6"/><circle cx="598.7" cy="488.1" r="5.6"/><circle cx="562.0" cy="499.5" r="5.6"/><circle cx="574.3" cy="472.1" r="5.6"/><circle cx="538.5" cy="498.2" r="5.6"/><circle cx="651.2" cy="391.9" r="5.6"/><circle cx="716.6" cy="345.6" r="5.6"/><circle cx="626.3" cy="453.7" r="5.6"/><circle cx="609.3" cy="461.0" r="5.6"/><circle cx="546.8" cy="552.4" r="5.6"/><circle cx="629.9" cy="408.8" r="5.6"/><circle cx="678.3" cy="361.9" r="5.6"/><circle cx="643.1" cy="408.3" r="5.6"/><circle cx="585.0" cy="487.3" r="5.6"/><circle cx="571.1" cy="479.6" r="5.6"/><circle cx="581.9" cy="512.0" r="5.6"/><circle cx="679.5" cy="366.8" r="5.6"/><circle cx="636.1" cy="430.7" r="5.6"/><circle cx="638.4" cy="421.3" r="5.6"/><circle cx="662.3" cy="428.8" r="5.6"/><circle cx="585.1" cy="469.8" r="5.6"/><circle cx="593.1" cy="506.5" r="5.6"/><circle cx="715.5" cy="375.7" r="5.6"/><circle cx="649.3" cy="403.1" r="5.6"/><circle cx="623.0" cy="436.8" r="5.6"/><circle cx="612.4" cy="487.5" r="5.6"/><circle cx="558.2" cy="511.0" r="5.6"/><circle cx="581.7" cy="507.7" r="5.6"/><circle cx="643.9" cy="430.9" r="5.6"/><circle cx="603.6" cy="458.8" r="5.6"/><circle cx="533.2" cy="505.0" r="5.6"/><circle cx="654.8" cy="424.9" r="5.6"/><circle cx="610.9" cy="473.5" r="5.6"/><circle cx="570.8" cy="485.9" r="5.6"/><circle cx="593.4" cy="475.6" r="5.6"/><circle cx="562.4" cy="491.6" r="5.6"/><circle cx="574.9" cy="516.5" r="5.6"/><circle cx="603.6" cy="466.0" r="5.6"/><circle cx="578.4" cy="465.0" r="5.6"/><circle cx="561.2" cy="519.3" r="5.6"/><circle cx="657.5" cy="438.3" r="5.6"/><circle cx="612.3" cy="437.9" r="5.6"/><circle cx="659.3" cy="421.0" r="5.6"/><circle cx="633.1" cy="417.9" r="5.6"/><circle cx="601.0" cy="486.9" r="5.6"/><circle cx="622.2" cy="460.6" r="5.6"/><circle cx="550.5" cy="499.1" r="5.6"/><circle cx="598.4" cy="478.3" r="5.6"/><circle cx="576.5" cy="525.7" r="5.6"/><circle cx="506.9" cy="593.6" r="5.6"/><circle cx="559.7" cy="517.8" r="5.6"/><circle cx="619.4" cy="471.1" r="5.6"/><circle cx="600.8" cy="481.1" r="5.6"/><circle cx="637.5" cy="426.2" r="5.6"/><circle cx="683.6" cy="372.4" r="5.6"/><circle cx="587.5" cy="466.0" r="5.6"/><circle cx="549.1" cy="537.4" r="5.6"/><circle cx="587.5" cy="489.4" r="5.6"/><circle cx="615.2" cy="463.7" r="5.6"/><circle cx="630.7" cy="451.0" r="5.6"/><circle cx="511.2" cy="589.3" r="5.6"/><circle cx="599.8" cy="476.8" r="5.6"/><circle cx="600.4" cy="439.0" r="5.6"/><circle cx="615.6" cy="477.2" r="5.6"/><circle cx="627.2" cy="462.0" r="5.6"/><circle cx="582.9" cy="485.6" r="5.6"/><circle cx="521.8" cy="546.6" r="5.6"/><circle cx="686.7" cy="409.5" r="5.6"/><circle cx="578.9" cy="469.1" r="5.6"/><circle cx="621.3" cy="427.0" r="5.6"/><circle cx="554.5" cy="514.3" r="5.6"/><circle cx="565.0" cy="481.9" r="5.6"/><circle cx="577.7" cy="511.0" r="5.6"/><circle cx="606.3" cy="451.0" r="5.6"/><circle cx="573.0" cy="538.8" r="5.6"/><circle cx="573.7" cy="504.6" r="5.6"/><circle cx="581.1" cy="501.7" r="5.6"/><circle cx="620.9" cy="469.9" r="5.6"/><circle cx="575.1" cy="487.7" r="5.6"/><circle cx="679.1" cy="392.4" r="5.6"/><circle cx="641.8" cy="396.5" r="5.6"/><circle cx="659.4" cy="400.8" r="5.6"/><circle cx="606.2" cy="503.7" r="5.6"/><circle cx="528.6" cy="545.2" r="5.6"/><circle cx="615.8" cy="472.8" r="5.6"/><circle cx="555.1" cy="517.7" r="5.6"/><circle cx="611.8" cy="437.2" r="5.6"/><circle cx="593.0" cy="469.2" r="5.6"/><circle cx="561.4" cy="503.0" r="5.6"/><circle cx="640.4" cy="422.1" r="5.6"/><circle cx="684.2" cy="384.1" r="5.6"/><circle cx="661.9" cy="402.2" r="5.6"/><circle cx="652.7" cy="410.7" r="5.6"/><circle cx="605.3" cy="476.6" r="5.6"/><circle cx="554.4" cy="523.4" r="5.6"/><circle cx="542.7" cy="543.4" r="5.6"/><circle cx="686.2" cy="384.5" r="5.6"/><circle cx="581.1" cy="491.0" r="5.6"/><circle cx="603.1" cy="455.2" r="5.6"/><circle cx="613.3" cy="445.2" r="5.6"/><circle cx="715.2" cy="324.1" r="5.6"/><circle cx="552.5" cy="513.7" r="5.6"/><circle cx="612.8" cy="466.6" r="5.6"/><circle cx="550.8" cy="568.9" r="5.6"/><circle cx="563.3" cy="486.4" r="5.6"/><circle cx="616.3" cy="469.2" r="5.6"/><circle cx="591.4" cy="465.7" r="5.6"/><circle cx="676.6" cy="373.9" r="5.6"/><circle cx="555.2" cy="526.7" r="5.6"/><circle cx="658.9" cy="394.5" r="5.6"/><circle cx="564.5" cy="544.8" r="5.6"/><circle cx="610.3" cy="443.7" r="5.6"/><circle cx="567.1" cy="501.1" r="5.6"/><circle cx="584.1" cy="505.3" r="5.6"/><circle cx="626.7" cy="426.0" r="5.6"/><circle cx="588.6" cy="463.5" r="5.6"/><circle cx="679.5" cy="361.7" r="5.6"/><circle cx="547.9" cy="534.6" r="5.6"/><circle cx="595.1" cy="447.5" r="5.6"/><circle cx="543.9" cy="558.7" r="5.6"/><circle cx="575.5" cy="487.7" r="5.6"/><circle cx="582.9" cy="484.7" r="5.6"/><circle cx="529.3" cy="548.2" r="5.6"/><circle cx="615.0" cy="438.9" r="5.6"/><circle cx="612.8" cy="437.5" r="5.6"/><circle cx="560.3" cy="532.7" r="5.6"/><circle cx="609.5" cy="454.5" r="5.6"/><circle cx="582.9" cy="497.0" r="5.6"/><circle cx="610.0" cy="443.4" r="5.6"/><circle cx="651.0" cy="426.4" r="5.6"/><circle cx="629.2" cy="412.7" r="5.6"/><circle cx="560.1" cy="531.1" r="5.6"/><circle cx="654.1" cy="388.1" r="5.6"/><circle cx="619.2" cy="421.0" r="5.6"/><circle cx="569.1" cy="496.8" r="5.6"/><circle cx="703.0" cy="364.6" r="5.6"/><circle cx="597.4" cy="499.5" r="5.6"/><circle cx="673.5" cy="387.1" r="5.6"/><circle cx="603.0" cy="468.6" r="5.6"/><circle cx="622.5" cy="457.2" r="5.6"/><circle cx="742.2" cy="322.2" r="5.6"/><circle cx="574.9" cy="475.2" r="5.6"/><circle cx="557.4" cy="514.7" r="5.6"/><circle cx="622.1" cy="434.6" r="5.6"/><circle cx="539.7" cy="529.3" r="5.6"/><circle cx="670.8" cy="375.4" r="5.6"/><circle cx="587.9" cy="502.6" r="5.6"/><circle cx="612.5" cy="455.3" r="5.6"/><circle cx="605.0" cy="502.6" r="5.6"/><circle cx="642.6" cy="416.4" r="5.6"/><circle cx="606.4" cy="453.5" r="5.6"/><circle cx="541.8" cy="495.8" r="5.6"/><circle cx="642.0" cy="441.8" r="5.6"/><circle cx="582.3" cy="495.5" r="5.6"/><circle cx="628.2" cy="457.9" r="5.6"/><circle cx="597.2" cy="446.5" r="5.6"/><circle cx="611.9" cy="416.2" r="5.6"/><circle cx="594.6" cy="487.2" r="5.6"/><circle cx="591.1" cy="479.4" r="5.6"/><circle cx="595.4" cy="477.7" r="5.6"/><circle cx="568.5" cy="511.3" r="5.6"/><circle cx="659.8" cy="394.3" r="5.6"/><circle cx="554.2" cy="505.5" r="5.6"/><circle cx="624.1" cy="442.6" r="5.6"/><circle cx="649.0" cy="402.8" r="5.6"/><circle cx="598.4" cy="454.2" r="5.6"/><circle cx="590.3" cy="503.9" r="5.6"/><circle cx="600.7" cy="443.2" r="5.6"/><circle cx="594.9" cy="503.0" r="5.6"/><circle cx="689.8" cy="361.9" r="5.6"/><circle cx="590.7" cy="486.8" r="5.6"/><circle cx="637.8" cy="417.3" r="5.6"/><circle cx="650.5" cy="435.6" r="5.6"/><circle cx="628.7" cy="427.0" r="5.6"/><circle cx="564.5" cy="483.1" r="5.6"/><circle cx="658.6" cy="386.4" r="5.6"/><circle cx="601.4" cy="479.5" r="5.6"/><circle cx="654.7" cy="414.6" r="5.6"/><circle cx="634.2" cy="444.8" r="5.6"/><circle cx="549.3" cy="513.2" r="5.6"/><circle cx="518.2" cy="545.6" r="5.6"/><circle cx="609.9" cy="484.7" r="5.6"/><circle cx="621.2" cy="429.2" r="5.6"/><circle cx="613.2" cy="441.5" r="5.6"/><circle cx="610.6" cy="470.2" r="5.6"/><circle cx="672.2" cy="401.2" r="5.6"/><circle cx="659.9" cy="418.7" r="5.6"/><circle cx="652.6" cy="436.9" r="5.6"/><circle cx="518.2" cy="540.4" r="5.6"/><circle cx="649.7" cy="420.5" r="5.6"/><circle cx="629.1" cy="442.0" r="5.6"/><circle cx="715.8" cy="335.6" r="5.6"/><circle cx="568.8" cy="495.9" r="5.6"/><circle cx="632.1" cy="419.8" r="5.6"/><circle cx="607.0" cy="467.0" r="5.6"/><circle cx="620.7" cy="422.2" r="5.6"/><circle cx="625.5" cy="477.7" r="5.6"/><circle cx="556.9" cy="524.2" r="5.6"/><circle cx="551.8" cy="501.6" r="5.6"/><circle cx="596.9" cy="466.6" r="5.6"/><circle cx="648.2" cy="427.7" r="5.6"/><circle cx="649.7" cy="426.4" r="5.6"/><circle cx="619.8" cy="461.5" r="5.6"/><circle cx="650.4" cy="405.9" r="5.6"/><circle cx="614.8" cy="457.0" r="5.6"/><circle cx="578.4" cy="510.4" r="5.6"/><circle cx="652.0" cy="409.6" r="5.6"/><circle cx="614.6" cy="439.1" r="5.6"/><circle cx="590.9" cy="463.2" r="5.6"/><circle cx="648.8" cy="402.6" r="5.6"/><circle cx="565.8" cy="484.1" r="5.6"/><circle cx="630.2" cy="438.4" r="5.6"/><circle cx="602.1" cy="471.3" r="5.6"/><circle cx="647.5" cy="397.3" r="5.6"/><circle cx="533.9" cy="495.9" r="5.6"/><circle cx="667.2" cy="405.7" r="5.6"/><circle cx="614.8" cy="440.5" r="5.6"/><circle cx="655.7" cy="443.5" r="5.6"/><circle cx="632.5" cy="457.5" r="5.6"/><circle cx="696.2" cy="384.9" r="5.6"/><circle cx="670.3" cy="413.3" r="5.6"/><circle cx="665.6" cy="367.7" r="5.6"/><circle cx="637.2" cy="439.1" r="5.6"/><circle cx="625.1" cy="431.5" r="5.6"/><circle cx="669.2" cy="394.6" r="5.6"/><circle cx="586.7" cy="453.1" r="5.6"/><circle cx="611.3" cy="478.1" r="5.6"/><circle cx="600.8" cy="441.0" r="5.6"/><circle cx="542.6" cy="539.1" r="5.6"/><circle cx="693.7" cy="387.0" r="5.6"/><circle cx="570.8" cy="490.6" r="5.6"/><circle cx="619.2" cy="423.9" r="5.6"/><circle cx="567.3" cy="506.0" r="5.6"/><circle cx="644.8" cy="402.2" r="5.6"/><circle cx="635.7" cy="427.8" r="5.6"/><circle cx="587.0" cy="492.0" r="5.6"/><circle cx="592.9" cy="485.3" r="5.6"/><circle cx="549.0" cy="522.1" r="5.6"/><circle cx="600.9" cy="437.8" r="5.6"/><circle cx="630.6" cy="429.3" r="5.6"/><circle cx="668.9" cy="410.8" r="5.6"/><circle cx="649.7" cy="433.3" r="5.6"/><circle cx="690.4" cy="382.6" r="5.6"/><circle cx="689.6" cy="370.6" r="5.6"/><circle cx="588.3" cy="517.5" r="5.6"/><circle cx="667.9" cy="388.5" r="5.6"/><circle cx="640.0" cy="419.1" r="5.6"/><circle cx="595.8" cy="442.9" r="5.6"/><circle cx="658.5" cy="440.9" r="5.6"/><circle cx="553.5" cy="489.5" r="5.6"/><circle cx="651.6" cy="430.5" r="5.6"/><circle cx="603.9" cy="490.6" r="5.6"/><circle cx="640.7" cy="416.5" r="5.6"/><circle cx="658.0" cy="407.6" r="5.6"/><circle cx="656.3" cy="444.8" r="5.6"/><circle cx="655.2" cy="455.8" r="5.6"/><circle cx="690.6" cy="403.6" r="5.6"/><circle cx="579.3" cy="495.2" r="5.6"/><circle cx="584.9" cy="459.4" r="5.6"/><circle cx="670.9" cy="387.2" r="5.6"/><circle cx="645.1" cy="430.9" r="5.6"/><circle cx="660.4" cy="419.7" r="5.6"/><circle cx="582.5" cy="480.5" r="5.6"/><circle cx="612.6" cy="471.4" r="5.6"/><circle cx="613.6" cy="463.5" r="5.6"/><circle cx="581.7" cy="470.6" r="5.6"/><circle cx="643.5" cy="438.9" r="5.6"/><circle cx="561.7" cy="483.3" r="5.6"/><circle cx="588.5" cy="483.1" r="5.6"/><circle cx="596.2" cy="443.2" r="5.6"/><circle cx="607.7" cy="448.4" r="5.6"/><circle cx="537.7" cy="515.2" r="5.6"/><circle cx="651.5" cy="422.9" r="5.6"/><circle cx="517.0" cy="565.7" r="5.6"/><circle cx="503.4" cy="577.7" r="5.6"/><circle cx="504.1" cy="549.6" r="5.6"/><circle cx="606.0" cy="459.2" r="5.6"/><circle cx="718.1" cy="336.7" r="5.6"/><circle cx="670.3" cy="391.1" r="5.6"/><circle cx="558.8" cy="504.2" r="5.6"/><circle cx="602.4" cy="480.6" r="5.6"/><circle cx="641.7" cy="445.5" r="5.6"/><circle cx="675.1" cy="396.9" r="5.6"/><circle cx="723.2" cy="354.6" r="5.6"/><circle cx="627.6" cy="430.0" r="5.6"/><circle cx="590.7" cy="477.0" r="5.6"/><circle cx="576.9" cy="498.3" r="5.6"/><circle cx="628.4" cy="472.7" r="5.6"/><circle cx="513.7" cy="570.3" r="5.6"/><circle cx="631.9" cy="395.3" r="5.6"/><circle cx="669.3" cy="392.0" r="5.6"/><circle cx="691.8" cy="378.3" r="5.6"/><circle cx="565.8" cy="496.1" r="5.6"/><circle cx="656.8" cy="421.1" r="5.6"/><circle cx="578.4" cy="486.2" r="5.6"/><circle cx="644.2" cy="449.8" r="5.6"/><circle cx="693.3" cy="371.6" r="5.6"/><circle cx="646.6" cy="399.3" r="5.6"/><circle cx="692.1" cy="371.7" r="5.6"/><circle cx="665.4" cy="428.8" r="5.6"/><circle cx="519.3" cy="531.0" r="5.6"/><circle cx="626.4" cy="435.1" r="5.6"/><circle cx="637.9" cy="428.7" r="5.6"/><circle cx="578.6" cy="483.3" r="5.6"/><circle cx="575.5" cy="514.1" r="5.6"/><circle cx="603.6" cy="440.4" r="5.6"/><circle cx="570.6" cy="514.1" r="5.6"/><circle cx="563.9" cy="494.2" r="5.6"/><circle cx="631.1" cy="429.2" r="5.6"/><circle cx="618.7" cy="471.8" r="5.6"/><circle cx="609.8" cy="455.7" r="5.6"/><circle cx="586.9" cy="509.6" r="5.6"/><circle cx="654.1" cy="442.0" r="5.6"/><circle cx="613.5" cy="463.2" r="5.6"/><circle cx="602.6" cy="433.1" r="5.6"/><circle cx="671.6" cy="387.2" r="5.6"/><circle cx="517.8" cy="570.4" r="5.6"/><circle cx="630.5" cy="433.2" r="5.6"/><circle cx="590.4" cy="444.2" r="5.6"/><circle cx="641.8" cy="449.8" r="5.6"/><circle cx="617.0" cy="450.7" r="5.6"/><circle cx="646.7" cy="429.9" r="5.6"/><circle cx="588.9" cy="476.3" r="5.6"/><circle cx="526.0" cy="535.8" r="5.6"/><circle cx="673.3" cy="402.0" r="5.6"/><circle cx="580.3" cy="490.2" r="5.6"/><circle cx="602.4" cy="460.4" r="5.6"/><circle cx="545.6" cy="507.4" r="5.6"/><circle cx="615.0" cy="437.3" r="5.6"/><circle cx="555.1" cy="506.6" r="5.6"/><circle cx="666.1" cy="394.3" r="5.6"/><circle cx="546.2" cy="491.9" r="5.6"/><circle cx="612.2" cy="442.8" r="5.6"/><circle cx="623.4" cy="456.5" r="5.6"/><circle cx="651.2" cy="435.2" r="5.6"/><circle cx="657.9" cy="416.7" r="5.6"/><circle cx="634.2" cy="416.0" r="5.6"/><circle cx="649.7" cy="408.7" r="5.6"/><circle cx="609.9" cy="460.1" r="5.6"/><circle cx="641.9" cy="431.1" r="5.6"/><circle cx="660.0" cy="411.8" r="5.6"/><circle cx="631.3" cy="452.2" r="5.6"/><circle cx="543.0" cy="546.3" r="5.6"/><circle cx="743.2" cy="338.0" r="5.6"/><circle cx="656.3" cy="446.8" r="5.6"/><circle cx="582.2" cy="495.9" r="5.6"/><circle cx="588.9" cy="488.0" r="5.6"/><circle cx="592.8" cy="474.5" r="5.6"/><circle cx="595.0" cy="472.9" r="5.6"/><circle cx="699.0" cy="361.9" r="5.6"/><circle cx="616.6" cy="437.8" r="5.6"/><circle cx="553.7" cy="530.5" r="5.6"/><circle cx="542.6" cy="538.2" r="5.6"/><circle cx="596.4" cy="472.2" r="5.6"/><circle cx="612.7" cy="467.8" r="5.6"/><circle cx="665.1" cy="391.9" r="5.6"/><circle cx="607.2" cy="443.0" r="5.6"/><circle cx="632.5" cy="460.3" r="5.6"/><circle cx="738.5" cy="319.0" r="5.6"/><circle cx="746.8" cy="347.8" r="5.6"/><circle cx="590.9" cy="486.8" r="5.6"/><circle cx="630.2" cy="431.1" r="5.6"/><circle cx="563.7" cy="482.9" r="5.6"/><circle cx="643.4" cy="403.6" r="5.6"/><circle cx="593.2" cy="502.3" r="5.6"/><circle cx="545.1" cy="535.2" r="5.6"/><circle cx="657.1" cy="397.7" r="5.6"/><circle cx="637.3" cy="426.2" r="5.6"/><circle cx="586.5" cy="470.2" r="5.6"/><circle cx="605.6" cy="473.5" r="5.6"/><circle cx="603.7" cy="438.4" r="5.6"/><circle cx="602.3" cy="438.3" r="5.6"/><circle cx="623.7" cy="445.8" r="5.6"/><circle cx="541.1" cy="501.0" r="5.6"/><circle cx="663.6" cy="406.4" r="5.6"/><circle cx="612.7" cy="473.2" r="5.6"/><circle cx="531.6" cy="534.1" r="5.6"/><circle cx="605.4" cy="461.0" r="5.6"/><circle cx="596.1" cy="459.8" r="5.6"/><circle cx="576.2" cy="493.5" r="5.6"/><circle cx="620.3" cy="455.4" r="5.6"/><circle cx="628.2" cy="429.3" r="5.6"/><circle cx="628.1" cy="448.8" r="5.6"/><circle cx="591.4" cy="480.8" r="5.6"/><circle cx="659.4" cy="417.9" r="5.6"/><circle cx="667.3" cy="414.1" r="5.6"/><circle cx="534.9" cy="532.3" r="5.6"/><circle cx="574.5" cy="521.3" r="5.6"/><circle cx="729.6" cy="348.4" r="5.6"/><circle cx="572.5" cy="471.5" r="5.6"/><circle cx="571.2" cy="504.6" r="5.6"/><circle cx="563.8" cy="497.3" r="5.6"/><circle cx="535.8" cy="555.3" r="5.6"/><circle cx="615.5" cy="445.4" r="5.6"/><circle cx="605.3" cy="446.0" r="5.6"/><circle cx="643.0" cy="415.0" r="5.6"/><circle cx="639.6" cy="458.5" r="5.6"/><circle cx="626.6" cy="461.6" r="5.6"/><circle cx="567.3" cy="491.7" r="5.6"/><circle cx="633.7" cy="439.7" r="5.6"/><circle cx="715.5" cy="343.4" r="5.6"/><circle cx="588.3" cy="496.7" r="5.6"/><circle cx="613.1" cy="435.5" r="5.6"/><circle cx="643.2" cy="430.7" r="5.6"/><circle cx="619.1" cy="480.0" r="5.6"/><circle cx="568.1" cy="484.6" r="5.6"/><circle cx="619.0" cy="481.4" r="5.6"/><circle cx="575.4" cy="492.1" r="5.6"/><circle cx="645.3" cy="450.6" r="5.6"/><circle cx="590.1" cy="475.1" r="5.6"/><circle cx="675.3" cy="403.3" r="5.6"/><circle cx="657.0" cy="414.1" r="5.6"/><circle cx="639.5" cy="385.3" r="5.6"/><circle cx="569.0" cy="494.2" r="5.6"/><circle cx="627.0" cy="454.8" r="5.6"/><circle cx="651.8" cy="417.9" r="5.6"/><circle cx="524.8" cy="566.8" r="5.6"/><circle cx="683.0" cy="398.8" r="5.6"/><circle cx="587.6" cy="473.8" r="5.6"/><circle cx="613.5" cy="438.6" r="5.6"/><circle cx="511.8" cy="568.7" r="5.6"/><circle cx="526.2" cy="497.9" r="5.6"/><circle cx="583.0" cy="496.2" r="5.6"/><circle cx="626.8" cy="430.8" r="5.6"/><circle cx="622.6" cy="449.8" r="5.6"/><circle cx="566.0" cy="492.2" r="5.6"/><circle cx="572.6" cy="496.8" r="5.6"/><circle cx="615.5" cy="448.9" r="5.6"/><circle cx="567.3" cy="491.8" r="5.6"/><circle cx="608.7" cy="459.0" r="5.6"/><circle cx="675.5" cy="389.8" r="5.6"/><circle cx="664.8" cy="408.0" r="5.6"/><circle cx="693.5" cy="380.5" r="5.6"/><circle cx="604.9" cy="465.4" r="5.6"/><circle cx="631.8" cy="433.7" r="5.6"/><circle cx="580.0" cy="484.6" r="5.6"/><circle cx="668.9" cy="390.1" r="5.6"/><circle cx="732.4" cy="343.4" r="5.6"/><circle cx="569.5" cy="458.8" r="5.6"/><circle cx="577.9" cy="489.4" r="5.6"/><circle cx="687.7" cy="386.1" r="5.6"/><circle cx="662.3" cy="424.0" r="5.6"/><circle cx="585.4" cy="499.8" r="5.6"/><circle cx="563.0" cy="510.1" r="5.6"/><circle cx="519.1" cy="512.3" r="5.6"/><circle cx="664.7" cy="410.8" r="5.6"/><circle cx="541.8" cy="530.5" r="5.6"/><circle cx="640.8" cy="406.8" r="5.6"/><circle cx="586.6" cy="480.1" r="5.6"/><circle cx="648.9" cy="391.1" r="5.6"/><circle cx="626.9" cy="469.1" r="5.6"/><circle cx="686.1" cy="370.7" r="5.6"/><circle cx="565.1" cy="488.7" r="5.6"/><circle cx="622.7" cy="464.6" r="5.6"/><circle cx="568.9" cy="492.5" r="5.6"/><circle cx="663.1" cy="421.2" r="5.6"/><circle cx="591.0" cy="468.5" r="5.6"/><circle cx="619.5" cy="430.8" r="5.6"/><circle cx="522.6" cy="551.8" r="5.6"/><circle cx="631.4" cy="464.8" r="5.6"/><circle cx="576.1" cy="541.7" r="5.6"/><circle cx="538.0" cy="557.1" r="5.6"/><circle cx="525.0" cy="547.1" r="5.6"/><circle cx="627.8" cy="439.3" r="5.6"/><circle cx="591.1" cy="509.9" r="5.6"/><circle cx="632.0" cy="430.9" r="5.6"/><circle cx="696.9" cy="322.3" r="5.6"/><circle cx="659.6" cy="381.4" r="5.6"/><circle cx="568.8" cy="453.5" r="5.6"/><circle cx="681.5" cy="366.8" r="5.6"/><circle cx="578.8" cy="451.1" r="5.6"/><circle cx="573.9" cy="498.2" r="5.6"/><circle cx="524.4" cy="518.2" r="5.6"/><circle cx="595.3" cy="481.0" r="5.6"/><circle cx="597.0" cy="506.0" r="5.6"/><circle cx="630.3" cy="439.3" r="5.6"/><circle cx="531.8" cy="540.3" r="5.6"/><circle cx="516.5" cy="548.0" r="5.6"/><circle cx="610.7" cy="451.1" r="5.6"/><circle cx="641.9" cy="431.5" r="5.6"/><circle cx="613.2" cy="454.8" r="5.6"/><circle cx="630.9" cy="469.2" r="5.6"/><circle cx="689.3" cy="388.2" r="5.6"/><circle cx="627.3" cy="457.5" r="5.6"/><circle cx="583.7" cy="491.6" r="5.6"/><circle cx="575.5" cy="476.5" r="5.6"/><circle cx="620.5" cy="470.9" r="5.6"/><circle cx="620.2" cy="429.5" r="5.6"/><circle cx="593.6" cy="456.5" r="5.6"/><circle cx="598.8" cy="503.4" r="5.6"/><circle cx="569.9" cy="502.7" r="5.6"/><circle cx="601.7" cy="446.5" r="5.6"/><circle cx="629.3" cy="439.4" r="5.6"/><circle cx="695.9" cy="379.3" r="5.6"/><circle cx="631.2" cy="453.3" r="5.6"/><circle cx="528.4" cy="555.4" r="5.6"/><circle cx="512.8" cy="542.1" r="5.6"/><circle cx="570.3" cy="495.9" r="5.6"/><circle cx="646.0" cy="419.1" r="5.6"/><circle cx="646.3" cy="424.0" r="5.6"/><circle cx="596.0" cy="491.1" r="5.6"/><circle cx="587.4" cy="448.2" r="5.6"/><circle cx="683.6" cy="395.9" r="5.6"/><circle cx="607.9" cy="442.1" r="5.6"/><circle cx="630.4" cy="441.6" r="5.6"/><circle cx="648.5" cy="392.8" r="5.6"/><circle cx="652.5" cy="415.5" r="5.6"/><circle cx="614.3" cy="479.9" r="5.6"/><circle cx="614.7" cy="452.7" r="5.6"/><circle cx="555.0" cy="514.1" r="5.6"/><circle cx="564.6" cy="475.9" r="5.6"/><circle cx="647.6" cy="450.1" r="5.6"/><circle cx="608.7" cy="486.4" r="5.6"/><circle cx="665.9" cy="428.2" r="5.6"/><circle cx="535.7" cy="512.5" r="5.6"/><circle cx="593.1" cy="497.2" r="5.6"/><circle cx="629.5" cy="428.6" r="5.6"/><circle cx="500.2" cy="562.7" r="5.6"/><circle cx="601.3" cy="506.4" r="5.6"/><circle cx="640.9" cy="420.5" r="5.6"/><circle cx="648.5" cy="407.8" r="5.6"/><circle cx="669.5" cy="434.1" r="5.6"/><circle cx="638.3" cy="455.0" r="5.6"/><circle cx="527.5" cy="537.9" r="5.6"/><circle cx="513.0" cy="560.1" r="5.6"/><circle cx="608.9" cy="469.3" r="5.6"/><circle cx="589.8" cy="481.2" r="5.6"/><circle cx="679.8" cy="383.9" r="5.6"/><circle cx="621.7" cy="471.7" r="5.6"/><circle cx="610.0" cy="482.7" r="5.6"/><circle cx="574.7" cy="471.7" r="5.6"/><circle cx="554.5" cy="507.2" r="5.6"/><circle cx="594.8" cy="503.2" r="5.6"/><circle cx="609.4" cy="407.9" r="5.6"/><circle cx="625.5" cy="431.8" r="5.6"/><circle cx="679.3" cy="416.4" r="5.6"/><circle cx="633.1" cy="463.4" r="5.6"/><circle cx="614.8" cy="443.9" r="5.6"/><circle cx="626.0" cy="416.8" r="5.6"/><circle cx="642.0" cy="438.8" r="5.6"/><circle cx="705.6" cy="371.1" r="5.6"/><circle cx="556.4" cy="517.8" r="5.6"/><circle cx="605.4" cy="505.2" r="5.6"/><circle cx="649.9" cy="405.7" r="5.6"/><circle cx="615.3" cy="436.7" r="5.6"/><circle cx="709.8" cy="339.6" r="5.6"/><circle cx="652.1" cy="427.0" r="5.6"/><circle cx="604.3" cy="482.9" r="5.6"/><circle cx="545.7" cy="515.3" r="5.6"/><circle cx="607.6" cy="428.8" r="5.6"/><circle cx="593.8" cy="475.5" r="5.6"/><circle cx="628.3" cy="436.2" r="5.6"/><circle cx="570.5" cy="494.8" r="5.6"/><circle cx="633.5" cy="471.2" r="5.6"/><circle cx="634.8" cy="423.3" r="5.6"/><circle cx="630.2" cy="419.8" r="5.6"/><circle cx="563.5" cy="521.0" r="5.6"/><circle cx="663.1" cy="443.9" r="5.6"/><circle cx="579.6" cy="495.8" r="5.6"/><circle cx="555.4" cy="500.5" r="5.6"/><circle cx="623.4" cy="426.5" r="5.6"/><circle cx="575.1" cy="514.5" r="5.6"/><circle cx="638.6" cy="419.3" r="5.6"/><circle cx="636.5" cy="442.8" r="5.6"/><circle cx="639.8" cy="443.7" r="5.6"/><circle cx="517.2" cy="578.4" r="5.6"/><circle cx="655.9" cy="387.5" r="5.6"/><circle cx="565.9" cy="512.6" r="5.6"/><circle cx="615.5" cy="457.8" r="5.6"/><circle cx="618.9" cy="483.3" r="5.6"/><circle cx="564.2" cy="487.8" r="5.6"/><circle cx="542.8" cy="520.5" r="5.6"/><circle cx="653.1" cy="420.4" r="5.6"/><circle cx="616.9" cy="434.5" r="5.6"/><circle cx="686.0" cy="393.1" r="5.6"/><circle cx="694.7" cy="378.7" r="5.6"/><circle cx="581.4" cy="501.3" r="5.6"/><circle cx="591.1" cy="486.8" r="5.6"/><circle cx="596.5" cy="464.1" r="5.6"/><circle cx="688.0" cy="395.6" r="5.6"/><circle cx="614.8" cy="405.9" r="5.6"/><circle cx="651.1" cy="423.4" r="5.6"/><circle cx="566.0" cy="535.9" r="5.6"/><circle cx="624.3" cy="436.9" r="5.6"/><circle cx="641.6" cy="439.5" r="5.6"/><circle cx="494.0" cy="575.7" r="5.6"/><circle cx="549.7" cy="508.6" r="5.6"/><circle cx="659.1" cy="402.7" r="5.6"/><circle cx="595.0" cy="511.7" r="5.6"/><circle cx="497.0" cy="531.2" r="5.6"/><circle cx="511.8" cy="542.0" r="5.6"/><circle cx="590.5" cy="475.3" r="5.6"/><circle cx="672.9" cy="407.5" r="5.6"/><circle cx="578.0" cy="506.2" r="5.6"/><circle cx="609.1" cy="442.3" r="5.6"/><circle cx="587.7" cy="488.4" r="5.6"/><circle cx="579.1" cy="506.8" r="5.6"/><circle cx="667.6" cy="419.5" r="5.6"/><circle cx="613.8" cy="470.4" r="5.6"/><circle cx="540.0" cy="535.4" r="5.6"/><circle cx="661.5" cy="394.0" r="5.6"/><circle cx="642.9" cy="428.0" r="5.6"/><circle cx="614.5" cy="469.2" r="5.6"/><circle cx="610.8" cy="465.7" r="5.6"/><circle cx="614.0" cy="481.2" r="5.6"/><circle cx="631.1" cy="463.7" r="5.6"/><circle cx="604.8" cy="501.2" r="5.6"/><circle cx="631.0" cy="453.2" r="5.6"/><circle cx="609.2" cy="460.1" r="5.6"/><circle cx="642.4" cy="425.8" r="5.6"/><circle cx="633.0" cy="430.3" r="5.6"/><circle cx="635.6" cy="415.4" r="5.6"/><circle cx="635.4" cy="453.0" r="5.6"/><circle cx="620.4" cy="434.7" r="5.6"/><circle cx="711.2" cy="327.8" r="5.6"/><circle cx="604.0" cy="439.8" r="5.6"/><circle cx="608.9" cy="452.5" r="5.6"/><circle cx="644.1" cy="402.4" r="5.6"/><circle cx="607.6" cy="429.6" r="5.6"/><circle cx="590.4" cy="486.3" r="5.6"/><circle cx="655.6" cy="415.1" r="5.6"/><circle cx="620.7" cy="453.4" r="5.6"/><circle cx="533.2" cy="568.4" r="5.6"/><circle cx="655.9" cy="431.8" r="5.6"/><circle cx="580.1" cy="471.5" r="5.6"/><circle cx="610.7" cy="455.8" r="5.6"/><circle cx="600.0" cy="471.2" r="5.6"/><circle cx="677.6" cy="405.9" r="5.6"/><circle cx="580.3" cy="506.1" r="5.6"/><circle cx="605.6" cy="423.4" r="5.6"/><circle cx="652.6" cy="414.9" r="5.6"/><circle cx="568.7" cy="506.4" r="5.6"/><circle cx="636.6" cy="417.5" r="5.6"/><circle cx="556.5" cy="493.0" r="5.6"/><circle cx="634.5" cy="454.7" r="5.6"/><circle cx="560.7" cy="539.0" r="5.6"/><circle cx="639.2" cy="432.8" r="5.6"/><circle cx="648.6" cy="416.3" r="5.6"/><circle cx="547.4" cy="510.4" r="5.6"/><circle cx="624.3" cy="445.5" r="5.6"/><circle cx="685.9" cy="401.3" r="5.6"/><circle cx="622.0" cy="438.1" r="5.6"/><circle cx="560.7" cy="502.9" r="5.6"/><circle cx="584.8" cy="475.9" r="5.6"/><circle cx="651.7" cy="433.1" r="5.6"/><circle cx="559.9" cy="492.2" r="5.6"/><circle cx="622.6" cy="461.8" r="5.6"/><circle cx="567.1" cy="485.6" r="5.6"/><circle cx="669.9" cy="405.0" r="5.6"/><circle cx="600.4" cy="464.4" r="5.6"/><circle cx="603.6" cy="477.1" r="5.6"/><circle cx="526.4" cy="531.3" r="5.6"/><circle cx="568.9" cy="479.6" r="5.6"/><circle cx="647.6" cy="448.0" r="5.6"/><circle cx="633.0" cy="428.7" r="5.6"/><circle cx="652.2" cy="437.9" r="5.6"/><circle cx="620.1" cy="440.7" r="5.6"/><circle cx="583.3" cy="495.4" r="5.6"/><circle cx="611.3" cy="479.7" r="5.6"/><circle cx="637.7" cy="440.1" r="5.6"/><circle cx="583.6" cy="484.9" r="5.6"/><circle cx="622.1" cy="435.5" r="5.6"/><circle cx="634.8" cy="458.9" r="5.6"/><circle cx="613.8" cy="470.5" r="5.6"/><circle cx="617.8" cy="419.7" r="5.6"/><circle cx="594.6" cy="477.9" r="5.6"/><circle cx="568.6" cy="487.0" r="5.6"/><circle cx="698.5" cy="397.0" r="5.6"/><circle cx="586.2" cy="446.7" r="5.6"/><circle cx="619.5" cy="470.0" r="5.6"/><circle cx="564.8" cy="516.8" r="5.6"/><circle cx="680.0" cy="373.8" r="5.6"/><circle cx="668.5" cy="376.9" r="5.6"/><circle cx="647.0" cy="428.9" r="5.6"/><circle cx="596.5" cy="455.6" r="5.6"/><circle cx="681.1" cy="400.2" r="5.6"/><circle cx="645.4" cy="418.2" r="5.6"/><circle cx="635.5" cy="430.5" r="5.6"/><circle cx="635.6" cy="444.8" r="5.6"/><circle cx="601.8" cy="474.1" r="5.6"/><circle cx="593.1" cy="474.6" r="5.6"/><circle cx="622.7" cy="468.4" r="5.6"/><circle cx="662.0" cy="430.2" r="5.6"/><circle cx="696.7" cy="355.7" r="5.6"/><circle cx="640.0" cy="407.0" r="5.6"/><circle cx="619.0" cy="446.8" r="5.6"/><circle cx="664.8" cy="402.0" r="5.6"/><circle cx="637.8" cy="428.4" r="5.6"/><circle cx="629.7" cy="430.0" r="5.6"/><circle cx="683.8" cy="406.7" r="5.6"/><circle cx="690.8" cy="392.4" r="5.6"/><circle cx="572.0" cy="483.6" r="5.6"/><circle cx="665.0" cy="406.8" r="5.6"/><circle cx="570.3" cy="486.7" r="5.6"/><circle cx="577.0" cy="461.1" r="5.6"/><circle cx="705.3" cy="398.8" r="5.6"/><circle cx="509.0" cy="569.7" r="5.6"/><circle cx="626.9" cy="474.8" r="5.6"/><circle cx="529.9" cy="537.6" r="5.6"/><circle cx="559.0" cy="487.2" r="5.6"/><circle cx="664.4" cy="413.0" r="5.6"/><circle cx="670.7" cy="402.5" r="5.6"/><circle cx="594.2" cy="465.3" r="5.6"/><circle cx="613.2" cy="481.6" r="5.6"/><circle cx="688.9" cy="367.8" r="5.6"/><circle cx="676.1" cy="410.8" r="5.6"/><circle cx="646.2" cy="454.7" r="5.6"/><circle cx="608.9" cy="455.6" r="5.6"/><circle cx="624.4" cy="410.7" r="5.6"/><circle cx="708.5" cy="380.2" r="5.6"/><circle cx="602.8" cy="459.1" r="5.6"/><circle cx="604.7" cy="485.7" r="5.6"/><circle cx="597.2" cy="445.0" r="5.6"/><circle cx="637.9" cy="444.1" r="5.6"/><circle cx="563.6" cy="489.8" r="5.6"/><circle cx="688.4" cy="381.3" r="5.6"/><circle cx="587.5" cy="482.2" r="5.6"/><circle cx="601.8" cy="454.1" r="5.6"/><circle cx="531.0" cy="539.8" r="5.6"/><circle cx="590.2" cy="474.3" r="5.6"/><circle cx="580.7" cy="509.6" r="5.6"/><circle cx="605.3" cy="476.5" r="5.6"/><circle cx="597.1" cy="485.5" r="5.6"/><circle cx="605.0" cy="453.4" r="5.6"/><circle cx="615.5" cy="503.5" r="5.6"/><circle cx="581.4" cy="491.1" r="5.6"/><circle cx="649.0" cy="454.8" r="5.6"/><circle cx="513.7" cy="532.4" r="5.6"/><circle cx="625.0" cy="453.5" r="5.6"/><circle cx="613.2" cy="458.9" r="5.6"/><circle cx="641.0" cy="424.9" r="5.6"/><circle cx="643.3" cy="405.9" r="5.6"/><circle cx="535.7" cy="542.7" r="5.6"/><circle cx="595.6" cy="482.8" r="5.6"/><circle cx="668.4" cy="407.6" r="5.6"/><circle cx="643.3" cy="431.4" r="5.6"/><circle cx="529.0" cy="531.8" r="5.6"/><circle cx="600.0" cy="460.2" r="5.6"/><circle cx="599.6" cy="469.0" r="5.6"/><circle cx="607.8" cy="479.0" r="5.6"/><circle cx="590.6" cy="474.1" r="5.6"/><circle cx="611.5" cy="445.0" r="5.6"/><circle cx="544.2" cy="539.6" r="5.6"/><circle cx="658.6" cy="412.9" r="5.6"/><circle cx="587.8" cy="489.6" r="5.6"/><circle cx="699.7" cy="385.9" r="5.6"/><circle cx="588.7" cy="484.2" r="5.6"/><circle cx="540.4" cy="502.9" r="5.6"/><circle cx="582.4" cy="485.1" r="5.6"/><circle cx="573.8" cy="473.3" r="5.6"/><circle cx="649.8" cy="447.9" r="5.6"/><circle cx="541.8" cy="515.9" r="5.6"/><circle cx="577.6" cy="493.8" r="5.6"/><circle cx="608.8" cy="488.7" r="5.6"/><circle cx="667.0" cy="431.7" r="5.6"/><circle cx="629.6" cy="440.8" r="5.6"/><circle cx="618.6" cy="467.5" r="5.6"/><circle cx="613.1" cy="469.0" r="5.6"/><circle cx="620.5" cy="426.2" r="5.6"/><circle cx="642.2" cy="430.8" r="5.6"/><circle cx="687.5" cy="409.6" r="5.6"/><circle cx="638.8" cy="400.3" r="5.6"/><circle cx="715.9" cy="324.5" r="5.6"/><circle cx="710.3" cy="372.6" r="5.6"/><circle cx="580.8" cy="496.3" r="5.6"/><circle cx="572.8" cy="494.7" r="5.6"/><circle cx="704.6" cy="366.0" r="5.6"/><circle cx="569.6" cy="523.8" r="5.6"/><circle cx="572.5" cy="458.3" r="5.6"/><circle cx="691.0" cy="364.3" r="5.6"/><circle cx="569.3" cy="488.7" r="5.6"/><circle cx="644.2" cy="431.1" r="5.6"/><circle cx="644.1" cy="433.4" r="5.6"/><circle cx="613.2" cy="414.3" r="5.6"/><circle cx="669.3" cy="388.4" r="5.6"/><circle cx="539.2" cy="506.6" r="5.6"/><circle cx="589.3" cy="503.3" r="5.6"/><circle cx="681.4" cy="386.7" r="5.6"/><circle cx="621.5" cy="469.9" r="5.6"/><circle cx="618.6" cy="450.5" r="5.6"/><circle cx="592.2" cy="459.4" r="5.6"/><circle cx="689.0" cy="401.6" r="5.6"/><circle cx="683.5" cy="390.8" r="5.6"/><circle cx="557.5" cy="485.2" r="5.6"/><circle cx="650.1" cy="410.6" r="5.6"/><circle cx="697.1" cy="363.0" r="5.6"/><circle cx="615.4" cy="471.7" r="5.6"/><circle cx="632.0" cy="444.7" r="5.6"/><circle cx="666.1" cy="387.4" r="5.6"/><circle cx="581.4" cy="527.1" r="5.6"/><circle cx="659.3" cy="404.6" r="5.6"/><circle cx="627.8" cy="454.2" r="5.6"/><circle cx="677.3" cy="400.1" r="5.6"/><circle cx="620.0" cy="405.3" r="5.6"/><circle cx="653.6" cy="405.7" r="5.6"/><circle cx="559.8" cy="512.9" r="5.6"/><circle cx="693.3" cy="358.1" r="5.6"/><circle cx="572.8" cy="509.9" r="5.6"/><circle cx="593.4" cy="468.5" r="5.6"/><circle cx="683.5" cy="371.4" r="5.6"/><circle cx="698.8" cy="390.3" r="5.6"/><circle cx="587.8" cy="467.7" r="5.6"/><circle cx="604.7" cy="488.6" r="5.6"/><circle cx="675.2" cy="409.4" r="5.6"/><circle cx="591.8" cy="451.7" r="5.6"/><circle cx="708.1" cy="386.9" r="5.6"/><circle cx="621.7" cy="436.1" r="5.6"/><circle cx="568.7" cy="477.5" r="5.6"/><circle cx="625.5" cy="407.7" r="5.6"/><circle cx="675.6" cy="384.4" r="5.6"/><circle cx="533.6" cy="505.0" r="5.6"/><circle cx="627.3" cy="460.4" r="5.6"/><circle cx="557.2" cy="493.3" r="5.6"/><circle cx="631.3" cy="445.7" r="5.6"/><circle cx="583.5" cy="472.2" r="5.6"/><circle cx="604.5" cy="466.1" r="5.6"/><circle cx="595.2" cy="468.5" r="5.6"/><circle cx="605.0" cy="464.7" r="5.6"/><circle cx="578.8" cy="513.5" r="5.6"/><circle cx="552.1" cy="536.0" r="5.6"/><circle cx="563.8" cy="518.5" r="5.6"/><circle cx="661.5" cy="445.8" r="5.6"/><circle cx="649.7" cy="460.4" r="5.6"/><circle cx="621.5" cy="406.4" r="5.6"/><circle cx="544.9" cy="559.9" r="5.6"/><circle cx="623.9" cy="452.7" r="5.6"/><circle cx="667.1" cy="401.3" r="5.6"/><circle cx="608.9" cy="446.0" r="5.6"/><circle cx="622.6" cy="425.0" r="5.6"/><circle cx="592.5" cy="473.7" r="5.6"/><circle cx="608.3" cy="476.7" r="5.6"/><circle cx="702.3" cy="360.7" r="5.6"/><circle cx="695.0" cy="342.1" r="5.6"/><circle cx="632.4" cy="438.1" r="5.6"/><circle cx="701.7" cy="354.3" r="5.6"/><circle cx="548.2" cy="493.7" r="5.6"/><circle cx="571.1" cy="513.7" r="5.6"/><circle cx="551.6" cy="518.7" r="5.6"/><circle cx="502.6" cy="554.5" r="5.6"/><circle cx="734.7" cy="309.1" r="5.6"/><circle cx="598.2" cy="475.3" r="5.6"/><circle cx="618.4" cy="453.0" r="5.6"/><circle cx="678.9" cy="411.2" r="5.6"/><circle cx="635.1" cy="447.2" r="5.6"/><circle cx="535.9" cy="519.3" r="5.6"/><circle cx="570.0" cy="489.7" r="5.6"/><circle cx="661.1" cy="430.9" r="5.6"/><circle cx="623.1" cy="430.4" r="5.6"/><circle cx="569.2" cy="494.7" r="5.6"/><circle cx="629.7" cy="437.6" r="5.6"/><circle cx="585.6" cy="480.2" r="5.6"/><circle cx="599.7" cy="473.1" r="5.6"/><circle cx="679.2" cy="396.4" r="5.6"/><circle cx="583.7" cy="465.7" r="5.6"/><circle cx="673.8" cy="376.9" r="5.6"/><circle cx="579.7" cy="479.9" r="5.6"/><circle cx="637.9" cy="425.9" r="5.6"/><circle cx="582.1" cy="474.1" r="5.6"/><circle cx="602.8" cy="486.2" r="5.6"/><circle cx="589.8" cy="500.0" r="5.6"/><circle cx="558.3" cy="509.5" r="5.6"/><circle cx="657.0" cy="414.5" r="5.6"/><circle cx="652.0" cy="450.7" r="5.6"/><circle cx="660.7" cy="415.8" r="5.6"/><circle cx="681.6" cy="388.8" r="5.6"/><circle cx="613.4" cy="405.0" r="5.6"/><circle cx="655.8" cy="436.2" r="5.6"/><circle cx="633.6" cy="460.2" r="5.6"/><circle cx="617.5" cy="443.8" r="5.6"/><circle cx="596.6" cy="483.5" r="5.6"/><circle cx="558.9" cy="485.5" r="5.6"/><circle cx="716.8" cy="380.7" r="5.6"/><circle cx="602.2" cy="460.6" r="5.6"/><circle cx="638.6" cy="441.9" r="5.6"/><circle cx="582.4" cy="509.7" r="5.6"/><circle cx="605.3" cy="450.5" r="5.6"/><circle cx="497.7" cy="553.0" r="5.6"/><circle cx="547.3" cy="500.3" r="5.6"/><circle cx="736.5" cy="321.7" r="5.6"/><circle cx="563.4" cy="520.0" r="5.6"/><circle cx="543.2" cy="525.6" r="5.6"/><circle cx="534.7" cy="531.6" r="5.6"/><circle cx="669.1" cy="386.8" r="5.6"/><circle cx="637.1" cy="411.5" r="5.6"/><circle cx="604.5" cy="450.9" r="5.6"/><circle cx="666.6" cy="395.5" r="5.6"/><circle cx="587.8" cy="520.1" r="5.6"/><circle cx="628.7" cy="444.4" r="5.6"/><circle cx="579.4" cy="474.6" r="5.6"/><circle cx="709.5" cy="357.0" r="5.6"/><circle cx="677.9" cy="394.9" r="5.6"/><circle cx="545.6" cy="492.8" r="5.6"/><circle cx="519.6" cy="534.4" r="5.6"/><circle cx="716.7" cy="357.2" r="5.6"/><circle cx="570.9" cy="457.9" r="5.6"/><circle cx="585.4" cy="505.5" r="5.6"/><circle cx="698.8" cy="365.3" r="5.6"/><circle cx="583.4" cy="475.3" r="5.6"/><circle cx="702.3" cy="405.3" r="5.6"/><circle cx="636.3" cy="433.0" r="5.6"/><circle cx="643.6" cy="435.2" r="5.6"/><circle cx="676.4" cy="404.5" r="5.6"/><circle cx="640.0" cy="413.1" r="5.6"/><circle cx="541.5" cy="536.2" r="5.6"/><circle cx="654.0" cy="416.1" r="5.6"/><circle cx="700.4" cy="375.7" r="5.6"/><circle cx="597.3" cy="505.4" r="5.6"/><circle cx="682.5" cy="353.5" r="5.6"/><circle cx="548.8" cy="517.2" r="5.6"/><circle cx="562.8" cy="485.9" r="5.6"/><circle cx="700.6" cy="354.2" r="5.6"/><circle cx="595.1" cy="464.1" r="5.6"/><circle cx="595.1" cy="427.8" r="5.6"/><circle cx="620.8" cy="446.7" r="5.6"/><circle cx="567.4" cy="498.2" r="5.6"/><circle cx="653.6" cy="412.5" r="5.6"/><circle cx="676.6" cy="413.2" r="5.6"/><circle cx="619.3" cy="454.9" r="5.6"/><circle cx="599.3" cy="462.6" r="5.6"/><circle cx="602.0" cy="491.2" r="5.6"/><circle cx="632.8" cy="421.5" r="5.6"/><circle cx="571.9" cy="497.9" r="5.6"/><circle cx="654.7" cy="433.7" r="5.6"/><circle cx="686.0" cy="402.4" r="5.6"/><circle cx="615.3" cy="440.8" r="5.6"/><circle cx="604.8" cy="469.6" r="5.6"/><circle cx="577.2" cy="460.0" r="5.6"/><circle cx="578.5" cy="515.9" r="5.6"/><circle cx="568.0" cy="512.7" r="5.6"/><circle cx="504.5" cy="558.7" r="5.6"/><circle cx="590.1" cy="488.2" r="5.6"/><circle cx="623.7" cy="440.4" r="5.6"/><circle cx="589.4" cy="476.4" r="5.6"/><circle cx="537.2" cy="484.5" r="5.6"/><circle cx="555.4" cy="484.6" r="5.6"/><circle cx="687.9" cy="379.1" r="5.6"/><circle cx="661.9" cy="411.2" r="5.6"/><circle cx="645.7" cy="419.7" r="5.6"/><circle cx="671.3" cy="408.4" r="5.6"/><circle cx="609.2" cy="453.2" r="5.6"/><circle cx="579.6" cy="494.9" r="5.6"/><circle cx="670.8" cy="386.9" r="5.6"/><circle cx="675.8" cy="401.3" r="5.6"/><circle cx="677.2" cy="409.9" r="5.6"/><circle cx="660.2" cy="396.8" r="5.6"/><circle cx="619.8" cy="459.4" r="5.6"/><circle cx="642.1" cy="417.4" r="5.6"/><circle cx="667.3" cy="387.6" r="5.6"/><circle cx="576.2" cy="488.8" r="5.6"/><circle cx="533.9" cy="535.7" r="5.6"/><circle cx="602.5" cy="478.9" r="5.6"/><circle cx="561.2" cy="521.0" r="5.6"/><circle cx="504.4" cy="552.2" r="5.6"/><circle cx="516.7" cy="593.8" r="5.6"/><circle cx="659.6" cy="414.9" r="5.6"/><circle cx="619.2" cy="426.6" r="5.6"/><circle cx="633.2" cy="416.4" r="5.6"/><circle cx="584.9" cy="467.1" r="5.6"/><circle cx="632.7" cy="402.5" r="5.6"/><circle cx="581.1" cy="477.8" r="5.6"/><circle cx="598.6" cy="463.0" r="5.6"/><circle cx="597.1" cy="482.8" r="5.6"/><circle cx="610.6" cy="436.0" r="5.6"/><circle cx="551.4" cy="529.5" r="5.6"/><circle cx="626.2" cy="437.2" r="5.6"/><circle cx="593.8" cy="453.3" r="5.6"/><circle cx="601.3" cy="454.3" r="5.6"/><circle cx="647.9" cy="394.7" r="5.6"/><circle cx="602.4" cy="468.0" r="5.6"/><circle cx="637.8" cy="472.1" r="5.6"/><circle cx="577.7" cy="497.6" r="5.6"/><circle cx="601.3" cy="463.1" r="5.6"/><circle cx="619.1" cy="449.6" r="5.6"/><circle cx="599.3" cy="482.7" r="5.6"/><circle cx="623.3" cy="452.7" r="5.6"/><circle cx="730.4" cy="350.8" r="5.6"/><circle cx="651.6" cy="401.3" r="5.6"/><circle cx="520.5" cy="569.9" r="5.6"/><circle cx="548.0" cy="535.9" r="5.6"/><circle cx="605.9" cy="492.4" r="5.6"/><circle cx="663.9" cy="416.2" r="5.6"/><circle cx="679.4" cy="399.1" r="5.6"/><circle cx="608.3" cy="428.0" r="5.6"/><circle cx="562.2" cy="511.2" r="5.6"/><circle cx="643.7" cy="409.2" r="5.6"/><circle cx="665.1" cy="379.2" r="5.6"/><circle cx="598.2" cy="507.5" r="5.6"/><circle cx="660.1" cy="430.4" r="5.6"/><circle cx="572.1" cy="524.2" r="5.6"/><circle cx="554.7" cy="507.5" r="5.6"/><circle cx="594.7" cy="471.4" r="5.6"/><circle cx="635.8" cy="467.6" r="5.6"/><circle cx="616.0" cy="494.0" r="5.6"/><circle cx="523.2" cy="536.7" r="5.6"/><circle cx="626.3" cy="454.0" r="5.6"/><circle cx="629.1" cy="460.7" r="5.6"/><circle cx="672.0" cy="408.8" r="5.6"/><circle cx="559.0" cy="511.7" r="5.6"/><circle cx="661.3" cy="402.6" r="5.6"/><circle cx="606.3" cy="414.3" r="5.6"/><circle cx="561.9" cy="529.8" r="5.6"/><circle cx="565.4" cy="505.1" r="5.6"/><circle cx="585.5" cy="448.0" r="5.6"/><circle cx="660.5" cy="393.5" r="5.6"/><circle cx="559.4" cy="491.7" r="5.6"/><circle cx="642.3" cy="442.5" r="5.6"/><circle cx="560.7" cy="502.4" r="5.6"/><circle cx="531.8" cy="557.0" r="5.6"/><circle cx="552.3" cy="503.4" r="5.6"/><circle cx="583.7" cy="492.6" r="5.6"/><circle cx="569.9" cy="494.7" r="5.6"/><circle cx="678.3" cy="395.7" r="5.6"/><circle cx="529.6" cy="534.8" r="5.6"/><circle cx="606.0" cy="438.0" r="5.6"/><circle cx="611.2" cy="449.1" r="5.6"/><circle cx="613.9" cy="438.0" r="5.6"/><circle cx="627.3" cy="393.0" r="5.6"/><circle cx="614.6" cy="450.0" r="5.6"/><circle cx="624.3" cy="436.3" r="5.6"/><circle cx="591.3" cy="483.1" r="5.6"/><circle cx="596.0" cy="482.5" r="5.6"/><circle cx="586.6" cy="528.9" r="5.6"/><circle cx="597.7" cy="459.4" r="5.6"/><circle cx="582.1" cy="472.3" r="5.6"/><circle cx="616.7" cy="449.4" r="5.6"/><circle cx="585.7" cy="479.9" r="5.6"/><circle cx="715.4" cy="354.5" r="5.6"/><circle cx="694.0" cy="395.3" r="5.6"/><circle cx="543.8" cy="479.4" r="5.6"/><circle cx="616.1" cy="461.9" r="5.6"/><circle cx="614.2" cy="462.1" r="5.6"/><circle cx="610.4" cy="474.5" r="5.6"/><circle cx="706.2" cy="373.4" r="5.6"/><circle cx="521.4" cy="519.3" r="5.6"/><circle cx="604.9" cy="447.4" r="5.6"/><circle cx="549.1" cy="543.0" r="5.6"/><circle cx="627.8" cy="438.4" r="5.6"/><circle cx="638.4" cy="427.2" r="5.6"/><circle cx="561.5" cy="536.7" r="5.6"/><circle cx="654.9" cy="421.7" r="5.6"/><circle cx="560.3" cy="501.9" r="5.6"/><circle cx="530.4" cy="554.9" r="5.6"/><circle cx="647.6" cy="426.8" r="5.6"/><circle cx="649.7" cy="428.1" r="5.6"/><circle cx="654.1" cy="399.5" r="5.6"/><circle cx="534.6" cy="531.6" r="5.6"/><circle cx="623.3" cy="426.5" r="5.6"/><circle cx="654.7" cy="411.9" r="5.6"/><circle cx="600.1" cy="466.8" r="5.6"/><circle cx="574.3" cy="465.6" r="5.6"/><circle cx="647.3" cy="437.1" r="5.6"/><circle cx="633.4" cy="423.2" r="5.6"/><circle cx="596.0" cy="469.5" r="5.6"/><circle cx="504.8" cy="591.6" r="5.6"/><circle cx="598.5" cy="463.8" r="5.6"/><circle cx="627.6" cy="428.3" r="5.6"/><circle cx="592.5" cy="476.5" r="5.6"/><circle cx="586.2" cy="458.1" r="5.6"/><circle cx="622.5" cy="476.9" r="5.6"/><circle cx="629.6" cy="432.5" r="5.6"/><circle cx="656.4" cy="407.4" r="5.6"/><circle cx="582.9" cy="463.0" r="5.6"/><circle cx="609.6" cy="473.3" r="5.6"/><circle cx="604.1" cy="484.1" r="5.6"/><circle cx="577.8" cy="491.2" r="5.6"/><circle cx="571.6" cy="524.7" r="5.6"/><circle cx="632.8" cy="435.7" r="5.6"/><circle cx="626.0" cy="423.2" r="5.6"/><circle cx="523.1" cy="522.1" r="5.6"/><circle cx="656.2" cy="410.7" r="5.6"/><circle cx="694.5" cy="394.0" r="5.6"/><circle cx="585.7" cy="502.7" r="5.6"/><circle cx="536.1" cy="509.4" r="5.6"/><circle cx="606.2" cy="449.4" r="5.6"/><circle cx="683.3" cy="392.1" r="5.6"/><circle cx="618.8" cy="455.6" r="5.6"/><circle cx="714.0" cy="376.6" r="5.6"/><circle cx="649.1" cy="431.8" r="5.6"/><circle cx="573.3" cy="516.7" r="5.6"/><circle cx="530.1" cy="492.8" r="5.6"/><circle cx="576.6" cy="501.5" r="5.6"/><circle cx="609.9" cy="455.3" r="5.6"/><circle cx="680.4" cy="424.3" r="5.6"/><circle cx="619.0" cy="430.1" r="5.6"/><circle cx="615.0" cy="462.3" r="5.6"/><circle cx="587.2" cy="505.5" r="5.6"/><circle cx="530.2" cy="549.6" r="5.6"/><circle cx="573.3" cy="486.9" r="5.6"/><circle cx="628.7" cy="430.7" r="5.6"/><circle cx="598.8" cy="487.8" r="5.6"/><circle cx="627.6" cy="457.2" r="5.6"/><circle cx="654.8" cy="420.3" r="5.6"/><circle cx="578.5" cy="501.7" r="5.6"/><circle cx="614.7" cy="457.2" r="5.6"/><circle cx="585.5" cy="482.4" r="5.6"/><circle cx="601.2" cy="470.5" r="5.6"/><circle cx="632.3" cy="493.3" r="5.6"/><circle cx="523.6" cy="546.9" r="5.6"/><circle cx="593.8" cy="470.7" r="5.6"/><circle cx="564.9" cy="533.3" r="5.6"/><circle cx="653.5" cy="425.3" r="5.6"/><circle cx="618.3" cy="484.0" r="5.6"/><circle cx="629.8" cy="452.0" r="5.6"/><circle cx="639.7" cy="442.4" r="5.6"/><circle cx="629.6" cy="405.6" r="5.6"/><circle cx="581.3" cy="462.0" r="5.6"/><circle cx="592.6" cy="483.9" r="5.6"/><circle cx="603.8" cy="472.7" r="5.6"/><circle cx="537.3" cy="535.0" r="5.6"/><circle cx="611.1" cy="461.7" r="5.6"/><circle cx="675.2" cy="353.3" r="5.6"/><circle cx="653.7" cy="380.6" r="5.6"/><circle cx="670.8" cy="436.7" r="5.6"/><circle cx="574.1" cy="497.5" r="5.6"/><circle cx="600.2" cy="508.2" r="5.6"/><circle cx="638.9" cy="407.4" r="5.6"/><circle cx="648.7" cy="440.4" r="5.6"/><circle cx="652.2" cy="418.6" r="5.6"/><circle cx="546.0" cy="542.7" r="5.6"/><circle cx="664.3" cy="407.5" r="5.6"/><circle cx="644.1" cy="425.0" r="5.6"/><circle cx="562.1" cy="502.8" r="5.6"/><circle cx="717.7" cy="348.8" r="5.6"/><circle cx="591.0" cy="491.2" r="5.6"/><circle cx="662.8" cy="417.1" r="5.6"/><circle cx="559.3" cy="489.0" r="5.6"/><circle cx="598.0" cy="476.3" r="5.6"/><circle cx="619.0" cy="481.3" r="5.6"/><circle cx="583.8" cy="479.2" r="5.6"/><circle cx="607.1" cy="484.6" r="5.6"/><circle cx="696.7" cy="384.8" r="5.6"/><circle cx="669.7" cy="364.5" r="5.6"/><circle cx="596.3" cy="443.4" r="5.6"/><circle cx="543.8" cy="525.1" r="5.6"/><circle cx="603.5" cy="481.7" r="5.6"/><circle cx="568.2" cy="465.2" r="5.6"/><circle cx="626.4" cy="494.7" r="5.6"/><circle cx="620.5" cy="476.5" r="5.6"/><circle cx="654.1" cy="426.2" r="5.6"/><circle cx="582.2" cy="476.3" r="5.6"/><circle cx="620.5" cy="494.8" r="5.6"/><circle cx="586.1" cy="492.2" r="5.6"/><circle cx="714.2" cy="365.8" r="5.6"/><circle cx="628.4" cy="412.3" r="5.6"/><circle cx="579.0" cy="513.8" r="5.6"/><circle cx="561.8" cy="472.1" r="5.6"/><circle cx="659.1" cy="416.0" r="5.6"/><circle cx="524.5" cy="535.1" r="5.6"/><circle cx="537.0" cy="531.3" r="5.6"/><circle cx="625.4" cy="437.7" r="5.6"/><circle cx="657.7" cy="434.8" r="5.6"/><circle cx="516.6" cy="530.2" r="5.6"/><circle cx="575.4" cy="475.8" r="5.6"/><circle cx="686.8" cy="379.1" r="5.6"/><circle cx="666.5" cy="374.6" r="5.6"/><circle cx="553.5" cy="536.4" r="5.6"/><circle cx="612.6" cy="473.0" r="5.6"/><circle cx="591.0" cy="451.5" r="5.6"/><circle cx="637.8" cy="429.3" r="5.6"/><circle cx="582.0" cy="507.6" r="5.6"/><circle cx="580.4" cy="462.4" r="5.6"/><circle cx="587.7" cy="500.2" r="5.6"/><circle cx="575.2" cy="461.7" r="5.6"/><circle cx="613.3" cy="438.6" r="5.6"/><circle cx="639.6" cy="429.0" r="5.6"/><circle cx="664.5" cy="385.2" r="5.6"/><circle cx="610.4" cy="475.5" r="5.6"/><circle cx="663.0" cy="417.4" r="5.6"/><circle cx="591.6" cy="459.9" r="5.6"/><circle cx="635.3" cy="443.0" r="5.6"/><circle cx="629.2" cy="423.5" r="5.6"/><circle cx="644.8" cy="412.7" r="5.6"/><circle cx="608.6" cy="468.5" r="5.6"/><circle cx="605.1" cy="507.9" r="5.6"/><circle cx="607.3" cy="464.1" r="5.6"/><circle cx="610.9" cy="437.4" r="5.6"/><circle cx="591.7" cy="500.6" r="5.6"/><circle cx="651.7" cy="402.0" r="5.6"/><circle cx="614.6" cy="461.1" r="5.6"/><circle cx="609.5" cy="480.4" r="5.6"/><circle cx="559.0" cy="511.7" r="5.6"/><circle cx="645.5" cy="455.9" r="5.6"/><circle cx="584.9" cy="470.7" r="5.6"/><circle cx="643.1" cy="385.9" r="5.6"/><circle cx="698.3" cy="360.9" r="5.6"/><circle cx="574.3" cy="493.7" r="5.6"/><circle cx="620.5" cy="465.4" r="5.6"/><circle cx="578.7" cy="497.8" r="5.6"/><circle cx="653.7" cy="400.0" r="5.6"/><circle cx="639.5" cy="419.3" r="5.6"/><circle cx="600.5" cy="469.3" r="5.6"/><circle cx="515.1" cy="534.9" r="5.6"/><circle cx="579.5" cy="466.8" r="5.6"/><circle cx="657.1" cy="434.9" r="5.6"/><circle cx="614.9" cy="446.3" r="5.6"/><circle cx="643.1" cy="453.5" r="5.6"/><circle cx="588.4" cy="485.2" r="5.6"/><circle cx="637.4" cy="421.0" r="5.6"/><circle cx="600.2" cy="442.2" r="5.6"/><circle cx="549.4" cy="522.1" r="5.6"/><circle cx="601.9" cy="478.2" r="5.6"/><circle cx="636.3" cy="442.1" r="5.6"/><circle cx="609.6" cy="448.2" r="5.6"/><circle cx="676.3" cy="397.5" r="5.6"/><circle cx="691.3" cy="387.9" r="5.6"/><circle cx="612.2" cy="440.1" r="5.6"/><circle cx="584.2" cy="497.9" r="5.6"/><circle cx="542.1" cy="493.0" r="5.6"/><circle cx="565.7" cy="501.8" r="5.6"/><circle cx="647.4" cy="453.4" r="5.6"/><circle cx="624.3" cy="425.7" r="5.6"/><circle cx="638.9" cy="419.7" r="5.6"/><circle cx="603.0" cy="465.4" r="5.6"/><circle cx="584.2" cy="480.5" r="5.6"/><circle cx="655.8" cy="412.5" r="5.6"/><circle cx="684.3" cy="409.8" r="5.6"/><circle cx="626.3" cy="475.6" r="5.6"/><circle cx="611.7" cy="460.4" r="5.6"/><circle cx="556.2" cy="503.0" r="5.6"/><circle cx="643.6" cy="449.4" r="5.6"/><circle cx="629.6" cy="434.7" r="5.6"/><circle cx="519.2" cy="549.3" r="5.6"/><circle cx="554.0" cy="538.2" r="5.6"/><circle cx="609.9" cy="479.2" r="5.6"/><circle cx="593.9" cy="490.9" r="5.6"/><circle cx="578.6" cy="517.8" r="5.6"/><circle cx="576.7" cy="494.4" r="5.6"/><circle cx="596.9" cy="498.4" r="5.6"/><circle cx="541.1" cy="510.8" r="5.6"/><circle cx="564.1" cy="509.3" r="5.6"/><circle cx="577.7" cy="492.6" r="5.6"/><circle cx="606.0" cy="426.1" r="5.6"/><circle cx="650.1" cy="438.5" r="5.6"/><circle cx="497.9" cy="557.5" r="5.6"/><circle cx="627.5" cy="466.8" r="5.6"/><circle cx="526.8" cy="547.1" r="5.6"/><circle cx="598.0" cy="493.2" r="5.6"/><circle cx="642.9" cy="441.0" r="5.6"/><circle cx="562.6" cy="487.5" r="5.6"/><circle cx="517.0" cy="563.6" r="5.6"/><circle cx="564.7" cy="530.9" r="5.6"/><circle cx="612.6" cy="467.1" r="5.6"/><circle cx="588.7" cy="482.0" r="5.6"/><circle cx="617.0" cy="451.2" r="5.6"/><circle cx="618.2" cy="450.6" r="5.6"/><circle cx="550.3" cy="565.9" r="5.6"/><circle cx="654.7" cy="416.3" r="5.6"/><circle cx="602.6" cy="416.9" r="5.6"/><circle cx="623.7" cy="449.6" r="5.6"/><circle cx="565.5" cy="509.1" r="5.6"/><circle cx="622.6" cy="437.6" r="5.6"/><circle cx="564.4" cy="546.1" r="5.6"/><circle cx="612.6" cy="473.4" r="5.6"/><circle cx="695.7" cy="355.9" r="5.6"/><circle cx="584.4" cy="477.7" r="5.6"/><circle cx="657.1" cy="427.6" r="5.6"/><circle cx="635.9" cy="442.5" r="5.6"/><circle cx="523.4" cy="561.8" r="5.6"/><circle cx="650.1" cy="406.6" r="5.6"/><circle cx="604.7" cy="443.5" r="5.6"/><circle cx="616.9" cy="481.9" r="5.6"/><circle cx="598.2" cy="452.2" r="5.6"/><circle cx="576.1" cy="501.4" r="5.6"/><circle cx="584.6" cy="471.5" r="5.6"/><circle cx="538.5" cy="506.8" r="5.6"/><circle cx="641.3" cy="428.5" r="5.6"/><circle cx="745.3" cy="306.4" r="5.6"/><circle cx="628.4" cy="444.1" r="5.6"/><circle cx="584.9" cy="469.4" r="5.6"/><circle cx="602.5" cy="476.4" r="5.6"/><circle cx="640.7" cy="422.1" r="5.6"/><circle cx="547.7" cy="511.9" r="5.6"/><circle cx="672.1" cy="408.5" r="5.6"/><circle cx="600.0" cy="489.1" r="5.6"/><circle cx="514.1" cy="570.3" r="5.6"/><circle cx="703.3" cy="348.9" r="5.6"/><circle cx="548.4" cy="528.4" r="5.6"/><circle cx="590.1" cy="477.3" r="5.6"/><circle cx="672.6" cy="356.9" r="5.6"/><circle cx="655.0" cy="442.2" r="5.6"/><circle cx="644.9" cy="444.5" r="5.6"/><circle cx="577.1" cy="499.1" r="5.6"/><circle cx="554.4" cy="513.3" r="5.6"/><circle cx="572.7" cy="502.5" r="5.6"/><circle cx="617.2" cy="417.7" r="5.6"/><circle cx="632.1" cy="450.5" r="5.6"/><circle cx="731.2" cy="356.0" r="5.6"/><circle cx="599.1" cy="463.9" r="5.6"/><circle cx="585.4" cy="487.9" r="5.6"/><circle cx="542.6" cy="529.2" r="5.6"/><circle cx="646.8" cy="426.1" r="5.6"/><circle cx="600.3" cy="475.1" r="5.6"/><circle cx="569.6" cy="484.5" r="5.6"/><circle cx="548.2" cy="549.9" r="5.6"/><circle cx="612.8" cy="411.7" r="5.6"/><circle cx="580.3" cy="466.9" r="5.6"/><circle cx="635.7" cy="424.5" r="5.6"/><circle cx="647.6" cy="396.6" r="5.6"/><circle cx="598.2" cy="482.3" r="5.6"/><circle cx="543.5" cy="523.4" r="5.6"/><circle cx="667.9" cy="379.8" r="5.6"/><circle cx="664.5" cy="401.4" r="5.6"/><circle cx="567.1" cy="498.8" r="5.6"/><circle cx="575.7" cy="477.2" r="5.6"/><circle cx="589.6" cy="485.2" r="5.6"/><circle cx="598.0" cy="493.9" r="5.6"/><circle cx="555.6" cy="539.2" r="5.6"/><circle cx="556.4" cy="513.4" r="5.6"/><circle cx="686.2" cy="377.3" r="5.6"/><circle cx="614.1" cy="481.8" r="5.6"/><circle cx="603.9" cy="455.4" r="5.6"/><circle cx="689.0" cy="363.4" r="5.6"/><circle cx="589.9" cy="448.3" r="5.6"/><circle cx="678.4" cy="396.4" r="5.6"/><circle cx="615.7" cy="482.9" r="5.6"/><circle cx="651.3" cy="429.6" r="5.6"/><circle cx="625.9" cy="474.7" r="5.6"/><circle cx="589.1" cy="500.2" r="5.6"/><circle cx="595.6" cy="494.2" r="5.6"/><circle cx="660.5" cy="380.2" r="5.6"/><circle cx="697.3" cy="390.1" r="5.6"/><circle cx="598.7" cy="468.8" r="5.6"/><circle cx="600.9" cy="457.5" r="5.6"/><circle cx="628.7" cy="459.9" r="5.6"/><circle cx="660.4" cy="420.0" r="5.6"/><circle cx="592.2" cy="513.9" r="5.6"/><circle cx="530.2" cy="542.6" r="5.6"/><circle cx="675.5" cy="413.4" r="5.6"/><circle cx="556.4" cy="516.6" r="5.6"/><circle cx="603.0" cy="472.8" r="5.6"/><circle cx="596.9" cy="455.7" r="5.6"/><circle cx="643.4" cy="421.4" r="5.6"/><circle cx="608.4" cy="411.6" r="5.6"/><circle cx="530.9" cy="558.1" r="5.6"/><circle cx="697.0" cy="342.6" r="5.6"/><circle cx="595.7" cy="431.6" r="5.6"/><circle cx="606.4" cy="466.3" r="5.6"/><circle cx="584.5" cy="466.3" r="5.6"/><circle cx="674.7" cy="387.0" r="5.6"/><circle cx="662.1" cy="369.8" r="5.6"/><circle cx="529.2" cy="526.8" r="5.6"/><circle cx="603.1" cy="474.3" r="5.6"/><circle cx="573.5" cy="472.5" r="5.6"/><circle cx="610.8" cy="459.3" r="5.6"/><circle cx="610.2" cy="443.3" r="5.6"/><circle cx="562.4" cy="489.2" r="5.6"/><circle cx="648.6" cy="436.4" r="5.6"/><circle cx="593.8" cy="469.7" r="5.6"/><circle cx="636.8" cy="420.4" r="5.6"/><circle cx="652.9" cy="433.8" r="5.6"/><circle cx="549.8" cy="553.5" r="5.6"/><circle cx="592.4" cy="489.7" r="5.6"/><circle cx="639.0" cy="422.5" r="5.6"/><circle cx="604.1" cy="452.0" r="5.6"/><circle cx="598.2" cy="470.7" r="5.6"/><circle cx="644.3" cy="414.1" r="5.6"/><circle cx="669.6" cy="387.5" r="5.6"/><circle cx="629.5" cy="453.0" r="5.6"/><circle cx="569.5" cy="497.5" r="5.6"/><circle cx="705.5" cy="372.5" r="5.6"/><circle cx="639.4" cy="418.1" r="5.6"/><circle cx="623.9" cy="423.1" r="5.6"/><circle cx="633.1" cy="421.7" r="5.6"/><circle cx="644.3" cy="435.2" r="5.6"/><circle cx="567.6" cy="486.6" r="5.6"/><circle cx="537.3" cy="514.3" r="5.6"/><circle cx="627.9" cy="465.7" r="5.6"/><circle cx="663.2" cy="406.1" r="5.6"/><circle cx="697.4" cy="384.8" r="5.6"/><circle cx="636.4" cy="426.0" r="5.6"/><circle cx="643.4" cy="399.7" r="5.6"/><circle cx="621.7" cy="462.0" r="5.6"/><circle cx="668.2" cy="419.0" r="5.6"/><circle cx="669.8" cy="427.6" r="5.6"/><circle cx="711.0" cy="366.2" r="5.6"/><circle cx="540.9" cy="525.5" r="5.6"/><circle cx="634.9" cy="398.3" r="5.6"/><circle cx="637.2" cy="456.7" r="5.6"/><circle cx="678.8" cy="389.8" r="5.6"/><circle cx="656.7" cy="400.2" r="5.6"/><circle cx="631.0" cy="416.8" r="5.6"/><circle cx="523.5" cy="559.6" r="5.6"/><circle cx="653.0" cy="406.9" r="5.6"/><circle cx="585.7" cy="512.9" r="5.6"/><circle cx="626.5" cy="453.0" r="5.6"/><circle cx="605.3" cy="452.7" r="5.6"/><circle cx="585.0" cy="497.2" r="5.6"/><circle cx="547.0" cy="525.0" r="5.6"/><circle cx="495.7" cy="550.2" r="5.6"/><circle cx="581.1" cy="504.5" r="5.6"/><circle cx="526.9" cy="558.8" r="5.6"/><circle cx="618.8" cy="468.1" r="5.6"/><circle cx="601.4" cy="453.1" r="5.6"/><circle cx="567.2" cy="489.7" r="5.6"/><circle cx="609.6" cy="480.5" r="5.6"/><circle cx="719.7" cy="361.5" r="5.6"/><circle cx="647.3" cy="423.0" r="5.6"/><circle cx="642.6" cy="417.0" r="5.6"/><circle cx="595.5" cy="460.5" r="5.6"/><circle cx="568.2" cy="500.6" r="5.6"/><circle cx="616.9" cy="459.1" r="5.6"/><circle cx="602.5" cy="486.5" r="5.6"/><circle cx="636.6" cy="428.3" r="5.6"/><circle cx="602.6" cy="446.1" r="5.6"/><circle cx="598.7" cy="467.4" r="5.6"/><circle cx="610.2" cy="465.5" r="5.6"/><circle cx="635.8" cy="411.0" r="5.6"/><circle cx="662.1" cy="400.8" r="5.6"/><circle cx="656.0" cy="443.4" r="5.6"/><circle cx="588.0" cy="550.5" r="5.6"/><circle cx="648.9" cy="436.0" r="5.6"/><circle cx="623.5" cy="453.2" r="5.6"/><circle cx="619.5" cy="433.1" r="5.6"/><circle cx="585.4" cy="474.7" r="5.6"/><circle cx="619.5" cy="461.4" r="5.6"/><circle cx="606.2" cy="476.0" r="5.6"/><circle cx="638.6" cy="424.4" r="5.6"/><circle cx="703.1" cy="385.8" r="5.6"/><circle cx="602.2" cy="469.7" r="5.6"/><circle cx="561.4" cy="486.8" r="5.6"/><circle cx="609.8" cy="462.1" r="5.6"/><circle cx="674.7" cy="416.7" r="5.6"/><circle cx="583.0" cy="506.4" r="5.6"/><circle cx="607.6" cy="480.1" r="5.6"/><circle cx="603.4" cy="472.7" r="5.6"/><circle cx="575.1" cy="529.4" r="5.6"/><circle cx="538.6" cy="532.1" r="5.6"/><circle cx="660.3" cy="414.6" r="5.6"/><circle cx="517.6" cy="518.0" r="5.6"/><circle cx="574.7" cy="485.7" r="5.6"/><circle cx="604.1" cy="501.5" r="5.6"/><circle cx="617.8" cy="437.8" r="5.6"/><circle cx="584.0" cy="474.6" r="5.6"/><circle cx="660.2" cy="442.0" r="5.6"/><circle cx="570.4" cy="486.2" r="5.6"/><circle cx="528.5" cy="540.1" r="5.6"/><circle cx="558.5" cy="508.3" r="5.6"/><circle cx="647.6" cy="447.8" r="5.6"/><circle cx="622.7" cy="462.7" r="5.6"/><circle cx="644.1" cy="403.3" r="5.6"/><circle cx="675.2" cy="377.3" r="5.6"/><circle cx="573.1" cy="482.1" r="5.6"/><circle cx="637.6" cy="444.2" r="5.6"/><circle cx="566.7" cy="477.6" r="5.6"/><circle cx="567.9" cy="525.0" r="5.6"/><circle cx="516.1" cy="566.7" r="5.6"/><circle cx="590.4" cy="466.2" r="5.6"/><circle cx="589.9" cy="502.1" r="5.6"/><circle cx="526.3" cy="539.7" r="5.6"/><circle cx="655.7" cy="440.8" r="5.6"/><circle cx="669.3" cy="429.7" r="5.6"/><circle cx="646.2" cy="411.9" r="5.6"/><circle cx="711.3" cy="378.9" r="5.6"/><circle cx="636.4" cy="455.0" r="5.6"/><circle cx="611.8" cy="451.3" r="5.6"/><circle cx="675.2" cy="398.1" r="5.6"/><circle cx="585.3" cy="468.5" r="5.6"/><circle cx="654.2" cy="403.5" r="5.6"/><circle cx="619.1" cy="454.2" r="5.6"/><circle cx="549.8" cy="532.8" r="5.6"/><circle cx="599.6" cy="479.9" r="5.6"/><circle cx="544.0" cy="529.2" r="5.6"/><circle cx="682.6" cy="379.4" r="5.6"/><circle cx="707.1" cy="371.3" r="5.6"/><circle cx="591.9" cy="482.8" r="5.6"/><circle cx="592.3" cy="465.6" r="5.6"/><circle cx="596.2" cy="475.1" r="5.6"/><circle cx="648.2" cy="430.2" r="5.6"/><circle cx="598.7" cy="482.9" r="5.6"/><circle cx="685.1" cy="344.6" r="5.6"/><circle cx="645.5" cy="416.4" r="5.6"/><circle cx="623.0" cy="475.7" r="5.6"/><circle cx="688.6" cy="378.4" r="5.6"/><circle cx="591.6" cy="473.6" r="5.6"/><circle cx="674.6" cy="380.0" r="5.6"/><circle cx="615.3" cy="456.5" r="5.6"/><circle cx="650.0" cy="440.0" r="5.6"/><circle cx="591.3" cy="503.0" r="5.6"/><circle cx="660.8" cy="412.5" r="5.6"/><circle cx="654.4" cy="426.1" r="5.6"/><circle cx="585.9" cy="494.2" r="5.6"/><circle cx="646.6" cy="411.2" r="5.6"/><circle cx="554.8" cy="520.4" r="5.6"/><circle cx="682.3" cy="382.6" r="5.6"/><circle cx="637.5" cy="425.5" r="5.6"/><circle cx="541.1" cy="515.8" r="5.6"/><circle cx="644.7" cy="414.6" r="5.6"/><circle cx="678.8" cy="365.9" r="5.6"/><circle cx="563.0" cy="532.5" r="5.6"/><circle cx="681.4" cy="409.5" r="5.6"/><circle cx="678.2" cy="387.4" r="5.6"/><circle cx="547.7" cy="507.6" r="5.6"/><circle cx="648.7" cy="399.0" r="5.6"/><circle cx="651.0" cy="429.8" r="5.6"/><circle cx="581.5" cy="517.8" r="5.6"/><circle cx="669.8" cy="406.9" r="5.6"/><circle cx="565.9" cy="510.8" r="5.6"/><circle cx="568.6" cy="510.2" r="5.6"/><circle cx="650.9" cy="419.9" r="5.6"/><circle cx="697.8" cy="380.7" r="5.6"/><circle cx="630.2" cy="439.4" r="5.6"/><circle cx="525.0" cy="550.5" r="5.6"/><circle cx="630.5" cy="422.5" r="5.6"/><circle cx="626.2" cy="403.9" r="5.6"/><circle cx="699.2" cy="374.5" r="5.6"/><circle cx="602.7" cy="470.4" r="5.6"/><circle cx="699.7" cy="354.4" r="5.6"/><circle cx="615.6" cy="477.9" r="5.6"/><circle cx="642.4" cy="452.7" r="5.6"/><circle cx="581.3" cy="455.2" r="5.6"/><circle cx="505.1" cy="596.1" r="5.6"/><circle cx="572.4" cy="524.4" r="5.6"/><circle cx="620.4" cy="429.9" r="5.6"/><circle cx="593.4" cy="450.6" r="5.6"/><circle cx="645.9" cy="451.3" r="5.6"/><circle cx="589.7" cy="484.6" r="5.6"/><circle cx="690.0" cy="379.6" r="5.6"/><circle cx="590.7" cy="511.1" r="5.6"/><circle cx="591.3" cy="474.7" r="5.6"/><circle cx="638.6" cy="439.4" r="5.6"/><circle cx="600.8" cy="433.2" r="5.6"/><circle cx="571.9" cy="518.8" r="5.6"/><circle cx="585.1" cy="489.6" r="5.6"/><circle cx="619.5" cy="452.6" r="5.6"/><circle cx="530.4" cy="548.2" r="5.6"/><circle cx="613.6" cy="456.7" r="5.6"/><circle cx="563.8" cy="504.0" r="5.6"/><circle cx="613.2" cy="465.6" r="5.6"/><circle cx="609.1" cy="447.0" r="5.6"/><circle cx="649.8" cy="427.7" r="5.6"/><circle cx="672.5" cy="416.8" r="5.6"/><circle cx="553.7" cy="535.4" r="5.6"/><circle cx="670.5" cy="363.9" r="5.6"/><circle cx="561.7" cy="481.3" r="5.6"/><circle cx="574.8" cy="499.7" r="5.6"/><circle cx="603.6" cy="465.6" r="5.6"/><circle cx="528.7" cy="543.4" r="5.6"/><circle cx="567.5" cy="494.9" r="5.6"/><circle cx="654.1" cy="396.1" r="5.6"/><circle cx="506.0" cy="577.2" r="5.6"/><circle cx="567.7" cy="466.4" r="5.6"/><circle cx="607.5" cy="469.4" r="5.6"/><circle cx="617.5" cy="453.3" r="5.6"/><circle cx="610.8" cy="469.5" r="5.6"/><circle cx="574.3" cy="470.1" r="5.6"/><circle cx="657.9" cy="424.7" r="5.6"/><circle cx="494.4" cy="557.5" r="5.6"/><circle cx="592.0" cy="450.9" r="5.6"/><circle cx="688.5" cy="398.4" r="5.6"/><circle cx="576.2" cy="510.1" r="5.6"/><circle cx="616.5" cy="426.9" r="5.6"/><circle cx="692.9" cy="377.8" r="5.6"/><circle cx="658.4" cy="435.3" r="5.6"/><circle cx="685.2" cy="361.9" r="5.6"/><circle cx="564.1" cy="473.0" r="5.6"/><circle cx="617.0" cy="442.1" r="5.6"/><circle cx="613.1" cy="442.0" r="5.6"/><circle cx="584.7" cy="450.1" r="5.6"/><circle cx="662.7" cy="397.8" r="5.6"/><circle cx="604.8" cy="483.4" r="5.6"/><circle cx="506.9" cy="567.5" r="5.6"/><circle cx="602.2" cy="443.6" r="5.6"/><circle cx="613.6" cy="466.8" r="5.6"/><circle cx="554.6" cy="529.9" r="5.6"/><circle cx="664.0" cy="407.7" r="5.6"/><circle cx="644.4" cy="413.6" r="5.6"/><circle cx="600.5" cy="469.3" r="5.6"/><circle cx="567.2" cy="498.6" r="5.6"/><circle cx="640.7" cy="406.1" r="5.6"/><circle cx="606.0" cy="481.3" r="5.6"/><circle cx="677.4" cy="397.4" r="5.6"/><circle cx="626.5" cy="453.7" r="5.6"/><circle cx="678.5" cy="411.0" r="5.6"/><circle cx="569.3" cy="506.9" r="5.6"/><circle cx="627.6" cy="436.1" r="5.6"/><circle cx="551.2" cy="503.3" r="5.6"/><circle cx="550.1" cy="518.2" r="5.6"/><circle cx="593.9" cy="476.9" r="5.6"/><circle cx="663.2" cy="413.5" r="5.6"/><circle cx="626.4" cy="428.3" r="5.6"/><circle cx="599.9" cy="463.5" r="5.6"/><circle cx="620.9" cy="434.2" r="5.6"/><circle cx="631.6" cy="435.7" r="5.6"/><circle cx="634.4" cy="428.8" r="5.6"/><circle cx="651.6" cy="410.7" r="5.6"/><circle cx="635.9" cy="448.0" r="5.6"/><circle cx="554.5" cy="519.5" r="5.6"/><circle cx="659.2" cy="389.3" r="5.6"/><circle cx="615.4" cy="475.2" r="5.6"/><circle cx="551.1" cy="539.3" r="5.6"/><circle cx="648.2" cy="461.3" r="5.6"/><circle cx="558.9" cy="546.3" r="5.6"/><circle cx="537.0" cy="510.6" r="5.6"/><circle cx="594.5" cy="491.4" r="5.6"/><circle cx="531.5" cy="554.8" r="5.6"/><circle cx="537.5" cy="555.9" r="5.6"/><circle cx="582.1" cy="475.2" r="5.6"/><circle cx="607.3" cy="450.8" r="5.6"/><circle cx="510.8" cy="546.1" r="5.6"/><circle cx="607.5" cy="490.6" r="5.6"/><circle cx="597.6" cy="453.9" r="5.6"/><circle cx="596.8" cy="475.0" r="5.6"/><circle cx="591.6" cy="507.5" r="5.6"/><circle cx="660.8" cy="375.2" r="5.6"/><circle cx="633.7" cy="423.1" r="5.6"/><circle cx="634.3" cy="438.8" r="5.6"/><circle cx="708.1" cy="403.7" r="5.6"/><circle cx="563.2" cy="516.9" r="5.6"/><circle cx="612.3" cy="478.3" r="5.6"/><circle cx="568.0" cy="461.3" r="5.6"/><circle cx="610.7" cy="452.7" r="5.6"/><circle cx="615.1" cy="447.8" r="5.6"/><circle cx="622.2" cy="425.6" r="5.6"/><circle cx="629.1" cy="426.8" r="5.6"/><circle cx="580.6" cy="483.0" r="5.6"/><circle cx="544.6" cy="517.7" r="5.6"/><circle cx="632.6" cy="422.4" r="5.6"/><circle cx="536.1" cy="525.8" r="5.6"/><circle cx="591.9" cy="462.7" r="5.6"/><circle cx="535.7" cy="524.6" r="5.6"/><circle cx="595.0" cy="501.7" r="5.6"/><circle cx="624.4" cy="421.5" r="5.6"/><circle cx="608.0" cy="459.3" r="5.6"/><circle cx="532.4" cy="547.1" r="5.6"/><circle cx="628.2" cy="427.5" r="5.6"/><circle cx="557.2" cy="505.1" r="5.6"/><circle cx="587.4" cy="472.2" r="5.6"/><circle cx="576.4" cy="496.7" r="5.6"/><circle cx="569.6" cy="492.5" r="5.6"/><circle cx="536.6" cy="529.0" r="5.6"/><circle cx="632.8" cy="412.6" r="5.6"/><circle cx="609.0" cy="457.4" r="5.6"/><circle cx="600.5" cy="457.9" r="5.6"/><circle cx="636.1" cy="438.5" r="5.6"/><circle cx="636.3" cy="429.5" r="5.6"/><circle cx="609.4" cy="487.7" r="5.6"/><circle cx="614.9" cy="433.3" r="5.6"/><circle cx="512.5" cy="538.8" r="5.6"/><circle cx="609.7" cy="461.2" r="5.6"/><circle cx="670.6" cy="410.6" r="5.6"/><circle cx="658.7" cy="426.7" r="5.6"/><circle cx="574.5" cy="483.9" r="5.6"/><circle cx="693.4" cy="354.9" r="5.6"/><circle cx="667.0" cy="432.6" r="5.6"/><circle cx="705.6" cy="378.2" r="5.6"/><circle cx="644.3" cy="426.2" r="5.6"/><circle cx="658.0" cy="386.5" r="5.6"/><circle cx="575.0" cy="504.6" r="5.6"/><circle cx="578.2" cy="516.5" r="5.6"/><circle cx="524.9" cy="543.2" r="5.6"/><circle cx="615.8" cy="439.0" r="5.6"/><circle cx="551.2" cy="506.8" r="5.6"/><circle cx="675.7" cy="403.0" r="5.6"/><circle cx="638.9" cy="442.5" r="5.6"/><circle cx="599.1" cy="432.9" r="5.6"/><circle cx="552.6" cy="528.0" r="5.6"/><circle cx="699.6" cy="358.9" r="5.6"/><circle cx="651.1" cy="394.5" r="5.6"/><circle cx="625.9" cy="455.3" r="5.6"/><circle cx="615.3" cy="436.0" r="5.6"/><circle cx="644.9" cy="397.2" r="5.6"/><circle cx="553.8" cy="506.8" r="5.6"/><circle cx="654.4" cy="421.5" r="5.6"/><circle cx="618.2" cy="426.9" r="5.6"/><circle cx="599.9" cy="466.3" r="5.6"/><circle cx="605.7" cy="494.0" r="5.6"/><circle cx="676.7" cy="391.1" r="5.6"/><circle cx="647.2" cy="426.9" r="5.6"/><circle cx="549.7" cy="482.0" r="5.6"/><circle cx="553.6" cy="479.2" r="5.6"/><circle cx="632.4" cy="425.5" r="5.6"/><circle cx="585.7" cy="454.2" r="5.6"/><circle cx="530.2" cy="568.7" r="5.6"/><circle cx="658.9" cy="394.4" r="5.6"/><circle cx="682.6" cy="391.0" r="5.6"/><circle cx="603.6" cy="453.2" r="5.6"/><circle cx="644.8" cy="381.3" r="5.6"/><circle cx="682.4" cy="381.6" r="5.6"/><circle cx="542.0" cy="511.7" r="5.6"/><circle cx="620.8" cy="475.2" r="5.6"/><circle cx="602.2" cy="482.7" r="5.6"/><circle cx="622.3" cy="438.3" r="5.6"/><circle cx="627.1" cy="456.1" r="5.6"/><circle cx="644.1" cy="413.9" r="5.6"/><circle cx="684.7" cy="410.3" r="5.6"/><circle cx="569.9" cy="478.9" r="5.6"/><circle cx="619.3" cy="447.8" r="5.6"/><circle cx="560.7" cy="501.2" r="5.6"/><circle cx="561.7" cy="484.1" r="5.6"/><circle cx="619.9" cy="426.9" r="5.6"/><circle cx="606.9" cy="485.2" r="5.6"/><circle cx="643.5" cy="412.6" r="5.6"/><circle cx="734.8" cy="340.4" r="5.6"/><circle cx="627.5" cy="425.8" r="5.6"/><circle cx="651.9" cy="415.3" r="5.6"/><circle cx="667.2" cy="389.4" r="5.6"/><circle cx="609.9" cy="447.0" r="5.6"/><circle cx="584.5" cy="452.3" r="5.6"/><circle cx="568.4" cy="502.6" r="5.6"/><circle cx="580.7" cy="522.8" r="5.6"/><circle cx="663.5" cy="411.5" r="5.6"/><circle cx="558.5" cy="541.9" r="5.6"/><circle cx="651.1" cy="424.2" r="5.6"/><circle cx="641.2" cy="466.3" r="5.6"/><circle cx="627.6" cy="446.5" r="5.6"/><circle cx="597.8" cy="463.1" r="5.6"/><circle cx="594.6" cy="460.8" r="5.6"/><circle cx="629.6" cy="450.5" r="5.6"/><circle cx="608.0" cy="480.4" r="5.6"/><circle cx="591.8" cy="481.8" r="5.6"/><circle cx="616.2" cy="466.0" r="5.6"/><circle cx="563.6" cy="542.7" r="5.6"/><circle cx="567.8" cy="513.7" r="5.6"/><circle cx="648.8" cy="419.0" r="5.6"/><circle cx="596.7" cy="469.7" r="5.6"/><circle cx="617.3" cy="438.0" r="5.6"/><circle cx="639.6" cy="431.2" r="5.6"/><circle cx="531.1" cy="536.9" r="5.6"/><circle cx="632.7" cy="412.8" r="5.6"/><circle cx="693.4" cy="388.3" r="5.6"/><circle cx="617.8" cy="464.4" r="5.6"/><circle cx="646.7" cy="419.5" r="5.6"/><circle cx="647.3" cy="428.7" r="5.6"/><circle cx="588.5" cy="462.4" r="5.6"/><circle cx="582.0" cy="476.2" r="5.6"/><circle cx="690.8" cy="388.4" r="5.6"/><circle cx="526.9" cy="565.3" r="5.6"/><circle cx="591.9" cy="507.5" r="5.6"/><circle cx="619.5" cy="477.9" r="5.6"/><circle cx="610.8" cy="447.9" r="5.6"/><circle cx="647.2" cy="426.7" r="5.6"/><circle cx="589.7" cy="506.4" r="5.6"/><circle cx="611.8" cy="437.8" r="5.6"/><circle cx="569.2" cy="486.7" r="5.6"/><circle cx="655.8" cy="421.8" r="5.6"/><circle cx="575.2" cy="449.8" r="5.6"/><circle cx="660.9" cy="452.6" r="5.6"/><circle cx="647.9" cy="406.4" r="5.6"/><circle cx="562.3" cy="534.7" r="5.6"/><circle cx="628.7" cy="425.1" r="5.6"/><circle cx="606.8" cy="443.9" r="5.6"/><circle cx="653.0" cy="419.1" r="5.6"/><circle cx="579.0" cy="512.9" r="5.6"/><circle cx="573.3" cy="483.3" r="5.6"/><circle cx="629.6" cy="454.3" r="5.6"/><circle cx="629.5" cy="413.4" r="5.6"/><circle cx="705.1" cy="365.7" r="5.6"/><circle cx="700.3" cy="362.0" r="5.6"/><circle cx="656.0" cy="409.8" r="5.6"/><circle cx="671.7" cy="360.2" r="5.6"/><circle cx="641.5" cy="431.4" r="5.6"/><circle cx="635.0" cy="447.5" r="5.6"/><circle cx="581.2" cy="471.7" r="5.6"/><circle cx="636.3" cy="481.6" r="5.6"/><circle cx="610.7" cy="483.2" r="5.6"/><circle cx="599.5" cy="429.4" r="5.6"/><circle cx="536.4" cy="518.0" r="5.6"/><circle cx="648.5" cy="426.2" r="5.6"/><circle cx="574.0" cy="459.2" r="5.6"/><circle cx="547.4" cy="493.5" r="5.6"/><circle cx="640.2" cy="431.9" r="5.6"/><circle cx="653.9" cy="414.1" r="5.6"/><circle cx="572.3" cy="456.7" r="5.6"/><circle cx="590.3" cy="463.4" r="5.6"/><circle cx="566.5" cy="501.5" r="5.6"/><circle cx="564.0" cy="519.4" r="5.6"/><circle cx="519.0" cy="542.3" r="5.6"/><circle cx="617.2" cy="464.7" r="5.6"/><circle cx="606.2" cy="445.3" r="5.6"/><circle cx="600.3" cy="487.2" r="5.6"/><circle cx="615.5" cy="467.8" r="5.6"/><circle cx="613.2" cy="479.6" r="5.6"/><circle cx="595.7" cy="463.6" r="5.6"/><circle cx="551.1" cy="514.0" r="5.6"/><circle cx="499.6" cy="558.0" r="5.6"/><circle cx="551.6" cy="504.7" r="5.6"/><circle cx="593.5" cy="466.6" r="5.6"/><circle cx="605.6" cy="460.4" r="5.6"/><circle cx="541.1" cy="553.4" r="5.6"/><circle cx="585.5" cy="470.2" r="5.6"/><circle cx="613.1" cy="450.3" r="5.6"/><circle cx="572.1" cy="468.7" r="5.6"/><circle cx="710.4" cy="368.5" r="5.6"/><circle cx="655.7" cy="396.7" r="5.6"/><circle cx="687.5" cy="403.1" r="5.6"/><circle cx="698.4" cy="378.9" r="5.6"/><circle cx="607.4" cy="453.9" r="5.6"/><circle cx="569.8" cy="483.7" r="5.6"/><circle cx="606.5" cy="425.3" r="5.6"/><circle cx="618.4" cy="435.2" r="5.6"/><circle cx="596.8" cy="487.1" r="5.6"/><circle cx="540.0" cy="494.1" r="5.6"/><circle cx="595.0" cy="468.3" r="5.6"/><circle cx="677.0" cy="382.9" r="5.6"/><circle cx="616.9" cy="445.9" r="5.6"/><circle cx="544.4" cy="517.3" r="5.6"/><circle cx="601.9" cy="488.8" r="5.6"/><circle cx="633.5" cy="430.3" r="5.6"/><circle cx="565.2" cy="491.6" r="5.6"/><circle cx="652.2" cy="412.7" r="5.6"/><circle cx="680.7" cy="393.7" r="5.6"/><circle cx="683.3" cy="358.8" r="5.6"/><circle cx="625.4" cy="467.6" r="5.6"/><circle cx="543.1" cy="482.7" r="5.6"/><circle cx="644.6" cy="423.8" r="5.6"/><circle cx="689.0" cy="365.4" r="5.6"/><circle cx="580.8" cy="481.7" r="5.6"/><circle cx="550.0" cy="497.7" r="5.6"/><circle cx="627.0" cy="444.3" r="5.6"/><circle cx="589.6" cy="492.9" r="5.6"/><circle cx="614.0" cy="489.1" r="5.6"/><circle cx="555.7" cy="525.4" r="5.6"/><circle cx="603.5" cy="459.1" r="5.6"/><circle cx="562.5" cy="500.9" r="5.6"/><circle cx="582.9" cy="504.3" r="5.6"/><circle cx="718.6" cy="356.9" r="5.6"/><circle cx="622.4" cy="425.4" r="5.6"/><circle cx="614.5" cy="415.4" r="5.6"/><circle cx="701.8" cy="369.0" r="5.6"/><circle cx="657.0" cy="451.8" r="5.6"/><circle cx="640.5" cy="428.6" r="5.6"/><circle cx="518.5" cy="527.7" r="5.6"/><circle cx="498.0" cy="549.5" r="5.6"/><circle cx="541.6" cy="525.2" r="5.6"/><circle cx="635.9" cy="417.9" r="5.6"/><circle cx="516.5" cy="549.6" r="5.6"/><circle cx="578.7" cy="446.0" r="5.6"/><circle cx="650.9" cy="447.7" r="5.6"/><circle cx="599.2" cy="471.8" r="5.6"/><circle cx="661.3" cy="422.1" r="5.6"/><circle cx="610.5" cy="477.5" r="5.6"/><circle cx="619.8" cy="465.7" r="5.6"/><circle cx="651.5" cy="436.6" r="5.6"/><circle cx="639.8" cy="492.9" r="5.6"/><circle cx="643.4" cy="378.7" r="5.6"/><circle cx="566.7" cy="536.7" r="5.6"/><circle cx="607.4" cy="474.8" r="5.6"/><circle cx="627.9" cy="461.6" r="5.6"/><circle cx="618.4" cy="477.3" r="5.6"/><circle cx="671.5" cy="401.1" r="5.6"/><circle cx="614.0" cy="463.1" r="5.6"/><circle cx="661.3" cy="391.5" r="5.6"/><circle cx="633.3" cy="452.8" r="5.6"/><circle cx="606.8" cy="461.4" r="5.6"/><circle cx="632.6" cy="475.1" r="5.6"/><circle cx="699.2" cy="367.9" r="5.6"/><circle cx="661.4" cy="385.1" r="5.6"/><circle cx="662.8" cy="403.8" r="5.6"/><circle cx="581.2" cy="456.7" r="5.6"/><circle cx="600.9" cy="473.5" r="5.6"/><circle cx="599.7" cy="472.4" r="5.6"/><circle cx="577.9" cy="499.8" r="5.6"/><circle cx="646.2" cy="433.0" r="5.6"/><circle cx="691.4" cy="387.6" r="5.6"/><circle cx="567.8" cy="481.2" r="5.6"/><circle cx="580.7" cy="454.0" r="5.6"/><circle cx="582.0" cy="489.5" r="5.6"/><circle cx="501.3" cy="575.4" r="5.6"/><circle cx="649.3" cy="395.9" r="5.6"/><circle cx="649.5" cy="398.6" r="5.6"/><circle cx="658.5" cy="393.0" r="5.6"/><circle cx="671.6" cy="402.8" r="5.6"/><circle cx="616.7" cy="467.9" r="5.6"/><circle cx="588.1" cy="462.4" r="5.6"/><circle cx="690.8" cy="343.5" r="5.6"/><circle cx="586.9" cy="482.5" r="5.6"/><circle cx="641.3" cy="402.2" r="5.6"/><circle cx="564.4" cy="476.9" r="5.6"/><circle cx="691.7" cy="348.4" r="5.6"/><circle cx="550.8" cy="514.9" r="5.6"/><circle cx="561.2" cy="488.2" r="5.6"/><circle cx="585.8" cy="458.4" r="5.6"/><circle cx="624.0" cy="429.0" r="5.6"/><circle cx="677.5" cy="371.0" r="5.6"/><circle cx="561.0" cy="511.9" r="5.6"/><circle cx="599.8" cy="480.0" r="5.6"/><circle cx="676.7" cy="441.8" r="5.6"/><circle cx="666.5" cy="389.6" r="5.6"/><circle cx="646.7" cy="417.0" r="5.6"/><circle cx="544.9" cy="502.1" r="5.6"/><circle cx="543.9" cy="535.8" r="5.6"/><circle cx="686.6" cy="370.7" r="5.6"/><circle cx="612.0" cy="446.5" r="5.6"/><circle cx="667.4" cy="408.2" r="5.6"/><circle cx="602.0" cy="475.7" r="5.6"/><circle cx="657.2" cy="435.8" r="5.6"/><circle cx="620.3" cy="456.4" r="5.6"/><circle cx="643.8" cy="434.0" r="5.6"/><circle cx="582.7" cy="525.1" r="5.6"/><circle cx="579.4" cy="521.0" r="5.6"/><circle cx="595.4" cy="483.7" r="5.6"/><circle cx="637.9" cy="396.6" r="5.6"/><circle cx="635.8" cy="424.3" r="5.6"/><circle cx="663.4" cy="435.2" r="5.6"/><circle cx="540.6" cy="544.3" r="5.6"/><circle cx="624.9" cy="431.4" r="5.6"/><circle cx="608.8" cy="443.8" r="5.6"/><circle cx="540.2" cy="529.5" r="5.6"/><circle cx="645.8" cy="421.6" r="5.6"/><circle cx="677.3" cy="405.9" r="5.6"/><circle cx="525.7" cy="522.5" r="5.6"/><circle cx="599.4" cy="439.7" r="5.6"/><circle cx="721.6" cy="355.6" r="5.6"/><circle cx="587.6" cy="480.4" r="5.6"/><circle cx="665.8" cy="396.9" r="5.6"/><circle cx="553.7" cy="497.0" r="5.6"/><circle cx="716.6" cy="329.4" r="5.6"/><circle cx="557.7" cy="488.8" r="5.6"/><circle cx="577.5" cy="484.1" r="5.6"/><circle cx="642.8" cy="449.4" r="5.6"/><circle cx="744.3" cy="339.8" r="5.6"/><circle cx="596.4" cy="484.6" r="5.6"/><circle cx="683.4" cy="393.7" r="5.6"/><circle cx="716.4" cy="343.3" r="5.6"/><circle cx="660.0" cy="434.1" r="5.6"/><circle cx="637.4" cy="445.4" r="5.6"/><circle cx="685.4" cy="389.3" r="5.6"/><circle cx="579.7" cy="446.5" r="5.6"/><circle cx="620.2" cy="419.5" r="5.6"/><circle cx="675.1" cy="392.4" r="5.6"/><circle cx="631.9" cy="433.2" r="5.6"/><circle cx="643.1" cy="419.8" r="5.6"/><circle cx="633.5" cy="436.0" r="5.6"/><circle cx="598.6" cy="477.8" r="5.6"/><circle cx="578.6" cy="491.9" r="5.6"/><circle cx="611.5" cy="454.4" r="5.6"/><circle cx="609.7" cy="463.3" r="5.6"/><circle cx="595.3" cy="456.3" r="5.6"/><circle cx="724.4" cy="359.9" r="5.6"/><circle cx="537.1" cy="523.5" r="5.6"/><circle cx="604.6" cy="489.6" r="5.6"/><circle cx="558.6" cy="503.8" r="5.6"/><circle cx="563.7" cy="522.0" r="5.6"/><circle cx="643.7" cy="423.0" r="5.6"/><circle cx="619.4" cy="448.4" r="5.6"/><circle cx="568.6" cy="484.9" r="5.6"/><circle cx="533.6" cy="521.5" r="5.6"/><circle cx="622.2" cy="443.0" r="5.6"/><circle cx="608.6" cy="442.9" r="5.6"/><circle cx="657.1" cy="424.5" r="5.6"/><circle cx="627.8" cy="407.1" r="5.6"/><circle cx="593.6" cy="494.5" r="5.6"/><circle cx="609.4" cy="458.3" r="5.6"/><circle cx="563.6" cy="502.0" r="5.6"/><circle cx="562.6" cy="514.0" r="5.6"/><circle cx="587.9" cy="463.9" r="5.6"/><circle cx="694.3" cy="387.9" r="5.6"/><circle cx="606.4" cy="468.3" r="5.6"/><circle cx="672.8" cy="398.8" r="5.6"/><circle cx="635.1" cy="445.8" r="5.6"/><circle cx="550.5" cy="518.0" r="5.6"/><circle cx="589.6" cy="481.7" r="5.6"/><circle cx="600.6" cy="450.0" r="5.6"/><circle cx="566.8" cy="492.1" r="5.6"/><circle cx="641.2" cy="438.0" r="5.6"/><circle cx="715.4" cy="354.8" r="5.6"/><circle cx="662.0" cy="391.3" r="5.6"/><circle cx="558.1" cy="537.0" r="5.6"/><circle cx="663.6" cy="400.3" r="5.6"/><circle cx="628.0" cy="424.1" r="5.6"/><circle cx="610.9" cy="482.7" r="5.6"/><circle cx="615.2" cy="485.2" r="5.6"/><circle cx="584.5" cy="507.4" r="5.6"/><circle cx="669.3" cy="414.5" r="5.6"/><circle cx="655.4" cy="446.8" r="5.6"/><circle cx="660.9" cy="403.1" r="5.6"/><circle cx="598.7" cy="485.3" r="5.6"/><circle cx="627.0" cy="460.3" r="5.6"/><circle cx="619.2" cy="447.6" r="5.6"/><circle cx="582.0" cy="482.4" r="5.6"/><circle cx="599.1" cy="473.0" r="5.6"/><circle cx="577.5" cy="490.6" r="5.6"/><circle cx="552.9" cy="493.0" r="5.6"/><circle cx="574.3" cy="468.4" r="5.6"/><circle cx="674.8" cy="380.5" r="5.6"/><circle cx="713.5" cy="328.4" r="5.6"/><circle cx="553.8" cy="494.6" r="5.6"/><circle cx="580.5" cy="475.6" r="5.6"/><circle cx="665.7" cy="410.0" r="5.6"/><circle cx="541.5" cy="510.0" r="5.6"/><circle cx="610.4" cy="485.7" r="5.6"/><circle cx="605.3" cy="458.6" r="5.6"/><circle cx="506.8" cy="555.1" r="5.6"/><circle cx="586.3" cy="493.6" r="5.6"/><circle cx="571.4" cy="488.6" r="5.6"/><circle cx="574.1" cy="487.8" r="5.6"/><circle cx="607.5" cy="479.1" r="5.6"/><circle cx="601.3" cy="479.2" r="5.6"/><circle cx="582.5" cy="519.2" r="5.6"/><circle cx="591.9" cy="478.0" r="5.6"/><circle cx="632.3" cy="421.6" r="5.6"/><circle cx="553.4" cy="530.6" r="5.6"/><circle cx="635.9" cy="431.1" r="5.6"/><circle cx="672.2" cy="409.8" r="5.6"/><circle cx="593.3" cy="503.1" r="5.6"/><circle cx="631.2" cy="423.7" r="5.6"/><circle cx="572.0" cy="493.1" r="5.6"/><circle cx="577.7" cy="519.1" r="5.6"/><circle cx="527.8" cy="525.9" r="5.6"/><circle cx="641.7" cy="430.1" r="5.6"/><circle cx="636.9" cy="460.6" r="5.6"/><circle cx="633.0" cy="397.1" r="5.6"/><circle cx="660.7" cy="426.7" r="5.6"/><circle cx="601.9" cy="448.0" r="5.6"/><circle cx="648.5" cy="405.5" r="5.6"/><circle cx="546.6" cy="501.9" r="5.6"/><circle cx="644.2" cy="449.3" r="5.6"/><circle cx="539.6" cy="511.6" r="5.6"/><circle cx="532.1" cy="497.5" r="5.6"/><circle cx="660.2" cy="424.2" r="5.6"/><circle cx="622.6" cy="418.7" r="5.6"/><circle cx="560.7" cy="488.3" r="5.6"/><circle cx="577.4" cy="488.8" r="5.6"/><circle cx="623.0" cy="456.7" r="5.6"/><circle cx="498.9" cy="563.5" r="5.6"/><circle cx="623.8" cy="412.1" r="5.6"/><circle cx="691.0" cy="379.5" r="5.6"/><circle cx="643.4" cy="413.7" r="5.6"/><circle cx="560.4" cy="512.2" r="5.6"/><circle cx="652.4" cy="447.3" r="5.6"/><circle cx="647.0" cy="458.6" r="5.6"/><circle cx="583.1" cy="445.7" r="5.6"/><circle cx="588.9" cy="440.6" r="5.6"/><circle cx="692.3" cy="358.9" r="5.6"/><circle cx="614.7" cy="452.6" r="5.6"/><circle cx="678.1" cy="399.1" r="5.6"/><circle cx="613.1" cy="422.8" r="5.6"/><circle cx="592.0" cy="470.6" r="5.6"/><circle cx="646.6" cy="399.6" r="5.6"/><circle cx="631.9" cy="419.0" r="5.6"/><circle cx="602.7" cy="504.7" r="5.6"/><circle cx="640.1" cy="455.5" r="5.6"/><circle cx="569.5" cy="479.2" r="5.6"/><circle cx="643.6" cy="419.7" r="5.6"/><circle cx="590.7" cy="502.4" r="5.6"/><circle cx="639.1" cy="409.9" r="5.6"/><circle cx="604.4" cy="450.7" r="5.6"/><circle cx="578.1" cy="493.9" r="5.6"/><circle cx="692.6" cy="361.7" r="5.6"/><circle cx="579.8" cy="485.1" r="5.6"/><circle cx="574.3" cy="481.3" r="5.6"/><circle cx="696.7" cy="356.2" r="5.6"/><circle cx="659.6" cy="377.5" r="5.6"/><circle cx="594.6" cy="468.9" r="5.6"/><circle cx="624.6" cy="428.5" r="5.6"/><circle cx="603.2" cy="458.6" r="5.6"/><circle cx="517.8" cy="558.1" r="5.6"/><circle cx="546.1" cy="548.2" r="5.6"/><circle cx="692.0" cy="387.2" r="5.6"/><circle cx="605.2" cy="458.9" r="5.6"/><circle cx="595.9" cy="470.3" r="5.6"/><circle cx="499.7" cy="587.5" r="5.6"/><circle cx="628.0" cy="440.1" r="5.6"/><circle cx="581.1" cy="475.9" r="5.6"/><circle cx="666.3" cy="406.4" r="5.6"/><circle cx="535.3" cy="502.3" r="5.6"/><circle cx="679.1" cy="398.4" r="5.6"/><circle cx="605.3" cy="421.0" r="5.6"/><circle cx="613.3" cy="462.0" r="5.6"/><circle cx="691.2" cy="328.8" r="5.6"/><circle cx="587.3" cy="462.6" r="5.6"/><circle cx="651.5" cy="402.4" r="5.6"/><circle cx="675.1" cy="380.7" r="5.6"/><circle cx="625.2" cy="420.8" r="5.6"/><circle cx="559.2" cy="515.8" r="5.6"/><circle cx="628.5" cy="449.1" r="5.6"/><circle cx="637.4" cy="444.3" r="5.6"/><circle cx="677.8" cy="383.3" r="5.6"/><circle cx="564.2" cy="495.5" r="5.6"/><circle cx="641.4" cy="402.6" r="5.6"/><circle cx="670.8" cy="427.6" r="5.6"/><circle cx="587.9" cy="476.5" r="5.6"/><circle cx="684.5" cy="397.7" r="5.6"/><circle cx="599.6" cy="425.7" r="5.6"/><circle cx="623.9" cy="435.1" r="5.6"/><circle cx="689.7" cy="407.6" r="5.6"/><circle cx="612.7" cy="471.7" r="5.6"/><circle cx="621.2" cy="492.0" r="5.6"/><circle cx="638.1" cy="399.4" r="5.6"/><circle cx="557.7" cy="508.6" r="5.6"/><circle cx="657.3" cy="425.9" r="5.6"/><circle cx="714.6" cy="345.9" r="5.6"/><circle cx="509.8" cy="555.7" r="5.6"/><circle cx="537.4" cy="528.9" r="5.6"/><circle cx="650.6" cy="437.3" r="5.6"/><circle cx="718.2" cy="357.5" r="5.6"/><circle cx="596.7" cy="502.7" r="5.6"/><circle cx="604.2" cy="451.7" r="5.6"/><circle cx="555.4" cy="506.6" r="5.6"/><circle cx="555.0" cy="524.5" r="5.6"/><circle cx="662.8" cy="433.1" r="5.6"/><circle cx="621.9" cy="442.9" r="5.6"/><circle cx="628.8" cy="423.1" r="5.6"/><circle cx="636.5" cy="415.2" r="5.6"/><circle cx="633.7" cy="448.5" r="5.6"/><circle cx="592.2" cy="500.9" r="5.6"/><circle cx="665.1" cy="416.7" r="5.6"/><circle cx="611.5" cy="470.4" r="5.6"/><circle cx="566.3" cy="489.1" r="5.6"/><circle cx="645.3" cy="421.9" r="5.6"/><circle cx="537.6" cy="511.0" r="5.6"/><circle cx="639.7" cy="426.2" r="5.6"/><circle cx="674.8" cy="397.1" r="5.6"/><circle cx="652.3" cy="408.0" r="5.6"/><circle cx="690.6" cy="372.2" r="5.6"/><circle cx="666.5" cy="411.3" r="5.6"/><circle cx="589.2" cy="474.9" r="5.6"/><circle cx="592.9" cy="509.4" r="5.6"/><circle cx="654.0" cy="418.9" r="5.6"/><circle cx="640.1" cy="460.2" r="5.6"/><circle cx="597.2" cy="460.7" r="5.6"/><circle cx="657.4" cy="436.5" r="5.6"/><circle cx="598.3" cy="463.3" r="5.6"/><circle cx="503.5" cy="567.2" r="5.6"/><circle cx="642.6" cy="427.7" r="5.6"/><circle cx="597.6" cy="506.4" r="5.6"/><circle cx="581.9" cy="501.8" r="5.6"/><circle cx="547.9" cy="505.9" r="5.6"/><circle cx="679.6" cy="402.1" r="5.6"/><circle cx="675.3" cy="408.6" r="5.6"/><circle cx="581.8" cy="504.4" r="5.6"/><circle cx="552.4" cy="525.7" r="5.6"/><circle cx="600.2" cy="450.1" r="5.6"/><circle cx="568.7" cy="470.3" r="5.6"/><circle cx="659.0" cy="417.0" r="5.6"/><circle cx="676.0" cy="399.6" r="5.6"/><circle cx="602.5" cy="463.3" r="5.6"/><circle cx="699.7" cy="371.0" r="5.6"/><circle cx="679.9" cy="409.2" r="5.6"/><circle cx="636.0" cy="441.8" r="5.6"/><circle cx="534.4" cy="530.3" r="5.6"/><circle cx="603.7" cy="473.8" r="5.6"/><circle cx="529.9" cy="528.5" r="5.6"/><circle cx="664.2" cy="389.4" r="5.6"/><circle cx="621.5" cy="468.8" r="5.6"/><circle cx="619.8" cy="467.0" r="5.6"/><circle cx="707.3" cy="367.1" r="5.6"/><circle cx="627.6" cy="469.0" r="5.6"/><circle cx="717.8" cy="326.6" r="5.6"/><circle cx="565.0" cy="499.9" r="5.6"/><circle cx="565.1" cy="495.5" r="5.6"/><circle cx="684.6" cy="370.1" r="5.6"/><circle cx="665.1" cy="441.1" r="5.6"/><circle cx="584.7" cy="479.6" r="5.6"/><circle cx="532.1" cy="557.7" r="5.6"/><circle cx="633.2" cy="434.4" r="5.6"/><circle cx="544.0" cy="525.2" r="5.6"/><circle cx="576.7" cy="505.4" r="5.6"/><circle cx="633.5" cy="435.3" r="5.6"/><circle cx="579.9" cy="467.2" r="5.6"/><circle cx="555.5" cy="488.1" r="5.6"/><circle cx="570.5" cy="490.4" r="5.6"/><circle cx="654.5" cy="439.2" r="5.6"/><circle cx="660.7" cy="400.7" r="5.6"/><circle cx="495.4" cy="584.2" r="5.6"/><circle cx="628.1" cy="451.5" r="5.6"/><circle cx="615.1" cy="443.5" r="5.6"/><circle cx="660.0" cy="405.9" r="5.6"/><circle cx="681.8" cy="381.0" r="5.6"/><circle cx="544.6" cy="510.6" r="5.6"/><circle cx="641.1" cy="429.9" r="5.6"/><circle cx="605.8" cy="445.2" r="5.6"/><circle cx="637.2" cy="435.5" r="5.6"/><circle cx="630.8" cy="468.6" r="5.6"/><circle cx="580.8" cy="472.3" r="5.6"/><circle cx="646.4" cy="444.1" r="5.6"/><circle cx="594.8" cy="478.9" r="5.6"/><circle cx="553.7" cy="500.7" r="5.6"/><circle cx="623.3" cy="414.8" r="5.6"/><circle cx="534.4" cy="541.8" r="5.6"/><circle cx="654.1" cy="431.3" r="5.6"/><circle cx="652.8" cy="425.4" r="5.6"/><circle cx="676.9" cy="363.0" r="5.6"/><circle cx="604.1" cy="465.5" r="5.6"/><circle cx="606.3" cy="463.8" r="5.6"/><circle cx="554.5" cy="509.3" r="5.6"/><circle cx="695.8" cy="369.8" r="5.6"/><circle cx="675.5" cy="418.9" r="5.6"/><circle cx="637.0" cy="433.6" r="5.6"/><circle cx="610.2" cy="444.9" r="5.6"/><circle cx="564.8" cy="510.5" r="5.6"/><circle cx="672.4" cy="397.7" r="5.6"/><circle cx="562.7" cy="505.3" r="5.6"/><circle cx="580.9" cy="492.1" r="5.6"/><circle cx="572.1" cy="515.9" r="5.6"/><circle cx="628.3" cy="449.2" r="5.6"/><circle cx="535.2" cy="542.6" r="5.6"/><circle cx="661.6" cy="395.8" r="5.6"/><circle cx="644.3" cy="393.1" r="5.6"/><circle cx="601.0" cy="501.7" r="5.6"/><circle cx="580.2" cy="494.2" r="5.6"/><circle cx="562.3" cy="509.4" r="5.6"/><circle cx="658.7" cy="426.9" r="5.6"/><circle cx="573.0" cy="457.7" r="5.6"/><circle cx="662.2" cy="412.7" r="5.6"/><circle cx="555.5" cy="544.1" r="5.6"/><circle cx="649.8" cy="433.5" r="5.6"/><circle cx="502.2" cy="534.2" r="5.6"/><circle cx="587.1" cy="500.3" r="5.6"/><circle cx="567.1" cy="509.1" r="5.6"/><circle cx="594.0" cy="493.6" r="5.6"/><circle cx="626.3" cy="468.0" r="5.6"/><circle cx="644.6" cy="416.8" r="5.6"/><circle cx="600.5" cy="447.8" r="5.6"/><circle cx="584.4" cy="510.6" r="5.6"/><circle cx="570.6" cy="455.2" r="5.6"/><circle cx="562.2" cy="501.6" r="5.6"/><circle cx="695.7" cy="396.7" r="5.6"/><circle cx="626.6" cy="432.7" r="5.6"/><circle cx="692.4" cy="376.2" r="5.6"/><circle cx="654.5" cy="418.6" r="5.6"/><circle cx="619.4" cy="442.5" r="5.6"/><circle cx="655.1" cy="417.9" r="5.6"/><circle cx="602.2" cy="460.4" r="5.6"/><circle cx="567.4" cy="489.1" r="5.6"/><circle cx="561.1" cy="526.4" r="5.6"/><circle cx="604.0" cy="428.8" r="5.6"/><circle cx="599.3" cy="462.8" r="5.6"/><circle cx="563.7" cy="518.7" r="5.6"/><circle cx="564.9" cy="518.2" r="5.6"/><circle cx="604.1" cy="453.1" r="5.6"/><circle cx="641.5" cy="428.5" r="5.6"/><circle cx="594.6" cy="481.3" r="5.6"/><circle cx="614.7" cy="471.1" r="5.6"/><circle cx="655.7" cy="416.9" r="5.6"/><circle cx="639.8" cy="430.2" r="5.6"/><circle cx="614.6" cy="449.0" r="5.6"/><circle cx="567.6" cy="474.9" r="5.6"/><circle cx="608.2" cy="472.4" r="5.6"/><circle cx="553.1" cy="514.0" r="5.6"/><circle cx="672.7" cy="406.6" r="5.6"/><circle cx="610.7" cy="499.2" r="5.6"/><circle cx="665.4" cy="418.2" r="5.6"/><circle cx="575.9" cy="501.7" r="5.6"/><circle cx="659.9" cy="388.1" r="5.6"/><circle cx="585.0" cy="472.4" r="5.6"/><circle cx="649.0" cy="455.0" r="5.6"/><circle cx="637.0" cy="383.2" r="5.6"/><circle cx="689.8" cy="355.9" r="5.6"/><circle cx="669.5" cy="418.0" r="5.6"/><circle cx="597.7" cy="478.6" r="5.6"/><circle cx="556.9" cy="493.0" r="5.6"/><circle cx="648.3" cy="418.2" r="5.6"/><circle cx="609.3" cy="458.3" r="5.6"/><circle cx="598.6" cy="472.8" r="5.6"/><circle cx="693.1" cy="360.3" r="5.6"/><circle cx="612.8" cy="454.3" r="5.6"/><circle cx="681.9" cy="454.3" r="5.6"/><circle cx="583.5" cy="521.9" r="5.6"/><circle cx="593.5" cy="481.5" r="5.6"/><circle cx="665.1" cy="450.8" r="5.6"/><circle cx="582.1" cy="522.3" r="5.6"/><circle cx="580.4" cy="526.6" r="5.6"/><circle cx="565.7" cy="532.0" r="5.6"/><circle cx="587.1" cy="516.4" r="5.6"/><circle cx="601.2" cy="477.9" r="5.6"/><circle cx="523.6" cy="552.6" r="5.6"/><circle cx="546.1" cy="540.2" r="5.6"/><circle cx="621.8" cy="449.6" r="5.6"/><circle cx="655.4" cy="448.3" r="5.6"/><circle cx="607.4" cy="470.8" r="5.6"/><circle cx="605.4" cy="517.4" r="5.6"/><circle cx="591.4" cy="494.6" r="5.6"/><circle cx="587.4" cy="493.6" r="5.6"/><circle cx="641.8" cy="449.0" r="5.6"/><circle cx="610.4" cy="533.9" r="5.6"/><circle cx="592.7" cy="486.3" r="5.6"/><circle cx="549.8" cy="523.2" r="5.6"/><circle cx="613.9" cy="519.1" r="5.6"/><circle cx="563.5" cy="578.4" r="5.6"/><circle cx="663.7" cy="446.0" r="5.6"/><circle cx="572.7" cy="520.7" r="5.6"/><circle cx="500.9" cy="579.7" r="5.6"/><circle cx="634.5" cy="493.1" r="5.6"/><circle cx="601.1" cy="479.5" r="5.6"/><circle cx="621.5" cy="517.2" r="5.6"/><circle cx="605.8" cy="487.5" r="5.6"/><circle cx="601.1" cy="491.1" r="5.6"/><circle cx="651.5" cy="449.6" r="5.6"/><circle cx="578.1" cy="541.8" r="5.6"/><circle cx="559.7" cy="518.2" r="5.6"/><circle cx="539.7" cy="544.1" r="5.6"/><circle cx="627.1" cy="489.3" r="5.6"/><circle cx="716.8" cy="362.7" r="5.6"/><circle cx="584.1" cy="518.2" r="5.6"/><circle cx="631.6" cy="453.6" r="5.6"/><circle cx="739.6" cy="366.1" r="5.6"/><circle cx="579.1" cy="550.2" r="5.6"/><circle cx="537.6" cy="556.8" r="5.6"/><circle cx="586.5" cy="498.5" r="5.6"/><circle cx="594.2" cy="500.0" r="5.6"/><circle cx="586.2" cy="561.2" r="5.6"/><circle cx="604.2" cy="470.0" r="5.6"/><circle cx="626.8" cy="500.7" r="5.6"/><circle cx="598.9" cy="531.9" r="5.6"/><circle cx="671.0" cy="436.3" r="5.6"/><circle cx="644.2" cy="441.4" r="5.6"/><circle cx="588.4" cy="502.9" r="5.6"/><circle cx="625.5" cy="453.1" r="5.6"/><circle cx="638.6" cy="443.7" r="5.6"/><circle cx="641.5" cy="453.9" r="5.6"/><circle cx="675.2" cy="419.2" r="5.6"/><circle cx="534.9" cy="571.6" r="5.6"/><circle cx="612.4" cy="480.0" r="5.6"/><circle cx="592.2" cy="483.1" r="5.6"/><circle cx="539.7" cy="527.7" r="5.6"/><circle cx="635.1" cy="450.1" r="5.6"/><circle cx="575.1" cy="513.7" r="5.6"/><circle cx="687.8" cy="460.0" r="5.6"/><circle cx="615.4" cy="472.4" r="5.6"/><circle cx="650.6" cy="443.2" r="5.6"/><circle cx="619.6" cy="460.2" r="5.6"/><circle cx="630.7" cy="461.1" r="5.6"/><circle cx="560.4" cy="566.8" r="5.6"/><circle cx="567.6" cy="531.1" r="5.6"/><circle cx="611.6" cy="484.1" r="5.6"/><circle cx="631.9" cy="489.0" r="5.6"/><circle cx="560.6" cy="543.2" r="5.6"/><circle cx="580.3" cy="489.5" r="5.6"/><circle cx="566.9" cy="550.2" r="5.6"/><circle cx="561.5" cy="541.1" r="5.6"/><circle cx="591.7" cy="491.8" r="5.6"/><circle cx="553.1" cy="525.7" r="5.6"/><circle cx="661.4" cy="470.9" r="5.6"/><circle cx="641.6" cy="470.0" r="5.6"/><circle cx="645.7" cy="443.3" r="5.6"/><circle cx="711.4" cy="393.4" r="5.6"/><circle cx="616.6" cy="517.9" r="5.6"/><circle cx="593.1" cy="486.9" r="5.6"/><circle cx="583.6" cy="521.9" r="5.6"/><circle cx="516.9" cy="602.6" r="5.6"/><circle cx="615.1" cy="475.1" r="5.6"/><circle cx="562.5" cy="542.3" r="5.6"/><circle cx="566.4" cy="519.0" r="5.6"/><circle cx="642.6" cy="434.3" r="5.6"/><circle cx="582.4" cy="493.1" r="5.6"/><circle cx="659.2" cy="436.0" r="5.6"/><circle cx="648.6" cy="489.8" r="5.6"/><circle cx="523.3" cy="601.6" r="5.6"/><circle cx="644.9" cy="435.9" r="5.6"/><circle cx="618.5" cy="506.0" r="5.6"/><circle cx="552.7" cy="526.9" r="5.6"/><circle cx="542.0" cy="526.1" r="5.6"/><circle cx="633.9" cy="444.8" r="5.6"/><circle cx="593.8" cy="501.2" r="5.6"/><circle cx="547.4" cy="525.1" r="5.6"/><circle cx="541.9" cy="549.3" r="5.6"/><circle cx="558.1" cy="535.7" r="5.6"/><circle cx="675.9" cy="444.8" r="5.6"/><circle cx="625.8" cy="469.8" r="5.6"/><circle cx="561.7" cy="523.3" r="5.6"/><circle cx="629.0" cy="464.0" r="5.6"/><circle cx="617.2" cy="512.8" r="5.6"/><circle cx="609.5" cy="480.4" r="5.6"/><circle cx="596.5" cy="535.0" r="5.6"/><circle cx="606.1" cy="478.6" r="5.6"/><circle cx="624.8" cy="451.8" r="5.6"/><circle cx="491.5" cy="619.5" r="5.6"/><circle cx="556.7" cy="514.1" r="5.6"/><circle cx="550.5" cy="522.0" r="5.6"/><circle cx="616.3" cy="491.4" r="5.6"/><circle cx="601.6" cy="470.3" r="5.6"/><circle cx="579.3" cy="557.1" r="5.6"/><circle cx="640.9" cy="436.5" r="5.6"/><circle cx="575.7" cy="500.4" r="5.6"/><circle cx="570.5" cy="551.9" r="5.6"/><circle cx="582.3" cy="487.4" r="5.6"/><circle cx="595.4" cy="477.1" r="5.6"/><circle cx="475.4" cy="610.6" r="5.6"/><circle cx="696.4" cy="378.9" r="5.6"/><circle cx="595.7" cy="477.2" r="5.6"/><circle cx="596.0" cy="479.0" r="5.6"/><circle cx="568.9" cy="513.1" r="5.6"/><circle cx="628.2" cy="456.2" r="5.6"/><circle cx="637.9" cy="437.0" r="5.6"/><circle cx="588.4" cy="512.7" r="5.6"/><circle cx="595.8" cy="498.6" r="5.6"/><circle cx="656.7" cy="417.9" r="5.6"/><circle cx="653.2" cy="432.3" r="5.6"/><circle cx="632.0" cy="456.3" r="5.6"/><circle cx="540.0" cy="545.8" r="5.6"/><circle cx="582.3" cy="529.0" r="5.6"/><circle cx="592.2" cy="495.1" r="5.6"/><circle cx="658.8" cy="480.1" r="5.6"/><circle cx="620.8" cy="474.9" r="5.6"/><circle cx="575.1" cy="536.9" r="5.6"/><circle cx="583.2" cy="519.6" r="5.6"/><circle cx="627.7" cy="502.1" r="5.6"/><circle cx="605.9" cy="523.9" r="5.6"/><circle cx="531.2" cy="563.4" r="5.6"/><circle cx="612.4" cy="481.1" r="5.6"/><circle cx="628.1" cy="452.1" r="5.6"/><circle cx="616.7" cy="486.3" r="5.6"/><circle cx="519.1" cy="564.2" r="5.6"/><circle cx="605.7" cy="479.5" r="5.6"/><circle cx="561.3" cy="529.7" r="5.6"/><circle cx="536.4" cy="552.0" r="5.6"/><circle cx="610.3" cy="480.7" r="5.6"/><circle cx="615.2" cy="488.7" r="5.6"/><circle cx="612.4" cy="465.0" r="5.6"/><circle cx="605.9" cy="470.0" r="5.6"/><circle cx="568.4" cy="516.5" r="5.6"/><circle cx="514.9" cy="557.2" r="5.6"/><circle cx="647.9" cy="437.3" r="5.6"/><circle cx="638.1" cy="459.8" r="5.6"/><circle cx="543.9" cy="576.2" r="5.6"/><circle cx="651.3" cy="441.2" r="5.6"/><circle cx="602.5" cy="478.0" r="5.6"/><circle cx="611.7" cy="495.0" r="5.6"/><circle cx="492.7" cy="620.6" r="5.6"/><circle cx="567.2" cy="537.6" r="5.6"/><circle cx="587.2" cy="505.3" r="5.6"/><circle cx="569.5" cy="501.0" r="5.6"/><circle cx="607.8" cy="467.3" r="5.6"/><circle cx="653.7" cy="438.9" r="5.6"/><circle cx="689.8" cy="382.6" r="5.6"/><circle cx="669.9" cy="436.6" r="5.6"/><circle cx="505.0" cy="598.3" r="5.6"/><circle cx="648.6" cy="466.1" r="5.6"/><circle cx="552.6" cy="529.3" r="5.6"/><circle cx="551.2" cy="544.0" r="5.6"/><circle cx="650.7" cy="426.7" r="5.6"/><circle cx="579.5" cy="548.8" r="5.6"/><circle cx="599.8" cy="540.5" r="5.6"/><circle cx="528.4" cy="606.7" r="5.6"/><circle cx="569.8" cy="526.3" r="5.6"/><circle cx="590.5" cy="539.0" r="5.6"/><circle cx="629.4" cy="484.7" r="5.6"/><circle cx="640.9" cy="502.1" r="5.6"/><circle cx="641.9" cy="430.2" r="5.6"/><circle cx="478.0" cy="631.1" r="5.6"/><circle cx="578.0" cy="554.0" r="5.6"/><circle cx="572.2" cy="536.7" r="5.6"/><circle cx="554.1" cy="514.4" r="5.6"/><circle cx="603.5" cy="486.2" r="5.6"/><circle cx="582.9" cy="503.7" r="5.6"/><circle cx="548.2" cy="529.9" r="5.6"/><circle cx="544.5" cy="573.7" r="5.6"/><circle cx="591.3" cy="481.6" r="5.6"/><circle cx="758.4" cy="337.8" r="5.6"/><circle cx="665.8" cy="434.1" r="5.6"/><circle cx="520.4" cy="550.6" r="5.6"/><circle cx="588.9" cy="481.0" r="5.6"/><circle cx="595.3" cy="531.1" r="5.6"/><circle cx="583.6" cy="532.3" r="5.6"/><circle cx="663.8" cy="427.9" r="5.6"/><circle cx="562.1" cy="517.5" r="5.6"/><circle cx="580.3" cy="488.8" r="5.6"/><circle cx="633.5" cy="484.5" r="5.6"/><circle cx="608.3" cy="503.3" r="5.6"/><circle cx="617.3" cy="452.4" r="5.6"/><circle cx="549.4" cy="525.0" r="5.6"/><circle cx="570.1" cy="512.2" r="5.6"/><circle cx="637.7" cy="467.7" r="5.6"/><circle cx="606.9" cy="510.3" r="5.6"/><circle cx="688.8" cy="400.5" r="5.6"/><circle cx="501.1" cy="582.5" r="5.6"/><circle cx="545.7" cy="528.8" r="5.6"/><circle cx="638.8" cy="470.6" r="5.6"/><circle cx="661.2" cy="433.2" r="5.6"/><circle cx="633.5" cy="500.0" r="5.6"/><circle cx="623.6" cy="451.7" r="5.6"/><circle cx="569.0" cy="520.0" r="5.6"/><circle cx="578.9" cy="533.8" r="5.6"/><circle cx="540.9" cy="541.1" r="5.6"/><circle cx="578.1" cy="510.0" r="5.6"/><circle cx="527.0" cy="593.3" r="5.6"/><circle cx="597.0" cy="501.4" r="5.6"/><circle cx="565.5" cy="522.2" r="5.6"/><circle cx="583.2" cy="536.7" r="5.6"/><circle cx="633.4" cy="457.0" r="5.6"/><circle cx="613.3" cy="475.2" r="5.6"/><circle cx="552.7" cy="560.7" r="5.6"/><circle cx="628.9" cy="499.7" r="5.6"/><circle cx="594.0" cy="500.0" r="5.6"/><circle cx="559.9" cy="519.4" r="5.6"/><circle cx="520.9" cy="567.1" r="5.6"/><circle cx="657.8" cy="421.7" r="5.6"/><circle cx="564.2" cy="521.5" r="5.6"/><circle cx="636.9" cy="450.7" r="5.6"/><circle cx="574.1" cy="529.7" r="5.6"/><circle cx="611.6" cy="477.7" r="5.6"/><circle cx="558.7" cy="536.6" r="5.6"/><circle cx="604.1" cy="467.7" r="5.6"/><circle cx="568.4" cy="502.9" r="5.6"/><circle cx="568.6" cy="500.6" r="5.6"/><circle cx="665.1" cy="407.7" r="5.6"/><circle cx="628.3" cy="469.2" r="5.6"/><circle cx="587.2" cy="492.8" r="5.6"/><circle cx="597.5" cy="527.9" r="5.6"/><circle cx="647.5" cy="505.1" r="5.6"/><circle cx="559.6" cy="517.2" r="5.6"/><circle cx="605.2" cy="507.1" r="5.6"/><circle cx="596.8" cy="525.1" r="5.6"/><circle cx="537.6" cy="574.4" r="5.6"/><circle cx="640.0" cy="447.3" r="5.6"/><circle cx="573.8" cy="499.1" r="5.6"/><circle cx="491.8" cy="620.7" r="5.6"/><circle cx="612.7" cy="516.0" r="5.6"/><circle cx="582.6" cy="506.0" r="5.6"/><circle cx="495.7" cy="613.3" r="5.6"/><circle cx="577.4" cy="515.8" r="5.6"/><circle cx="661.7" cy="419.5" r="5.6"/><circle cx="611.6" cy="493.1" r="5.6"/><circle cx="546.9" cy="550.6" r="5.6"/><circle cx="626.3" cy="451.7" r="5.6"/><circle cx="602.6" cy="489.0" r="5.6"/><circle cx="614.1" cy="486.9" r="5.6"/><circle cx="619.9" cy="450.8" r="5.6"/><circle cx="550.2" cy="521.3" r="5.6"/><circle cx="562.6" cy="538.1" r="5.6"/><circle cx="687.8" cy="451.6" r="5.6"/><circle cx="649.5" cy="426.3" r="5.6"/><circle cx="655.6" cy="415.0" r="5.6"/><circle cx="577.9" cy="533.8" r="5.6"/><circle cx="584.5" cy="497.5" r="5.6"/><circle cx="619.8" cy="475.8" r="5.6"/><circle cx="644.4" cy="503.3" r="5.6"/><circle cx="565.6" cy="514.0" r="5.6"/><circle cx="685.3" cy="390.0" r="5.6"/><circle cx="516.0" cy="558.6" r="5.6"/><circle cx="604.1" cy="513.5" r="5.6"/><circle cx="576.6" cy="526.5" r="5.6"/><circle cx="481.0" cy="590.1" r="5.6"/><circle cx="605.7" cy="470.2" r="5.6"/><circle cx="583.3" cy="492.1" r="5.6"/><circle cx="534.3" cy="541.4" r="5.6"/><circle cx="575.1" cy="501.0" r="5.6"/><circle cx="617.9" cy="452.2" r="5.6"/><circle cx="647.1" cy="465.8" r="5.6"/><circle cx="563.0" cy="521.3" r="5.6"/><circle cx="617.1" cy="509.4" r="5.6"/><circle cx="528.3" cy="558.6" r="5.6"/><circle cx="613.2" cy="478.4" r="5.6"/><circle cx="566.4" cy="542.2" r="5.6"/><circle cx="610.6" cy="479.5" r="5.6"/><circle cx="676.3" cy="415.7" r="5.6"/><circle cx="652.9" cy="433.3" r="5.6"/><circle cx="524.8" cy="555.0" r="5.6"/><circle cx="602.3" cy="487.5" r="5.6"/><circle cx="546.7" cy="565.5" r="5.6"/><circle cx="579.8" cy="523.5" r="5.6"/><circle cx="648.2" cy="422.8" r="5.6"/><circle cx="534.7" cy="556.0" r="5.6"/><circle cx="660.4" cy="428.6" r="5.6"/><circle cx="632.2" cy="450.2" r="5.6"/><circle cx="551.8" cy="524.5" r="5.6"/><circle cx="627.9" cy="450.5" r="5.6"/><circle cx="580.0" cy="535.1" r="5.6"/><circle cx="583.3" cy="516.2" r="5.6"/><circle cx="688.8" cy="407.1" r="5.6"/><circle cx="622.4" cy="449.5" r="5.6"/><circle cx="615.2" cy="465.7" r="5.6"/><circle cx="644.4" cy="444.6" r="5.6"/><circle cx="574.2" cy="514.3" r="5.6"/><circle cx="651.7" cy="436.9" r="5.6"/><circle cx="612.4" cy="501.6" r="5.6"/><circle cx="561.5" cy="508.1" r="5.6"/><circle cx="593.7" cy="525.7" r="5.6"/><circle cx="620.1" cy="512.7" r="5.6"/><circle cx="608.7" cy="473.8" r="5.6"/><circle cx="673.5" cy="437.0" r="5.6"/><circle cx="654.4" cy="416.3" r="5.6"/><circle cx="626.8" cy="477.5" r="5.6"/><circle cx="590.7" cy="500.2" r="5.6"/><circle cx="630.3" cy="442.7" r="5.6"/><circle cx="613.8" cy="482.2" r="5.6"/><circle cx="608.6" cy="476.7" r="5.6"/><circle cx="554.2" cy="535.1" r="5.6"/><circle cx="553.3" cy="520.1" r="5.6"/><circle cx="576.9" cy="557.4" r="5.6"/><circle cx="526.5" cy="576.0" r="5.6"/><circle cx="558.1" cy="550.4" r="5.6"/><circle cx="574.9" cy="511.2" r="5.6"/><circle cx="642.3" cy="496.2" r="5.6"/><circle cx="590.7" cy="546.6" r="5.6"/><circle cx="697.9" cy="399.9" r="5.6"/><circle cx="705.3" cy="382.5" r="5.6"/><circle cx="607.5" cy="482.3" r="5.6"/><circle cx="628.9" cy="459.9" r="5.6"/><circle cx="601.2" cy="484.9" r="5.6"/><circle cx="607.9" cy="495.2" r="5.6"/><circle cx="623.6" cy="455.9" r="5.6"/><circle cx="634.0" cy="438.4" r="5.6"/><circle cx="589.0" cy="493.8" r="5.6"/><circle cx="561.0" cy="562.1" r="5.6"/><circle cx="657.2" cy="435.3" r="5.6"/><circle cx="541.9" cy="559.6" r="5.6"/><circle cx="654.1" cy="461.8" r="5.6"/><circle cx="717.9" cy="355.3" r="5.6"/><circle cx="601.3" cy="484.6" r="5.6"/><circle cx="612.1" cy="471.4" r="5.6"/><circle cx="582.5" cy="487.6" r="5.6"/><circle cx="532.8" cy="550.8" r="5.6"/><circle cx="582.8" cy="495.4" r="5.6"/><circle cx="524.9" cy="557.1" r="5.6"/><circle cx="631.5" cy="450.1" r="5.6"/><circle cx="581.0" cy="552.4" r="5.6"/><circle cx="637.2" cy="454.5" r="5.6"/><circle cx="578.5" cy="510.6" r="5.6"/><circle cx="568.7" cy="533.3" r="5.6"/><circle cx="637.7" cy="487.0" r="5.6"/><circle cx="559.0" cy="526.9" r="5.6"/><circle cx="625.1" cy="506.5" r="5.6"/><circle cx="693.9" cy="412.9" r="5.6"/><circle cx="533.3" cy="598.0" r="5.6"/><circle cx="619.4" cy="476.2" r="5.6"/><circle cx="579.3" cy="542.5" r="5.6"/><circle cx="611.3" cy="522.9" r="5.6"/><circle cx="640.2" cy="442.0" r="5.6"/><circle cx="596.1" cy="515.1" r="5.6"/><circle cx="539.4" cy="569.3" r="5.6"/><circle cx="637.0" cy="447.7" r="5.6"/><circle cx="600.8" cy="491.8" r="5.6"/><circle cx="686.6" cy="401.3" r="5.6"/><circle cx="630.9" cy="439.3" r="5.6"/><circle cx="600.1" cy="469.2" r="5.6"/><circle cx="631.8" cy="449.8" r="5.6"/><circle cx="650.6" cy="440.6" r="5.6"/><circle cx="541.1" cy="547.9" r="5.6"/><circle cx="567.9" cy="506.4" r="5.6"/><circle cx="627.7" cy="452.3" r="5.6"/><circle cx="626.2" cy="457.1" r="5.6"/><circle cx="572.7" cy="570.8" r="5.6"/><circle cx="611.0" cy="494.2" r="5.6"/><circle cx="636.4" cy="515.9" r="5.6"/><circle cx="608.4" cy="529.1" r="5.6"/><circle cx="552.9" cy="515.1" r="5.6"/><circle cx="571.9" cy="573.5" r="5.6"/><circle cx="593.4" cy="486.2" r="5.6"/><circle cx="569.6" cy="514.5" r="5.6"/><circle cx="621.4" cy="486.7" r="5.6"/><circle cx="620.9" cy="488.4" r="5.6"/><circle cx="532.5" cy="556.0" r="5.6"/><circle cx="614.6" cy="472.9" r="5.6"/><circle cx="634.2" cy="450.3" r="5.6"/><circle cx="643.0" cy="429.2" r="5.6"/><circle cx="610.5" cy="468.4" r="5.6"/><circle cx="571.6" cy="506.8" r="5.6"/><circle cx="678.8" cy="415.2" r="5.6"/><circle cx="632.9" cy="517.0" r="5.6"/><circle cx="622.9" cy="464.5" r="5.6"/><circle cx="626.7" cy="472.2" r="5.6"/><circle cx="649.8" cy="439.6" r="5.6"/><circle cx="577.4" cy="533.0" r="5.6"/><circle cx="513.9" cy="554.0" r="5.6"/><circle cx="549.7" cy="520.1" r="5.6"/><circle cx="678.5" cy="425.4" r="5.6"/><circle cx="575.2" cy="537.3" r="5.6"/><circle cx="620.8" cy="463.1" r="5.6"/><circle cx="619.4" cy="501.5" r="5.6"/><circle cx="666.9" cy="425.3" r="5.6"/><circle cx="599.5" cy="476.1" r="5.6"/><circle cx="649.9" cy="455.8" r="5.6"/><circle cx="660.0" cy="436.0" r="5.6"/><circle cx="575.1" cy="537.1" r="5.6"/><circle cx="587.0" cy="525.5" r="5.6"/><circle cx="600.3" cy="486.8" r="5.6"/><circle cx="571.8" cy="529.8" r="5.6"/><circle cx="604.0" cy="485.2" r="5.6"/><circle cx="593.7" cy="478.7" r="5.6"/><circle cx="670.0" cy="425.5" r="5.6"/><circle cx="623.4" cy="457.8" r="5.6"/><circle cx="647.0" cy="439.9" r="5.6"/><circle cx="669.8" cy="410.5" r="5.6"/><circle cx="690.6" cy="415.9" r="5.6"/><circle cx="573.8" cy="498.8" r="5.6"/><circle cx="668.7" cy="428.7" r="5.6"/><circle cx="680.3" cy="392.1" r="5.6"/><circle cx="571.5" cy="511.8" r="5.6"/><circle cx="520.4" cy="597.4" r="5.6"/><circle cx="618.0" cy="483.9" r="5.6"/><circle cx="605.6" cy="478.2" r="5.6"/><circle cx="582.7" cy="517.6" r="5.6"/><circle cx="625.0" cy="453.0" r="5.6"/><circle cx="556.1" cy="551.0" r="5.6"/><circle cx="592.8" cy="480.4" r="5.6"/><circle cx="587.0" cy="522.3" r="5.6"/><circle cx="548.0" cy="551.6" r="5.6"/><circle cx="626.0" cy="447.4" r="5.6"/><circle cx="626.2" cy="463.6" r="5.6"/><circle cx="646.1" cy="442.4" r="5.6"/><circle cx="554.1" cy="520.1" r="5.6"/><circle cx="603.6" cy="495.6" r="5.6"/><circle cx="475.8" cy="599.7" r="5.6"/><circle cx="566.8" cy="527.8" r="5.6"/><circle cx="588.8" cy="538.4" r="5.6"/><circle cx="638.9" cy="482.3" r="5.6"/><circle cx="619.5" cy="509.8" r="5.6"/><circle cx="713.1" cy="375.6" r="5.6"/><circle cx="577.7" cy="514.4" r="5.6"/><circle cx="578.2" cy="494.0" r="5.6"/><circle cx="607.4" cy="467.4" r="5.6"/><circle cx="679.3" cy="413.5" r="5.6"/><circle cx="572.9" cy="532.4" r="5.6"/><circle cx="611.3" cy="495.0" r="5.6"/><circle cx="625.3" cy="448.8" r="5.6"/><circle cx="600.7" cy="476.2" r="5.6"/><circle cx="543.9" cy="548.5" r="5.6"/><circle cx="602.9" cy="505.3" r="5.6"/><circle cx="572.9" cy="502.0" r="5.6"/><circle cx="538.4" cy="573.6" r="5.6"/><circle cx="617.5" cy="483.9" r="5.6"/><circle cx="615.6" cy="455.4" r="5.6"/><circle cx="647.2" cy="458.9" r="5.6"/><circle cx="563.7" cy="506.2" r="5.6"/><circle cx="559.5" cy="514.1" r="5.6"/><circle cx="645.3" cy="441.9" r="5.6"/><circle cx="614.2" cy="461.1" r="5.6"/><circle cx="566.3" cy="514.7" r="5.6"/><circle cx="562.2" cy="524.4" r="5.6"/><circle cx="626.2" cy="501.8" r="5.6"/><circle cx="521.9" cy="549.8" r="5.6"/><circle cx="572.6" cy="499.4" r="5.6"/><circle cx="561.8" cy="528.4" r="5.6"/><circle cx="715.2" cy="423.5" r="5.6"/><circle cx="688.3" cy="408.4" r="5.6"/><circle cx="505.4" cy="601.4" r="5.6"/><circle cx="531.7" cy="536.9" r="5.6"/><circle cx="608.7" cy="473.8" r="5.6"/><circle cx="642.5" cy="432.0" r="5.6"/><circle cx="592.6" cy="481.3" r="5.6"/><circle cx="559.7" cy="571.6" r="5.6"/><circle cx="589.8" cy="522.4" r="5.6"/><circle cx="601.8" cy="501.7" r="5.6"/><circle cx="532.2" cy="541.2" r="5.6"/><circle cx="526.8" cy="596.0" r="5.6"/><circle cx="506.8" cy="578.6" r="5.6"/><circle cx="658.4" cy="419.5" r="5.6"/><circle cx="628.7" cy="463.2" r="5.6"/><circle cx="627.5" cy="448.6" r="5.6"/><circle cx="587.8" cy="545.4" r="5.6"/><circle cx="655.5" cy="415.7" r="5.6"/><circle cx="594.3" cy="493.8" r="5.6"/><circle cx="625.1" cy="446.1" r="5.6"/><circle cx="629.7" cy="450.9" r="5.6"/><circle cx="624.2" cy="460.9" r="5.6"/><circle cx="585.1" cy="506.2" r="5.6"/><circle cx="558.5" cy="567.0" r="5.6"/><circle cx="615.7" cy="485.0" r="5.6"/><circle cx="620.9" cy="488.7" r="5.6"/><circle cx="624.9" cy="473.5" r="5.6"/><circle cx="591.5" cy="496.5" r="5.6"/><circle cx="539.5" cy="546.6" r="5.6"/><circle cx="569.1" cy="516.3" r="5.6"/><circle cx="698.3" cy="379.5" r="5.6"/><circle cx="598.7" cy="486.4" r="5.6"/><circle cx="594.2" cy="511.6" r="5.6"/><circle cx="626.2" cy="458.2" r="5.6"/><circle cx="636.5" cy="438.7" r="5.6"/><circle cx="552.3" cy="537.3" r="5.6"/><circle cx="621.5" cy="462.5" r="5.6"/><circle cx="601.7" cy="479.5" r="5.6"/><circle cx="606.9" cy="473.1" r="5.6"/><circle cx="613.4" cy="470.7" r="5.6"/><circle cx="500.3" cy="578.5" r="5.6"/><circle cx="562.7" cy="537.5" r="5.6"/><circle cx="608.1" cy="462.7" r="5.6"/><circle cx="615.4" cy="528.3" r="5.6"/><circle cx="693.9" cy="393.1" r="5.6"/><circle cx="636.4" cy="456.6" r="5.6"/><circle cx="709.2" cy="376.9" r="5.6"/><circle cx="541.6" cy="563.1" r="5.6"/><circle cx="646.8" cy="429.5" r="5.6"/><circle cx="709.4" cy="367.2" r="5.6"/><circle cx="656.8" cy="472.0" r="5.6"/><circle cx="639.2" cy="440.2" r="5.6"/><circle cx="616.3" cy="461.7" r="5.6"/><circle cx="660.2" cy="420.7" r="5.6"/><circle cx="593.2" cy="495.2" r="5.6"/><circle cx="533.9" cy="552.2" r="5.6"/><circle cx="543.0" cy="547.7" r="5.6"/><circle cx="463.8" cy="641.5" r="5.6"/><circle cx="585.1" cy="485.2" r="5.6"/><circle cx="604.3" cy="487.4" r="5.6"/><circle cx="483.0" cy="593.6" r="5.6"/><circle cx="665.5" cy="408.5" r="5.6"/><circle cx="600.2" cy="469.7" r="5.6"/><circle cx="546.5" cy="522.9" r="5.6"/><circle cx="546.9" cy="582.7" r="5.6"/><circle cx="568.7" cy="502.6" r="5.6"/><circle cx="646.4" cy="506.1" r="5.6"/><circle cx="633.4" cy="483.5" r="5.6"/><circle cx="601.4" cy="513.5" r="5.6"/><circle cx="614.1" cy="477.6" r="5.6"/><circle cx="573.4" cy="508.9" r="5.6"/><circle cx="571.3" cy="497.1" r="5.6"/><circle cx="624.1" cy="472.5" r="5.6"/><circle cx="607.7" cy="466.6" r="5.6"/><circle cx="616.5" cy="461.7" r="5.6"/><circle cx="592.7" cy="521.7" r="5.6"/><circle cx="656.2" cy="433.4" r="5.6"/><circle cx="632.2" cy="446.0" r="5.6"/><circle cx="594.0" cy="505.1" r="5.6"/><circle cx="670.5" cy="420.9" r="5.6"/><circle cx="539.7" cy="568.4" r="5.6"/><circle cx="483.3" cy="594.6" r="5.6"/><circle cx="622.0" cy="473.4" r="5.6"/><circle cx="614.0" cy="517.6" r="5.6"/><circle cx="606.7" cy="502.7" r="5.6"/><circle cx="703.1" cy="379.6" r="5.6"/><circle cx="600.5" cy="481.6" r="5.6"/><circle cx="543.0" cy="529.4" r="5.6"/><circle cx="664.0" cy="472.2" r="5.6"/><circle cx="537.2" cy="531.1" r="5.6"/><circle cx="549.2" cy="527.3" r="5.6"/><circle cx="733.8" cy="354.4" r="5.6"/><circle cx="624.9" cy="470.5" r="5.6"/><circle cx="593.5" cy="516.7" r="5.6"/><circle cx="626.4" cy="471.0" r="5.6"/><circle cx="553.9" cy="520.7" r="5.6"/><circle cx="670.1" cy="446.5" r="5.6"/><circle cx="550.2" cy="531.3" r="5.6"/><circle cx="611.2" cy="466.3" r="5.6"/><circle cx="504.1" cy="570.9" r="5.6"/><circle cx="614.0" cy="497.9" r="5.6"/><circle cx="635.6" cy="517.8" r="5.6"/><circle cx="691.9" cy="432.2" r="5.6"/><circle cx="656.5" cy="464.3" r="5.6"/><circle cx="586.3" cy="502.1" r="5.6"/><circle cx="600.1" cy="542.5" r="5.6"/><circle cx="610.4" cy="480.7" r="5.6"/><circle cx="580.5" cy="495.1" r="5.6"/><circle cx="564.0" cy="541.3" r="5.6"/><circle cx="598.9" cy="476.8" r="5.6"/><circle cx="666.2" cy="424.2" r="5.6"/><circle cx="528.4" cy="559.3" r="5.6"/><circle cx="603.3" cy="466.5" r="5.6"/><circle cx="669.4" cy="474.1" r="5.6"/><circle cx="553.4" cy="570.3" r="5.6"/><circle cx="493.4" cy="575.9" r="5.6"/><circle cx="609.2" cy="519.3" r="5.6"/><circle cx="505.4" cy="592.6" r="5.6"/><circle cx="621.4" cy="482.4" r="5.6"/><circle cx="580.7" cy="517.3" r="5.6"/><circle cx="615.0" cy="509.2" r="5.6"/><circle cx="532.0" cy="562.5" r="5.6"/><circle cx="518.2" cy="557.3" r="5.6"/><circle cx="683.8" cy="462.9" r="5.6"/><circle cx="678.0" cy="403.6" r="5.6"/><circle cx="630.7" cy="479.8" r="5.6"/><circle cx="591.3" cy="480.1" r="5.6"/><circle cx="579.9" cy="512.1" r="5.6"/><circle cx="532.3" cy="579.5" r="5.6"/><circle cx="589.7" cy="499.4" r="5.6"/><circle cx="670.0" cy="451.4" r="5.6"/><circle cx="579.3" cy="511.5" r="5.6"/><circle cx="623.4" cy="457.1" r="5.6"/><circle cx="631.3" cy="451.7" r="5.6"/><circle cx="582.8" cy="502.5" r="5.6"/><circle cx="557.1" cy="513.0" r="5.6"/><circle cx="638.4" cy="432.2" r="5.6"/><circle cx="476.9" cy="613.8" r="5.6"/><circle cx="637.4" cy="464.3" r="5.6"/><circle cx="577.2" cy="495.9" r="5.6"/><circle cx="557.4" cy="523.9" r="5.6"/><circle cx="639.1" cy="476.8" r="5.6"/><circle cx="541.4" cy="544.4" r="5.6"/><circle cx="600.2" cy="501.8" r="5.6"/><circle cx="566.8" cy="525.4" r="5.6"/><circle cx="521.6" cy="552.7" r="5.6"/><circle cx="572.7" cy="509.8" r="5.6"/><circle cx="624.6" cy="499.4" r="5.6"/><circle cx="557.2" cy="533.1" r="5.6"/><circle cx="643.0" cy="466.0" r="5.6"/><circle cx="499.7" cy="568.1" r="5.6"/><circle cx="631.7" cy="448.4" r="5.6"/><circle cx="660.6" cy="425.3" r="5.6"/><circle cx="538.6" cy="553.1" r="5.6"/><circle cx="611.0" cy="524.2" r="5.6"/><circle cx="536.9" cy="591.1" r="5.6"/><circle cx="504.7" cy="569.6" r="5.6"/><circle cx="656.9" cy="429.1" r="5.6"/><circle cx="545.1" cy="577.5" r="5.6"/><circle cx="512.7" cy="610.0" r="5.6"/><circle cx="603.7" cy="480.6" r="5.6"/><circle cx="596.8" cy="475.7" r="5.6"/><circle cx="568.7" cy="542.3" r="5.6"/><circle cx="618.1" cy="522.3" r="5.6"/><circle cx="638.2" cy="455.8" r="5.6"/><circle cx="582.9" cy="519.6" r="5.6"/><circle cx="567.6" cy="556.1" r="5.6"/><circle cx="618.5" cy="465.6" r="5.6"/><circle cx="584.2" cy="491.0" r="5.6"/><circle cx="569.2" cy="499.1" r="5.6"/><circle cx="585.8" cy="485.8" r="5.6"/><circle cx="681.9" cy="394.1" r="5.6"/><circle cx="510.5" cy="567.7" r="5.6"/><circle cx="645.4" cy="428.3" r="5.6"/><circle cx="523.8" cy="570.1" r="5.6"/><circle cx="653.3" cy="437.4" r="5.6"/><circle cx="556.8" cy="526.3" r="5.6"/><circle cx="656.0" cy="432.2" r="5.6"/><circle cx="714.6" cy="366.4" r="5.6"/><circle cx="548.1" cy="520.8" r="5.6"/><circle cx="556.8" cy="544.4" r="5.6"/><circle cx="545.0" cy="555.3" r="5.6"/><circle cx="615.1" cy="455.4" r="5.6"/><circle cx="648.5" cy="468.9" r="5.6"/><circle cx="602.2" cy="525.2" r="5.6"/><circle cx="556.0" cy="515.5" r="5.6"/><circle cx="549.7" cy="525.1" r="5.6"/><circle cx="554.7" cy="567.5" r="5.6"/><circle cx="570.9" cy="534.7" r="5.6"/><circle cx="493.0" cy="573.8" r="5.6"/><circle cx="641.9" cy="428.3" r="5.6"/><circle cx="534.1" cy="543.8" r="5.6"/><circle cx="590.4" cy="554.7" r="5.6"/><circle cx="702.4" cy="393.0" r="5.6"/><circle cx="602.8" cy="490.3" r="5.6"/><circle cx="527.2" cy="560.0" r="5.6"/><circle cx="642.7" cy="498.4" r="5.6"/><circle cx="593.4" cy="497.2" r="5.6"/><circle cx="532.3" cy="542.5" r="5.6"/><circle cx="637.5" cy="439.8" r="5.6"/><circle cx="616.1" cy="457.1" r="5.6"/><circle cx="645.8" cy="432.1" r="5.6"/><circle cx="663.1" cy="412.7" r="5.6"/><circle cx="505.0" cy="576.7" r="5.6"/><circle cx="620.8" cy="459.3" r="5.6"/><circle cx="549.5" cy="530.7" r="5.6"/><circle cx="658.2" cy="432.4" r="5.6"/><circle cx="491.2" cy="610.6" r="5.6"/><circle cx="611.2" cy="477.0" r="5.6"/><circle cx="675.7" cy="408.7" r="5.6"/><circle cx="618.2" cy="494.9" r="5.6"/><circle cx="687.0" cy="405.3" r="5.6"/><circle cx="586.0" cy="512.4" r="5.6"/><circle cx="557.0" cy="542.0" r="5.6"/><circle cx="571.9" cy="508.9" r="5.6"/><circle cx="566.6" cy="508.3" r="5.6"/><circle cx="598.9" cy="470.9" r="5.6"/><circle cx="528.3" cy="575.6" r="5.6"/><circle cx="587.1" cy="491.8" r="5.6"/><circle cx="612.4" cy="474.0" r="5.6"/><circle cx="714.6" cy="376.8" r="5.6"/><circle cx="529.3" cy="551.6" r="5.6"/><circle cx="637.1" cy="451.4" r="5.6"/><circle cx="569.9" cy="527.6" r="5.6"/><circle cx="647.1" cy="439.6" r="5.6"/><circle cx="576.7" cy="522.8" r="5.6"/><circle cx="578.6" cy="496.8" r="5.6"/><circle cx="649.7" cy="492.0" r="5.6"/><circle cx="621.8" cy="489.7" r="5.6"/><circle cx="461.4" cy="620.5" r="5.6"/><circle cx="554.6" cy="525.6" r="5.6"/><circle cx="603.5" cy="473.2" r="5.6"/><circle cx="487.9" cy="610.0" r="5.6"/><circle cx="646.3" cy="508.1" r="5.6"/><circle cx="690.4" cy="384.4" r="5.6"/><circle cx="670.1" cy="457.1" r="5.6"/><circle cx="562.4" cy="522.4" r="5.6"/><circle cx="542.0" cy="550.2" r="5.6"/><circle cx="552.4" cy="544.2" r="5.6"/><circle cx="540.7" cy="573.1" r="5.6"/><circle cx="549.5" cy="533.1" r="5.6"/><circle cx="603.3" cy="492.4" r="5.6"/><circle cx="526.1" cy="547.5" r="5.6"/><circle cx="597.9" cy="497.9" r="5.6"/><circle cx="580.9" cy="541.9" r="5.6"/><circle cx="591.4" cy="479.0" r="5.6"/><circle cx="589.9" cy="528.9" r="5.6"/><circle cx="590.0" cy="504.5" r="5.6"/><circle cx="545.1" cy="571.7" r="5.6"/><circle cx="573.3" cy="504.3" r="5.6"/><circle cx="576.5" cy="505.3" r="5.6"/><circle cx="615.9" cy="496.9" r="5.6"/><circle cx="606.0" cy="470.6" r="5.6"/><circle cx="627.4" cy="461.5" r="5.6"/><circle cx="544.6" cy="531.1" r="5.6"/><circle cx="586.3" cy="521.5" r="5.6"/><circle cx="613.0" cy="459.9" r="5.6"/><circle cx="578.8" cy="508.4" r="5.6"/><circle cx="597.8" cy="511.5" r="5.6"/><circle cx="661.4" cy="440.4" r="5.6"/><circle cx="650.9" cy="433.1" r="5.6"/><circle cx="565.0" cy="510.7" r="5.6"/><circle cx="611.6" cy="506.3" r="5.6"/><circle cx="550.9" cy="568.3" r="5.6"/><circle cx="588.4" cy="489.1" r="5.6"/><circle cx="506.4" cy="594.9" r="5.6"/><circle cx="607.7" cy="498.3" r="5.6"/><circle cx="571.7" cy="509.4" r="5.6"/><circle cx="610.3" cy="505.4" r="5.6"/><circle cx="656.9" cy="484.7" r="5.6"/><circle cx="591.0" cy="502.2" r="5.6"/><circle cx="618.6" cy="472.8" r="5.6"/><circle cx="568.4" cy="508.1" r="5.6"/><circle cx="643.1" cy="430.4" r="5.6"/><circle cx="595.9" cy="500.7" r="5.6"/><circle cx="715.0" cy="360.0" r="5.6"/><circle cx="682.6" cy="406.0" r="5.6"/><circle cx="561.8" cy="531.2" r="5.6"/><circle cx="562.1" cy="513.2" r="5.6"/><circle cx="632.4" cy="455.1" r="5.6"/><circle cx="686.6" cy="432.1" r="5.6"/><circle cx="594.7" cy="488.5" r="5.6"/><circle cx="503.9" cy="607.4" r="5.6"/><circle cx="581.7" cy="498.0" r="5.6"/><circle cx="546.9" cy="525.8" r="5.6"/><circle cx="566.9" cy="542.3" r="5.6"/><circle cx="638.4" cy="488.5" r="5.6"/><circle cx="679.0" cy="392.8" r="5.6"/><circle cx="658.4" cy="447.0" r="5.6"/><circle cx="578.1" cy="499.3" r="5.6"/><circle cx="645.1" cy="431.4" r="5.6"/><circle cx="499.2" cy="596.3" r="5.6"/><circle cx="700.6" cy="422.0" r="5.6"/><circle cx="620.7" cy="461.5" r="5.6"/><circle cx="605.0" cy="470.5" r="5.6"/><circle cx="599.3" cy="482.0" r="5.6"/><circle cx="722.9" cy="387.6" r="5.6"/><circle cx="624.6" cy="524.0" r="5.6"/><circle cx="566.4" cy="503.6" r="5.6"/><circle cx="590.7" cy="490.0" r="5.6"/><circle cx="540.2" cy="559.7" r="5.6"/><circle cx="637.8" cy="457.3" r="5.6"/><circle cx="647.7" cy="438.1" r="5.6"/><circle cx="551.0" cy="565.9" r="5.6"/><circle cx="622.3" cy="475.9" r="5.6"/><circle cx="600.7" cy="510.6" r="5.6"/><circle cx="650.1" cy="462.6" r="5.6"/><circle cx="647.4" cy="427.6" r="5.6"/><circle cx="670.2" cy="446.6" r="5.6"/><circle cx="608.6" cy="483.5" r="5.6"/><circle cx="524.4" cy="552.4" r="5.6"/><circle cx="563.7" cy="514.1" r="5.6"/><circle cx="580.4" cy="491.9" r="5.6"/><circle cx="557.2" cy="563.0" r="5.6"/><circle cx="622.4" cy="484.9" r="5.6"/><circle cx="576.3" cy="561.6" r="5.6"/><circle cx="624.8" cy="484.2" r="5.6"/><circle cx="570.8" cy="504.1" r="5.6"/><circle cx="602.5" cy="487.7" r="5.6"/><circle cx="646.1" cy="452.3" r="5.6"/><circle cx="695.1" cy="399.7" r="5.6"/><circle cx="640.6" cy="443.6" r="5.6"/><circle cx="612.9" cy="460.4" r="5.6"/><circle cx="569.4" cy="502.5" r="5.6"/><circle cx="568.2" cy="512.4" r="5.6"/><circle cx="650.8" cy="453.9" r="5.6"/><circle cx="617.5" cy="496.0" r="5.6"/><circle cx="650.1" cy="484.3" r="5.6"/><circle cx="595.2" cy="527.3" r="5.6"/><circle cx="597.2" cy="481.3" r="5.6"/><circle cx="542.0" cy="526.4" r="5.6"/><circle cx="571.7" cy="508.2" r="5.6"/><circle cx="625.1" cy="468.4" r="5.6"/><circle cx="708.9" cy="369.4" r="5.6"/><circle cx="688.9" cy="402.7" r="5.6"/><circle cx="585.4" cy="520.3" r="5.6"/><circle cx="617.3" cy="467.9" r="5.6"/><circle cx="550.9" cy="558.4" r="5.6"/><circle cx="546.5" cy="527.9" r="5.6"/><circle cx="496.4" cy="591.0" r="5.6"/><circle cx="635.1" cy="509.6" r="5.6"/><circle cx="599.1" cy="495.6" r="5.6"/><circle cx="463.1" cy="631.8" r="5.6"/><circle cx="581.1" cy="492.4" r="5.6"/><circle cx="695.8" cy="388.3" r="5.6"/><circle cx="620.1" cy="476.0" r="5.6"/><circle cx="529.4" cy="563.8" r="5.6"/><circle cx="626.0" cy="452.2" r="5.6"/><circle cx="629.1" cy="445.6" r="5.6"/><circle cx="558.6" cy="550.5" r="5.6"/><circle cx="538.9" cy="570.7" r="5.6"/><circle cx="585.7" cy="483.1" r="5.6"/><circle cx="592.3" cy="484.3" r="5.6"/><circle cx="636.4" cy="477.0" r="5.6"/><circle cx="552.3" cy="549.3" r="5.6"/><circle cx="580.9" cy="499.3" r="5.6"/><circle cx="622.3" cy="451.3" r="5.6"/><circle cx="663.3" cy="409.2" r="5.6"/><circle cx="592.8" cy="523.2" r="5.6"/><circle cx="619.6" cy="469.2" r="5.6"/><circle cx="686.6" cy="463.1" r="5.6"/><circle cx="639.4" cy="455.1" r="5.6"/><circle cx="641.6" cy="456.4" r="5.6"/><circle cx="543.8" cy="563.0" r="5.6"/><circle cx="620.4" cy="470.4" r="5.6"/><circle cx="552.8" cy="553.8" r="5.6"/><circle cx="555.5" cy="527.2" r="5.6"/><circle cx="653.9" cy="468.7" r="5.6"/><circle cx="562.4" cy="554.0" r="5.6"/><circle cx="613.2" cy="465.9" r="5.6"/><circle cx="607.2" cy="494.5" r="5.6"/><circle cx="554.8" cy="516.3" r="5.6"/><circle cx="475.6" cy="610.3" r="5.6"/><circle cx="567.9" cy="508.6" r="5.6"/><circle cx="606.7" cy="472.9" r="5.6"/><circle cx="557.7" cy="549.8" r="5.6"/><circle cx="635.5" cy="441.6" r="5.6"/><circle cx="545.7" cy="559.0" r="5.6"/><circle cx="722.9" cy="374.9" r="5.6"/><circle cx="552.0" cy="539.4" r="5.6"/><circle cx="626.3" cy="448.8" r="5.6"/><circle cx="602.1" cy="519.7" r="5.6"/><circle cx="587.5" cy="482.9" r="5.6"/><circle cx="565.4" cy="508.3" r="5.6"/><circle cx="492.7" cy="586.8" r="5.6"/><circle cx="526.8" cy="571.4" r="5.6"/><circle cx="555.3" cy="532.2" r="5.6"/><circle cx="628.4" cy="466.9" r="5.6"/><circle cx="522.5" cy="578.5" r="5.6"/><circle cx="605.2" cy="490.2" r="5.6"/><circle cx="573.8" cy="498.6" r="5.6"/><circle cx="540.2" cy="558.2" r="5.6"/><circle cx="645.0" cy="465.1" r="5.6"/><circle cx="675.8" cy="423.3" r="5.6"/><circle cx="553.5" cy="534.9" r="5.6"/><circle cx="621.7" cy="477.8" r="5.6"/><circle cx="584.7" cy="501.8" r="5.6"/><circle cx="594.6" cy="494.5" r="5.6"/><circle cx="615.9" cy="510.2" r="5.6"/><circle cx="486.5" cy="591.3" r="5.6"/><circle cx="549.0" cy="525.7" r="5.6"/><circle cx="547.5" cy="520.0" r="5.6"/><circle cx="582.3" cy="523.1" r="5.6"/><circle cx="624.4" cy="470.5" r="5.6"/><circle cx="508.5" cy="591.5" r="5.6"/><circle cx="636.7" cy="434.0" r="5.6"/><circle cx="612.0" cy="490.5" r="5.6"/><circle cx="607.2" cy="472.7" r="5.6"/><circle cx="552.6" cy="522.4" r="5.6"/><circle cx="613.5" cy="490.9" r="5.6"/><circle cx="625.1" cy="447.6" r="5.6"/><circle cx="611.5" cy="468.6" r="5.6"/><circle cx="657.0" cy="469.8" r="5.6"/><circle cx="648.0" cy="457.0" r="5.6"/><circle cx="559.7" cy="543.5" r="5.6"/><circle cx="600.7" cy="499.0" r="5.6"/><circle cx="609.7" cy="493.1" r="5.6"/><circle cx="607.5" cy="462.3" r="5.6"/><circle cx="521.6" cy="546.3" r="5.6"/><circle cx="530.1" cy="595.3" r="5.6"/><circle cx="629.3" cy="469.8" r="5.6"/><circle cx="635.6" cy="450.9" r="5.6"/><circle cx="588.5" cy="495.3" r="5.6"/><circle cx="500.5" cy="568.2" r="5.6"/><circle cx="584.2" cy="486.7" r="5.6"/><circle cx="533.6" cy="560.1" r="5.6"/><circle cx="679.0" cy="393.4" r="5.6"/><circle cx="607.1" cy="464.0" r="5.6"/><circle cx="580.1" cy="527.4" r="5.6"/><circle cx="730.1" cy="348.3" r="5.6"/><circle cx="559.7" cy="527.4" r="5.6"/><circle cx="609.8" cy="500.2" r="5.6"/><circle cx="653.1" cy="485.3" r="5.6"/><circle cx="651.8" cy="438.4" r="5.6"/><circle cx="567.3" cy="549.8" r="5.6"/><circle cx="569.8" cy="504.7" r="5.6"/><circle cx="633.8" cy="437.5" r="5.6"/><circle cx="583.2" cy="521.6" r="5.6"/><circle cx="660.2" cy="438.4" r="5.6"/><circle cx="619.8" cy="479.2" r="5.6"/><circle cx="617.6" cy="464.9" r="5.6"/><circle cx="588.6" cy="481.7" r="5.6"/><circle cx="583.4" cy="512.5" r="5.6"/><circle cx="619.3" cy="471.3" r="5.6"/><circle cx="651.1" cy="423.9" r="5.6"/><circle cx="627.8" cy="454.9" r="5.6"/><circle cx="560.7" cy="524.2" r="5.6"/><circle cx="595.0" cy="486.1" r="5.6"/><circle cx="540.1" cy="554.7" r="5.6"/><circle cx="544.8" cy="523.8" r="5.6"/><circle cx="535.2" cy="535.3" r="5.6"/><circle cx="634.0" cy="436.6" r="5.6"/><circle cx="682.4" cy="433.0" r="5.6"/><circle cx="703.0" cy="422.2" r="5.6"/><circle cx="685.1" cy="459.5" r="5.6"/><circle cx="639.4" cy="504.2" r="5.6"/><circle cx="646.8" cy="489.4" r="5.6"/><circle cx="697.1" cy="420.1" r="5.6"/><circle cx="678.3" cy="446.8" r="5.6"/><circle cx="669.1" cy="438.9" r="5.6"/><circle cx="678.8" cy="433.1" r="5.6"/><circle cx="671.3" cy="457.3" r="5.6"/><circle cx="684.5" cy="434.5" r="5.6"/><circle cx="719.5" cy="389.3" r="5.6"/><circle cx="710.8" cy="390.6" r="5.6"/><circle cx="721.3" cy="395.5" r="5.6"/><circle cx="658.8" cy="456.0" r="5.6"/><circle cx="670.7" cy="427.3" r="5.6"/><circle cx="708.7" cy="398.0" r="5.6"/><circle cx="599.9" cy="506.8" r="5.6"/><circle cx="625.3" cy="498.5" r="5.6"/><circle cx="632.4" cy="496.5" r="5.6"/><circle cx="639.0" cy="460.0" r="5.6"/><circle cx="652.8" cy="460.2" r="5.6"/><circle cx="670.7" cy="429.2" r="5.6"/><circle cx="749.1" cy="352.3" r="5.6"/><circle cx="672.4" cy="456.7" r="5.6"/><circle cx="682.4" cy="435.7" r="5.6"/><circle cx="601.4" cy="507.7" r="5.6"/><circle cx="643.6" cy="455.2" r="5.6"/><circle cx="695.3" cy="442.1" r="5.6"/><circle cx="715.6" cy="406.3" r="5.6"/><circle cx="598.3" cy="513.4" r="5.6"/><circle cx="673.3" cy="435.6" r="5.6"/><circle cx="676.4" cy="423.1" r="5.6"/><circle cx="687.6" cy="426.7" r="5.6"/><circle cx="686.1" cy="438.7" r="5.6"/><circle cx="686.6" cy="424.2" r="5.6"/><circle cx="678.6" cy="444.1" r="5.6"/><circle cx="630.0" cy="472.7" r="5.6"/><circle cx="700.1" cy="401.0" r="5.6"/><circle cx="680.4" cy="427.3" r="5.6"/><circle cx="710.5" cy="424.9" r="5.6"/><circle cx="694.2" cy="406.8" r="5.6"/><circle cx="643.0" cy="482.4" r="5.6"/><circle cx="724.8" cy="391.6" r="5.6"/><circle cx="647.0" cy="499.7" r="5.6"/><circle cx="689.7" cy="415.3" r="5.6"/><circle cx="677.1" cy="453.3" r="5.6"/><circle cx="663.0" cy="438.7" r="5.6"/><circle cx="648.7" cy="464.7" r="5.6"/><circle cx="657.5" cy="440.1" r="5.6"/><circle cx="685.0" cy="415.9" r="5.6"/><circle cx="716.6" cy="386.3" r="5.6"/><circle cx="717.1" cy="430.0" r="5.6"/><circle cx="732.7" cy="371.6" r="5.6"/><circle cx="660.2" cy="471.5" r="5.6"/><circle cx="679.1" cy="443.6" r="5.6"/><circle cx="743.6" cy="388.0" r="5.6"/><circle cx="706.5" cy="402.0" r="5.6"/><circle cx="684.7" cy="453.5" r="5.6"/><circle cx="635.1" cy="493.9" r="5.6"/><circle cx="675.6" cy="460.6" r="5.6"/><circle cx="651.4" cy="479.9" r="5.6"/><circle cx="715.4" cy="425.6" r="5.6"/><circle cx="691.8" cy="423.2" r="5.6"/><circle cx="608.9" cy="516.4" r="5.6"/><circle cx="641.7" cy="488.5" r="5.6"/><circle cx="663.7" cy="483.2" r="5.6"/><circle cx="704.9" cy="417.7" r="5.6"/><circle cx="692.5" cy="433.9" r="5.6"/><circle cx="679.7" cy="431.7" r="5.6"/><circle cx="634.1" cy="469.7" r="5.6"/><circle cx="687.5" cy="430.9" r="5.6"/><circle cx="728.5" cy="372.7" r="5.6"/><circle cx="697.8" cy="405.7" r="5.6"/><circle cx="700.8" cy="408.8" r="5.6"/><circle cx="671.7" cy="474.9" r="5.6"/><circle cx="672.4" cy="468.6" r="5.6"/><circle cx="692.5" cy="424.7" r="5.6"/><circle cx="685.7" cy="437.6" r="5.6"/><circle cx="693.4" cy="447.6" r="5.6"/><circle cx="652.0" cy="488.7" r="5.6"/><circle cx="663.2" cy="471.1" r="5.6"/><circle cx="611.6" cy="489.0" r="5.6"/><circle cx="708.1" cy="424.3" r="5.6"/><circle cx="664.9" cy="464.1" r="5.6"/><circle cx="668.1" cy="477.2" r="5.6"/><circle cx="622.6" cy="507.4" r="5.6"/><circle cx="669.4" cy="431.1" r="5.6"/><circle cx="677.5" cy="456.4" r="5.6"/><circle cx="743.1" cy="383.8" r="5.6"/><circle cx="654.9" cy="461.2" r="5.6"/><circle cx="723.2" cy="411.4" r="5.6"/><circle cx="672.1" cy="432.8" r="5.6"/><circle cx="630.3" cy="488.3" r="5.6"/><circle cx="654.3" cy="459.7" r="5.6"/><circle cx="698.8" cy="443.7" r="5.6"/><circle cx="697.6" cy="402.0" r="5.6"/><circle cx="704.3" cy="418.0" r="5.6"/><circle cx="711.4" cy="388.6" r="5.6"/><circle cx="692.8" cy="424.8" r="5.6"/><circle cx="699.7" cy="404.0" r="5.6"/><circle cx="678.9" cy="422.5" r="5.6"/><circle cx="746.4" cy="353.3" r="5.6"/><circle cx="638.9" cy="464.0" r="5.6"/><circle cx="653.1" cy="457.8" r="5.6"/><circle cx="752.6" cy="357.5" r="5.6"/><circle cx="711.0" cy="395.1" r="5.6"/><circle cx="733.7" cy="377.1" r="5.6"/><circle cx="703.9" cy="402.3" r="5.6"/><circle cx="658.5" cy="474.0" r="5.6"/><circle cx="640.0" cy="466.0" r="5.6"/><circle cx="660.8" cy="465.2" r="5.6"/><circle cx="647.4" cy="476.8" r="5.6"/><circle cx="718.3" cy="396.7" r="5.6"/><circle cx="647.0" cy="476.9" r="5.6"/><circle cx="654.6" cy="459.2" r="5.6"/><circle cx="649.9" cy="480.5" r="5.6"/><circle cx="747.9" cy="357.8" r="5.6"/><circle cx="696.4" cy="408.3" r="5.6"/><circle cx="691.9" cy="410.3" r="5.6"/><circle cx="656.9" cy="444.3" r="5.6"/><circle cx="654.2" cy="475.2" r="5.6"/><circle cx="594.5" cy="524.5" r="5.6"/><circle cx="757.3" cy="358.3" r="5.6"/><circle cx="706.0" cy="432.6" r="5.6"/><circle cx="665.6" cy="475.8" r="5.6"/><circle cx="709.7" cy="400.1" r="5.6"/><circle cx="730.6" cy="388.0" r="5.6"/><circle cx="661.0" cy="444.7" r="5.6"/><circle cx="622.9" cy="497.8" r="5.6"/><circle cx="702.2" cy="432.4" r="5.6"/><circle cx="669.7" cy="435.9" r="5.6"/><circle cx="744.2" cy="384.9" r="5.6"/><circle cx="720.4" cy="410.3" r="5.6"/><circle cx="682.8" cy="415.4" r="5.6"/><circle cx="674.2" cy="436.1" r="5.6"/><circle cx="744.5" cy="368.3" r="5.6"/><circle cx="686.4" cy="441.3" r="5.6"/><circle cx="712.6" cy="386.9" r="5.6"/><circle cx="678.1" cy="430.6" r="5.6"/><circle cx="751.8" cy="355.5" r="5.6"/><circle cx="691.2" cy="418.9" r="5.6"/><circle cx="728.5" cy="383.5" r="5.6"/><circle cx="652.8" cy="464.3" r="5.6"/><circle cx="668.4" cy="445.9" r="5.6"/><circle cx="675.3" cy="433.4" r="5.6"/><circle cx="685.9" cy="412.8" r="5.6"/><circle cx="662.5" cy="482.2" r="5.6"/><circle cx="618.8" cy="504.5" r="5.6"/><circle cx="739.2" cy="372.2" r="5.6"/><circle cx="648.5" cy="481.1" r="5.6"/><circle cx="671.6" cy="436.6" r="5.6"/><circle cx="704.1" cy="446.0" r="5.6"/><circle cx="658.3" cy="465.8" r="5.6"/><circle cx="710.7" cy="427.1" r="5.6"/><circle cx="683.8" cy="465.5" r="5.6"/><circle cx="666.3" cy="437.7" r="5.6"/><circle cx="714.7" cy="396.1" r="5.6"/><circle cx="706.5" cy="431.3" r="5.6"/><circle cx="678.2" cy="436.3" r="5.6"/><circle cx="688.5" cy="412.2" r="5.6"/><circle cx="697.3" cy="407.2" r="5.6"/><circle cx="671.7" cy="454.1" r="5.6"/><circle cx="675.6" cy="456.8" r="5.6"/><circle cx="628.1" cy="493.8" r="5.6"/><circle cx="677.4" cy="466.8" r="5.6"/><circle cx="675.8" cy="475.3" r="5.6"/><circle cx="680.5" cy="460.3" r="5.6"/><circle cx="728.1" cy="400.9" r="5.6"/><circle cx="694.5" cy="457.6" r="5.6"/><circle cx="678.9" cy="444.7" r="5.6"/><circle cx="714.0" cy="402.4" r="5.6"/><circle cx="601.7" cy="423.0" r="5.6"/><circle cx="556.4" cy="471.9" r="5.6"/><circle cx="616.1" cy="391.7" r="5.6"/><circle cx="670.0" cy="341.9" r="5.6"/><circle cx="632.7" cy="384.9" r="5.6"/><circle cx="701.3" cy="333.8" r="5.6"/><circle cx="542.8" cy="481.1" r="5.6"/><circle cx="640.4" cy="381.8" r="5.6"/><circle cx="555.3" cy="475.6" r="5.6"/><circle cx="626.1" cy="382.6" r="5.6"/><circle cx="631.3" cy="383.6" r="5.6"/><circle cx="620.3" cy="406.3" r="5.6"/><circle cx="659.8" cy="364.5" r="5.6"/><circle cx="643.5" cy="390.7" r="5.6"/><circle cx="554.2" cy="467.3" r="5.6"/><circle cx="579.6" cy="452.4" r="5.6"/><circle cx="538.6" cy="471.2" r="5.6"/><circle cx="598.1" cy="420.6" r="5.6"/><circle cx="536.5" cy="481.9" r="5.6"/><circle cx="595.8" cy="437.0" r="5.6"/><circle cx="589.8" cy="429.0" r="5.6"/><circle cx="610.1" cy="416.5" r="5.6"/><circle cx="522.2" cy="505.1" r="5.6"/><circle cx="593.5" cy="435.8" r="5.6"/><circle cx="541.5" cy="480.8" r="5.6"/><circle cx="603.9" cy="407.7" r="5.6"/><circle cx="598.4" cy="417.0" r="5.6"/><circle cx="572.1" cy="455.2" r="5.6"/><circle cx="529.3" cy="498.1" r="5.6"/><circle cx="536.2" cy="486.5" r="5.6"/><circle cx="462.1" cy="567.9" r="5.6"/><circle cx="593.4" cy="430.8" r="5.6"/><circle cx="638.4" cy="369.5" r="5.6"/><circle cx="616.1" cy="409.2" r="5.6"/><circle cx="613.8" cy="401.2" r="5.6"/><circle cx="486.9" cy="537.4" r="5.6"/><circle cx="647.0" cy="382.8" r="5.6"/><circle cx="531.5" cy="489.1" r="5.6"/><circle cx="658.6" cy="368.7" r="5.6"/><circle cx="613.8" cy="410.4" r="5.6"/><circle cx="573.8" cy="441.4" r="5.6"/><circle cx="614.1" cy="394.4" r="5.6"/><circle cx="544.7" cy="481.3" r="5.6"/><circle cx="516.6" cy="505.4" r="5.6"/><circle cx="446.6" cy="616.2" r="5.6"/><circle cx="470.5" cy="618.0" r="5.6"/><circle cx="496.1" cy="576.7" r="5.6"/><circle cx="377.8" cy="695.0" r="5.6"/><circle cx="428.2" cy="632.7" r="5.6"/><circle cx="412.5" cy="614.6" r="5.6"/><circle cx="477.3" cy="568.1" r="5.6"/><circle cx="366.4" cy="633.7" r="5.6"/><circle cx="488.5" cy="538.9" r="5.6"/><circle cx="367.3" cy="672.0" r="5.6"/><circle cx="458.1" cy="575.4" r="5.6"/><circle cx="459.6" cy="587.6" r="5.6"/><circle cx="472.6" cy="576.0" r="5.6"/><circle cx="375.1" cy="671.0" r="5.6"/><circle cx="375.9" cy="631.6" r="5.6"/><circle cx="412.3" cy="579.9" r="5.6"/><circle cx="382.0" cy="684.9" r="5.6"/><circle cx="405.7" cy="637.0" r="5.6"/><circle cx="447.5" cy="610.5" r="5.6"/><circle cx="385.2" cy="603.1" r="5.6"/><circle cx="484.1" cy="593.8" r="5.6"/><circle cx="379.9" cy="608.0" r="5.6"/><circle cx="414.2" cy="637.2" r="5.6"/><circle cx="387.4" cy="629.3" r="5.6"/><circle cx="404.6" cy="631.3" r="5.6"/><circle cx="466.8" cy="570.1" r="5.6"/><circle cx="412.3" cy="605.3" r="5.6"/><circle cx="471.8" cy="607.5" r="5.6"/><circle cx="394.6" cy="653.4" r="5.6"/><circle cx="477.6" cy="613.7" r="5.6"/><circle cx="469.0" cy="561.0" r="5.6"/><circle cx="475.6" cy="577.2" r="5.6"/><circle cx="397.0" cy="622.0" r="5.6"/><circle cx="442.4" cy="657.6" r="5.6"/><circle cx="400.3" cy="690.9" r="5.6"/><circle cx="446.8" cy="594.9" r="5.6"/><circle cx="420.5" cy="631.3" r="5.6"/><circle cx="483.2" cy="546.1" r="5.6"/><circle cx="410.9" cy="595.1" r="5.6"/><circle cx="394.6" cy="674.9" r="5.6"/><circle cx="392.7" cy="665.8" r="5.6"/><circle cx="401.6" cy="652.6" r="5.6"/><circle cx="468.6" cy="593.5" r="5.6"/><circle cx="402.7" cy="634.0" r="5.6"/><circle cx="493.6" cy="543.7" r="5.6"/><circle cx="425.4" cy="622.0" r="5.6"/><circle cx="446.9" cy="628.6" r="5.6"/><circle cx="468.0" cy="587.4" r="5.6"/><circle cx="400.8" cy="614.0" r="5.6"/><circle cx="441.8" cy="590.3" r="5.6"/><circle cx="465.7" cy="553.3" r="5.6"/><circle cx="471.7" cy="545.5" r="5.6"/><circle cx="369.1" cy="661.5" r="5.6"/><circle cx="366.9" cy="640.6" r="5.6"/><circle cx="474.5" cy="624.1" r="5.6"/><circle cx="446.3" cy="570.2" r="5.6"/><circle cx="379.4" cy="675.0" r="5.6"/><circle cx="466.6" cy="571.2" r="5.6"/><circle cx="492.5" cy="560.3" r="5.6"/><circle cx="403.8" cy="619.8" r="5.6"/><circle cx="470.0" cy="570.7" r="5.6"/><circle cx="441.6" cy="613.8" r="5.6"/><circle cx="492.8" cy="600.6" r="5.6"/><circle cx="479.1" cy="562.3" r="5.6"/><circle cx="480.9" cy="559.5" r="5.6"/><circle cx="452.7" cy="551.2" r="5.6"/><circle cx="406.4" cy="608.1" r="5.6"/><circle cx="418.7" cy="633.2" r="5.6"/><circle cx="441.3" cy="565.0" r="5.6"/><circle cx="453.0" cy="589.1" r="5.6"/><circle cx="471.3" cy="596.0" r="5.6"/><circle cx="475.6" cy="633.2" r="5.6"/><circle cx="412.0" cy="605.0" r="5.6"/><circle cx="490.1" cy="574.5" r="5.6"/><circle cx="405.3" cy="636.9" r="5.6"/><circle cx="426.0" cy="611.9" r="5.6"/><circle cx="398.4" cy="621.1" r="5.6"/><circle cx="376.6" cy="618.8" r="5.6"/><circle cx="395.8" cy="634.9" r="5.6"/><circle cx="392.4" cy="649.2" r="5.6"/><circle cx="474.1" cy="586.0" r="5.6"/><circle cx="389.1" cy="636.6" r="5.6"/><circle cx="416.3" cy="654.5" r="5.6"/><circle cx="381.5" cy="614.2" r="5.6"/><circle cx="431.2" cy="606.3" r="5.6"/><circle cx="478.9" cy="612.0" r="5.6"/><circle cx="439.8" cy="622.8" r="5.6"/><circle cx="482.4" cy="559.5" r="5.6"/><circle cx="493.9" cy="552.2" r="5.6"/><circle cx="496.4" cy="564.3" r="5.6"/><circle cx="492.1" cy="575.7" r="5.6"/><circle cx="413.0" cy="634.8" r="5.6"/><circle cx="415.8" cy="646.5" r="5.6"/><circle cx="470.0" cy="567.0" r="5.6"/><circle cx="430.4" cy="568.9" r="5.6"/><circle cx="383.9" cy="654.5" r="5.6"/><circle cx="394.4" cy="627.5" r="5.6"/><circle cx="471.2" cy="577.1" r="5.6"/><circle cx="407.3" cy="656.3" r="5.6"/><circle cx="449.1" cy="611.5" r="5.6"/><circle cx="472.8" cy="591.9" r="5.6"/><circle cx="472.8" cy="595.7" r="5.6"/><circle cx="473.2" cy="634.8" r="5.6"/><circle cx="424.0" cy="591.8" r="5.6"/><circle cx="403.8" cy="639.6" r="5.6"/><circle cx="472.6" cy="600.0" r="5.6"/><circle cx="403.0" cy="633.1" r="5.6"/><circle cx="377.0" cy="629.4" r="5.6"/><circle cx="484.8" cy="527.7" r="5.6"/><circle cx="410.6" cy="673.9" r="5.6"/><circle cx="495.2" cy="557.0" r="5.6"/><circle cx="488.7" cy="542.7" r="5.6"/><circle cx="476.2" cy="570.2" r="5.6"/><circle cx="373.9" cy="621.3" r="5.6"/><circle cx="396.6" cy="662.2" r="5.6"/><circle cx="417.8" cy="613.2" r="5.6"/><circle cx="399.5" cy="617.3" r="5.6"/><circle cx="373.0" cy="663.2" r="5.6"/><circle cx="407.5" cy="631.6" r="5.6"/><circle cx="468.4" cy="582.7" r="5.6"/><circle cx="474.4" cy="611.4" r="5.6"/><circle cx="483.0" cy="584.4" r="5.6"/><circle cx="372.3" cy="635.3" r="5.6"/><circle cx="472.5" cy="626.9" r="5.6"/><circle cx="454.9" cy="607.8" r="5.6"/><circle cx="485.9" cy="570.4" r="5.6"/><circle cx="387.1" cy="659.0" r="5.6"/><circle cx="465.3" cy="578.3" r="5.6"/><circle cx="454.2" cy="639.4" r="5.6"/><circle cx="465.8" cy="587.6" r="5.6"/><circle cx="437.2" cy="593.7" r="5.6"/><circle cx="451.9" cy="600.4" r="5.6"/><circle cx="374.7" cy="684.4" r="5.6"/><circle cx="455.7" cy="621.9" r="5.6"/><circle cx="433.2" cy="601.8" r="5.6"/><circle cx="430.8" cy="639.3" r="5.6"/><circle cx="441.0" cy="568.8" r="5.6"/><circle cx="467.0" cy="639.8" r="5.6"/><circle cx="377.8" cy="696.4" r="5.6"/><circle cx="407.9" cy="619.3" r="5.6"/><circle cx="475.1" cy="586.3" r="5.6"/><circle cx="382.6" cy="663.5" r="5.6"/><circle cx="454.3" cy="632.8" r="5.6"/><circle cx="462.1" cy="613.4" r="5.6"/><circle cx="417.1" cy="588.7" r="5.6"/><circle cx="482.5" cy="583.1" r="5.6"/><circle cx="497.0" cy="563.9" r="5.6"/><circle cx="478.2" cy="548.5" r="5.6"/><circle cx="443.3" cy="598.8" r="5.6"/><circle cx="494.2" cy="576.6" r="5.6"/><circle cx="441.8" cy="642.7" r="5.6"/><circle cx="387.8" cy="664.1" r="5.6"/><circle cx="419.0" cy="623.9" r="5.6"/><circle cx="415.1" cy="606.7" r="5.6"/><circle cx="416.5" cy="602.3" r="5.6"/><circle cx="390.1" cy="610.5" r="5.6"/><circle cx="469.1" cy="558.8" r="5.6"/><circle cx="495.4" cy="539.2" r="5.6"/><circle cx="394.2" cy="650.1" r="5.6"/><circle cx="375.1" cy="621.3" r="5.6"/><circle cx="466.1" cy="561.8" r="5.6"/><circle cx="459.5" cy="621.4" r="5.6"/><circle cx="483.8" cy="572.5" r="5.6"/><circle cx="460.8" cy="630.5" r="5.6"/><circle cx="471.7" cy="590.6" r="5.6"/><circle cx="439.2" cy="595.9" r="5.6"/><circle cx="446.9" cy="574.4" r="5.6"/><circle cx="441.4" cy="616.8" r="5.6"/><circle cx="393.6" cy="640.2" r="5.6"/><circle cx="400.8" cy="620.0" r="5.6"/><circle cx="412.8" cy="635.8" r="5.6"/><circle cx="493.7" cy="574.0" r="5.6"/><circle cx="403.8" cy="655.8" r="5.6"/><circle cx="367.0" cy="674.5" r="5.6"/><circle cx="368.2" cy="683.9" r="5.6"/><circle cx="444.9" cy="605.1" r="5.6"/><circle cx="446.2" cy="587.7" r="5.6"/><circle cx="417.3" cy="595.0" r="5.6"/><circle cx="440.5" cy="599.4" r="5.6"/><circle cx="399.5" cy="632.3" r="5.6"/><circle cx="417.7" cy="615.5" r="5.6"/><circle cx="492.6" cy="542.2" r="5.6"/><circle cx="474.4" cy="564.6" r="5.6"/><circle cx="468.5" cy="643.2" r="5.6"/><circle cx="451.0" cy="593.0" r="5.6"/><circle cx="434.6" cy="630.5" r="5.6"/><circle cx="455.1" cy="640.5" r="5.6"/><circle cx="722.3" cy="328.9" r="5.6"/><circle cx="707.2" cy="345.2" r="5.6"/><circle cx="746.4" cy="354.3" r="5.6"/><circle cx="753.0" cy="335.5" r="5.6"/><circle cx="759.0" cy="304.7" r="5.6"/><circle cx="740.8" cy="310.0" r="5.6"/><circle cx="720.3" cy="348.1" r="5.6"/><circle cx="729.5" cy="359.3" r="5.6"/><circle cx="737.6" cy="345.6" r="5.6"/><circle cx="750.4" cy="366.9" r="5.6"/><circle cx="750.5" cy="322.2" r="5.6"/><circle cx="753.7" cy="367.3" r="5.6"/><circle cx="740.0" cy="319.6" r="5.6"/><circle cx="759.9" cy="326.2" r="5.6"/><circle cx="749.8" cy="304.0" r="5.6"/><circle cx="741.9" cy="335.9" r="5.6"/><circle cx="689.4" cy="382.0" r="5.6"/><circle cx="734.4" cy="372.2" r="5.6"/><circle cx="756.8" cy="319.7" r="5.6"/><circle cx="733.4" cy="320.6" r="5.6"/><circle cx="720.8" cy="335.2" r="5.6"/><circle cx="731.2" cy="334.7" r="5.6"/><circle cx="745.4" cy="293.8" r="5.6"/><circle cx="752.1" cy="361.0" r="5.6"/><circle cx="727.5" cy="352.7" r="5.6"/><circle cx="725.3" cy="345.3" r="5.6"/><circle cx="749.9" cy="338.5" r="5.6"/><circle cx="201.8" cy="813.0" r="5.6"/><circle cx="226.2" cy="779.5" r="5.6"/><circle cx="217.0" cy="757.8" r="5.6"/><circle cx="237.8" cy="740.2" r="5.6"/><circle cx="252.0" cy="733.8" r="5.6"/><circle cx="252.0" cy="718.2" r="5.6"/><circle cx="226.0" cy="703.0" r="5.6"/><circle cx="240.5" cy="673.2" r="5.6"/><circle cx="269.2" cy="653.8" r="5.6"/><circle cx="268.8" cy="709.2" r="5.6"/><circle cx="273.0" cy="704.5" r="5.6"/><circle cx="272.0" cy="712.0" r="5.6"/><circle cx="274.2" cy="716.8" r="5.6"/><circle cx="288.0" cy="704.2" r="5.6"/><circle cx="295.0" cy="720.0" r="5.6"/><circle cx="304.2" cy="712.5" r="5.6"/><circle cx="306.2" cy="720.5" r="5.6"/><circle cx="299.5" cy="680.5" r="5.6"/><circle cx="302.2" cy="650.0" r="5.6"/><circle cx="303.8" cy="653.8" r="5.6"/><circle cx="311.0" cy="660.0" r="5.6"/><circle cx="323.8" cy="659.5" r="5.6"/><circle cx="318.2" cy="622.0" r="5.6"/><circle cx="323.2" cy="617.0" r="5.6"/><circle cx="326.8" cy="632.0" r="5.6"/><circle cx="329.2" cy="638.0" r="5.6"/><circle cx="334.2" cy="627.5" r="5.6"/><circle cx="337.5" cy="629.5" r="5.6"/><circle cx="342.0" cy="634.2" r="5.6"/><circle cx="356.2" cy="622.8" r="5.6"/><circle cx="372.5" cy="610.0" r="5.6"/><circle cx="318.2" cy="676.2" r="5.6"/><circle cx="326.2" cy="673.8" r="5.6"/><circle cx="317.0" cy="681.2" r="5.6"/><circle cx="322.5" cy="681.2" r="5.6"/><circle cx="325.0" cy="685.0" r="5.6"/><circle cx="313.2" cy="687.5" r="5.6"/><circle cx="344.2" cy="660.8" r="5.6"/><circle cx="350.0" cy="665.5" r="5.6"/><circle cx="358.0" cy="663.2" r="5.6"/><circle cx="350.8" cy="673.8" r="5.6"/><circle cx="358.8" cy="675.0" r="5.6"/><circle cx="356.5" cy="683.8" r="5.6"/><circle cx="353.2" cy="688.0" r="5.6"/><circle cx="336.2" cy="693.0" r="5.6"/><circle cx="335.8" cy="696.2" r="5.6"/><circle cx="337.5" cy="701.2" r="5.6"/><circle cx="350.0" cy="702.0" r="5.6"/><circle cx="343.8" cy="710.0" r="5.6"/><circle cx="347.0" cy="711.2" r="5.6"/><circle cx="327.5" cy="714.5" r="5.6"/><circle cx="340.0" cy="721.8" r="5.6"/><circle cx="357.0" cy="717.0" r="5.6"/><circle cx="357.0" cy="730.0" r="5.6"/><circle cx="343.8" cy="728.0" r="5.6"/><circle cx="337.5" cy="730.5" r="5.6"/><circle cx="316.2" cy="730.8" r="5.6"/><circle cx="323.2" cy="730.0" r="5.6"/><circle cx="332.5" cy="736.8" r="5.6"/><circle cx="303.2" cy="742.5" r="5.6"/><circle cx="310.0" cy="747.5" r="5.6"/><circle cx="313.8" cy="745.8" r="5.6"/><circle cx="315.0" cy="750.0" r="5.6"/><circle cx="292.5" cy="751.8" r="5.6"/><circle cx="335.5" cy="762.0" r="5.6"/><circle cx="358.0" cy="779.0" r="5.6"/><circle cx="285.5" cy="782.0" r="5.6"/><circle cx="277.0" cy="795.0" r="5.6"/><circle cx="311.2" cy="790.0" r="5.6"/><circle cx="319.5" cy="784.2" r="5.6"/><circle cx="323.8" cy="789.5" r="5.6"/><circle cx="407.5" cy="696.2" r="5.6"/><circle cx="418.8" cy="701.2" r="5.6"/><circle cx="424.5" cy="708.0" r="5.6"/><circle cx="427.5" cy="703.0" r="5.6"/><circle cx="563.8" cy="656.5" r="5.6"/><circle cx="437.5" cy="671.5" r="5.6"/><circle cx="461.8" cy="660.0" r="5.6"/><circle cx="468.8" cy="657.5" r="5.6"/><circle cx="485.0" cy="639.5" r="5.6"/><circle cx="511.8" cy="637.0" r="5.6"/><circle cx="512.5" cy="628.8" r="5.6"/><circle cx="495.5" cy="633.2" r="5.6"/><circle cx="498.8" cy="631.2" r="5.6"/><circle cx="612.5" cy="605.5" r="5.6"/><circle cx="631.8" cy="605.5" r="5.6"/><circle cx="546.2" cy="614.5" r="5.6"/><circle cx="557.0" cy="611.2" r="5.6"/><circle cx="557.5" cy="607.5" r="5.6"/><circle cx="568.8" cy="602.5" r="5.6"/><circle cx="315.8" cy="438.0" r="5.6"/><circle cx="376.5" cy="460.0" r="5.6"/><circle cx="282.8" cy="552.5" r="5.6"/><circle cx="349.0" cy="498.2" r="5.6"/><circle cx="363.2" cy="526.5" r="5.6"/><circle cx="401.2" cy="514.2" r="5.6"/><circle cx="420.8" cy="515.8" r="5.6"/><circle cx="431.2" cy="507.5" r="5.6"/><circle cx="426.8" cy="490.8" r="5.6"/><circle cx="437.5" cy="480.0" r="5.6"/><circle cx="460.8" cy="444.5" r="5.6"/><circle cx="456.2" cy="453.8" r="5.6"/><circle cx="476.2" cy="458.8" r="5.6"/><circle cx="496.2" cy="462.5" r="5.6"/><circle cx="488.8" cy="388.0" r="5.6"/><circle cx="497.5" cy="397.0" r="5.6"/><circle cx="491.2" cy="478.2" r="5.6"/><circle cx="469.2" cy="487.5" r="5.6"/><circle cx="488.8" cy="497.0" r="5.6"/><circle cx="477.0" cy="503.2" r="5.6"/><circle cx="489.5" cy="504.2" r="5.6"/><circle cx="460.8" cy="511.2" r="5.6"/><circle cx="475.8" cy="511.2" r="5.6"/><circle cx="476.2" cy="515.0" r="5.6"/><circle cx="488.8" cy="515.0" r="5.6"/><circle cx="460.0" cy="530.8" r="5.6"/><circle cx="470.0" cy="528.8" r="5.6"/><circle cx="405.5" cy="550.0" r="5.6"/><circle cx="410.0" cy="556.2" r="5.6"/><circle cx="382.5" cy="561.8" r="5.6"/><circle cx="398.8" cy="569.2" r="5.6"/><circle cx="408.8" cy="566.2" r="5.6"/><circle cx="407.5" cy="573.8" r="5.6"/><circle cx="431.8" cy="558.2" r="5.6"/><circle cx="420.0" cy="572.5" r="5.6"/><circle cx="400.0" cy="587.5" r="5.6"/><circle cx="779.5" cy="434.5" r="5.6"/><circle cx="756.2" cy="477.0" r="5.6"/><circle cx="728.5" cy="508.2" r="5.6"/><circle cx="697.0" cy="535.0" r="5.6"/><circle cx="679.5" cy="530.8" r="5.6"/><circle cx="673.8" cy="540.0" r="5.6"/><circle cx="658.0" cy="544.2" r="5.6"/><circle cx="646.2" cy="563.2" r="5.6"/><circle cx="661.8" cy="594.5" r="5.6"/><circle cx="620.8" cy="594.2" r="5.6"/><circle cx="709.5" cy="467.0" r="5.6"/><circle cx="689.2" cy="486.2" r="5.6"/><circle cx="702.5" cy="490.5" r="5.6"/><circle cx="698.8" cy="493.2" r="5.6"/><circle cx="677.0" cy="490.8" r="5.6"/><circle cx="667.5" cy="497.5" r="5.6"/><circle cx="660.0" cy="502.5" r="5.6"/><circle cx="661.2" cy="506.2" r="5.6"/><circle cx="652.5" cy="503.0" r="5.6"/><circle cx="650.0" cy="512.5" r="5.6"/><circle cx="646.2" cy="523.0" r="5.6"/><circle cx="646.2" cy="531.2" r="5.6"/><circle cx="636.2" cy="536.2" r="5.6"/><circle cx="635.0" cy="525.0" r="5.6"/><circle cx="622.5" cy="535.0" r="5.6"/><circle cx="618.2" cy="548.2" r="5.6"/><circle cx="627.0" cy="552.0" r="5.6"/><circle cx="621.2" cy="556.2" r="5.6"/><circle cx="614.5" cy="558.2" r="5.6"/><circle cx="600.5" cy="565.8" r="5.6"/><circle cx="590.0" cy="580.5" r="5.6"/><circle cx="585.0" cy="578.8" r="5.6"/><circle cx="575.0" cy="588.8" r="5.6"/><circle cx="576.2" cy="596.8" r="5.6"/><circle cx="560.0" cy="610.0" r="5.6"/><circle cx="570.0" cy="582.5" r="5.6"/><circle cx="726.8" cy="424.2" r="5.6"/><circle cx="736.2" cy="415.0" r="5.6"/><circle cx="746.2" cy="408.8" r="5.6"/><circle cx="747.5" cy="403.8" r="5.6"/><circle cx="730.0" cy="435.0" r="5.6"/><circle cx="726.2" cy="437.5" r="5.6"/><circle cx="716.2" cy="442.5" r="5.6"/><circle cx="722.5" cy="445.0" r="5.6"/><circle cx="712.5" cy="451.2" r="5.6"/><circle cx="717.5" cy="456.2" r="5.6"/><circle cx="704.5" cy="453.8" r="5.6"/><circle cx="906.8" cy="149.5" r="5.6"/><circle cx="846.8" cy="215.8" r="5.6"/><circle cx="830.0" cy="223.2" r="5.6"/><circle cx="835.8" cy="227.0" r="5.6"/><circle cx="821.2" cy="240.0" r="5.6"/><circle cx="838.8" cy="252.0" r="5.6"/><circle cx="807.5" cy="245.8" r="5.6"/><circle cx="812.5" cy="251.2" r="5.6"/><circle cx="802.5" cy="249.5" r="5.6"/><circle cx="792.5" cy="247.0" r="5.6"/><circle cx="789.5" cy="253.0" r="5.6"/><circle cx="793.8" cy="255.0" r="5.6"/><circle cx="790.0" cy="260.0" r="5.6"/><circle cx="795.0" cy="258.8" r="5.6"/><circle cx="802.5" cy="257.5" r="5.6"/><circle cx="797.5" cy="262.5" r="5.6"/><circle cx="761.2" cy="255.8" r="5.6"/><circle cx="771.8" cy="259.5" r="5.6"/><circle cx="777.0" cy="268.8" r="5.6"/><circle cx="760.0" cy="271.8" r="5.6"/><circle cx="768.8" cy="275.0" r="5.6"/><circle cx="821.2" cy="263.2" r="5.6"/><circle cx="827.5" cy="260.8" r="5.6"/><circle cx="824.5" cy="271.8" r="5.6"/><circle cx="839.5" cy="275.0" r="5.6"/><circle cx="825.0" cy="284.2" r="5.6"/><circle cx="830.0" cy="282.5" r="5.6"/><circle cx="811.2" cy="277.5" r="5.6"/><circle cx="807.5" cy="282.0" r="5.6"/><circle cx="812.5" cy="285.0" r="5.6"/><circle cx="805.0" cy="287.5" r="5.6"/><circle cx="796.2" cy="277.5" r="5.6"/><circle cx="786.2" cy="277.5" r="5.6"/><circle cx="788.8" cy="281.2" r="5.6"/><circle cx="792.5" cy="280.0" r="5.6"/><circle cx="780.0" cy="280.0" r="5.6"/><circle cx="782.5" cy="282.5" r="5.6"/><circle cx="788.8" cy="299.2" r="5.6"/><circle cx="808.8" cy="301.8" r="5.6"/><circle cx="790.0" cy="308.8" r="5.6"/><circle cx="802.5" cy="310.0" r="5.6"/><circle cx="792.0" cy="318.0" r="5.6"/><circle cx="806.2" cy="322.5" r="5.6"/><circle cx="797.5" cy="330.0" r="5.6"/><circle cx="803.8" cy="332.0" r="5.6"/><circle cx="789.2" cy="337.5" r="5.6"/><circle cx="775.0" cy="347.5" r="5.6"/><circle cx="786.2" cy="356.8" r="5.6"/><circle cx="795.0" cy="358.2" r="5.6"/><circle cx="812.0" cy="371.8" r="5.6"/><circle cx="764.5" cy="337.5" r="5.6"/><circle cx="761.2" cy="350.0" r="5.6"/><circle cx="762.0" cy="360.0" r="5.6"/><circle cx="763.8" cy="373.8" r="5.6"/><circle cx="714.5" cy="297.5" r="5.6"/><circle cx="766.2" cy="281.2" r="5.6"/><circle cx="771.2" cy="287.5" r="5.6"/><circle cx="773.8" cy="295.0" r="5.6"/><circle cx="768.8" cy="292.5" r="5.6"/><circle cx="775.0" cy="312.5" r="5.6"/><circle cx="780.0" cy="318.8" r="5.6"/><circle cx="773.8" cy="321.2" r="5.6"/><circle cx="777.5" cy="310.0" r="5.6"/><circle cx="537.0" cy="409.2" r="5.6"/><circle cx="521.5" cy="437.0" r="5.6"/><circle cx="537.5" cy="447.5" r="5.6"/><circle cx="543.8" cy="456.2" r="5.6"/><circle cx="506.2" cy="452.5" r="5.6"/><circle cx="563.8" cy="422.5" r="5.6"/><circle cx="567.5" cy="428.8" r="5.6"/><circle cx="590.0" cy="392.0" r="5.6"/><circle cx="597.0" cy="387.5" r="5.6"/><circle cx="628.2" cy="371.8" r="5.6"/><circle cx="676.8" cy="325.8" r="5.6"/><circle cx="689.5" cy="323.8" r="5.6"/><circle cx="696.2" cy="316.2" r="5.6"/><circle cx="582.5" cy="410.0" r="5.6"/><circle cx="587.5" cy="407.5" r="5.6"/><circle cx="592.5" cy="403.8" r="5.6"/><circle cx="536.2" cy="468.8" r="5.6"/><circle cx="759.0" cy="331.4" r="5.6"/><circle cx="784.8" cy="311.1" r="5.6"/><circle cx="754.3" cy="326.7" r="5.6"/><circle cx="768.7" cy="314.3" r="5.6"/><circle cx="757.9" cy="331.7" r="5.6"/><circle cx="744.7" cy="337.7" r="5.6"/><circle cx="762.0" cy="324.5" r="5.6"/><circle cx="757.5" cy="313.2" r="5.6"/><circle cx="774.5" cy="295.5" r="5.6"/><circle cx="743.5" cy="344.7" r="5.6"/><circle cx="751.0" cy="327.5" r="5.6"/><circle cx="743.6" cy="349.0" r="5.6"/><circle cx="757.7" cy="341.5" r="5.6"/><circle cx="755.4" cy="319.8" r="5.6"/><circle cx="759.1" cy="310.1" r="5.6"/><circle cx="780.2" cy="298.6" r="5.6"/><circle cx="774.5" cy="306.5" r="5.6"/><circle cx="746.9" cy="313.0" r="5.6"/><circle cx="763.2" cy="341.6" r="5.6"/><circle cx="762.5" cy="332.9" r="5.6"/><circle cx="749.1" cy="328.0" r="5.6"/><circle cx="762.2" cy="300.3" r="5.6"/><circle cx="779.3" cy="277.7" r="5.6"/><circle cx="752.0" cy="331.9" r="5.6"/><circle cx="772.8" cy="298.2" r="5.6"/><circle cx="785.9" cy="297.2" r="5.6"/><circle cx="779.2" cy="307.3" r="5.6"/><circle cx="766.2" cy="306.1" r="5.6"/></g>
<g fill="none" stroke="#000" stroke-width="1.56" stroke-linecap="round" stroke-linejoin="round">
<rect x="123" y="123" width="814" height="724"/>
<path d="M256.03 847V862M428.32 847V862M600.60 847V862M772.88 847V862M256.03 847H772.88"/>
<path d="M123 753.90H108M123 605.77H108M123 457.65H108M123 309.52H108M123 161.40H108M123 753.90V161.40"/>
</g>
<line x1="110" y1="879.29" x2="960" y2="149.35" stroke="#ff0000" stroke-width="1.56" clip-path="url(#clip)"/>
<text transform="translate(530.3 73.2) scale(0.913 1)" font-size="33.4" font-weight="bold" text-anchor="middle">rrp6D_2_T0 vs xrn1D_2_T0</text>
<text x="529.9" y="117" font-size="12.1" text-anchor="middle" xml:space="preserve">Pearson correlation =  0.91</text>
<g font-size="27.4" text-anchor="middle">
<text transform="translate(256.0 900.7) scale(0.927 1)">-10</text>
<text transform="translate(428.3 900.7) scale(0.927 1)">-5</text>
<text transform="translate(600.6 900.7) scale(0.927 1)">0</text>
<text transform="translate(772.9 900.7) scale(0.927 1)">5</text>
<text transform="translate(530 960.4) scale(0.927 1)">xrn1D_2_T0 log2 densities</text>
<text transform="translate(87.7 753.9) rotate(-90) scale(0.927 1)">-10</text>
<text transform="translate(87.7 605.8) rotate(-90) scale(0.927 1)">-5</text>
<text transform="translate(87.7 457.6) rotate(-90) scale(0.927 1)">0</text>
<text transform="translate(87.7 309.5) rotate(-90) scale(0.927 1)">5</text>
<text transform="translate(87.7 161.4) rotate(-90) scale(0.927 1)">10</text>
<text transform="translate(27.6 485) rotate(-90) scale(0.927 1)">rrp6D_2_T0 log2 densities</text>
</g>
</svg>
</body></html>
